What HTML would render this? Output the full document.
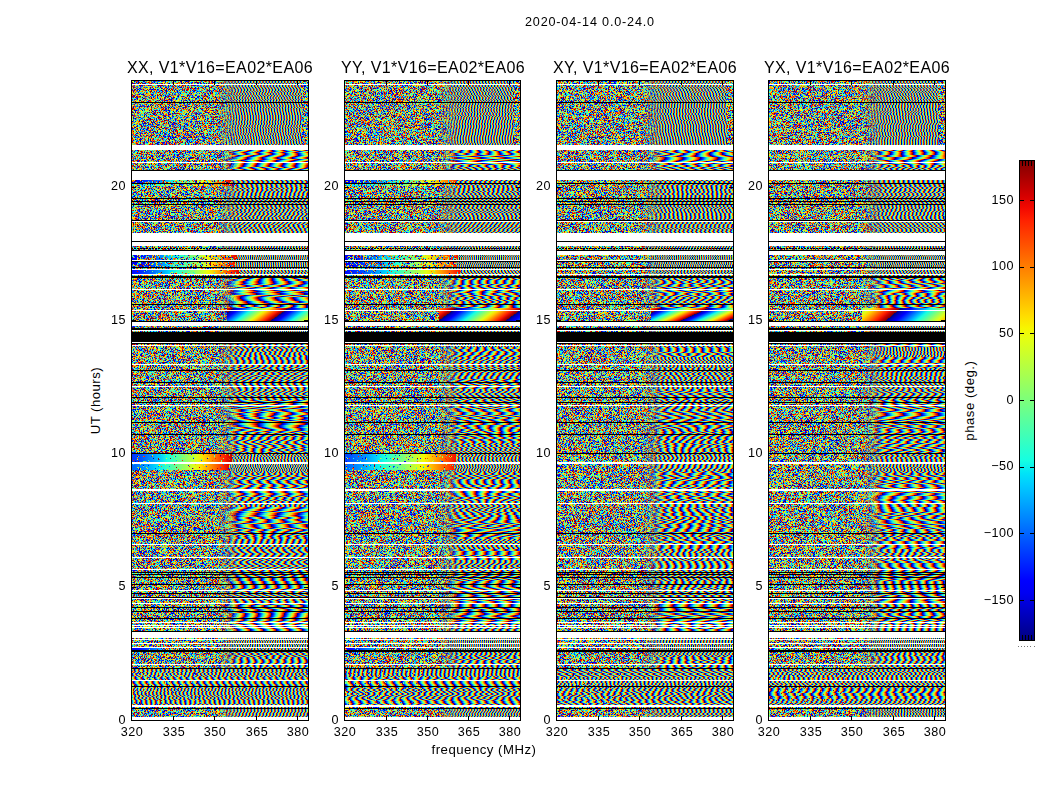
<!DOCTYPE html>
<html><head><meta charset="utf-8"><title>2020-04-14 0.0-24.0</title>
<style>
html,body{margin:0;padding:0;background:#fff;}
body{width:1050px;height:800px;position:relative;overflow:hidden;font-family:"Liberation Sans",sans-serif;color:#000;}
.t{position:absolute;white-space:nowrap;line-height:1;will-change:transform;}
.ax{position:absolute;box-sizing:border-box;border:1px solid #000;}
.tk{position:absolute;background:#000;}
.pan{position:absolute;display:block;}

</style></head><body>
<div class="t" id="ylab" style="will-change:auto;left:-4px;top:394px;width:200px;text-align:center;font-size:13.2px;letter-spacing:0.45px;transform:rotate(-90deg);">UT (hours)</div>
<div class="t" id="clab" style="will-change:auto;left:870px;top:393.5px;width:200px;text-align:center;font-size:13.2px;letter-spacing:0.5px;transform:rotate(-90deg);">phase (deg.)</div>
<svg width="0" height="0" style="position:absolute"><defs>
<filter id="nz0" x="0" y="0" width="100%" height="100%" color-interpolation-filters="sRGB"><feTurbulence type="fractalNoise" baseFrequency="0.43 0.37" numOctaves="1" seed="3"/><feColorMatrix type="matrix" values="1 0 0 0 0 1 0 0 0 0 1 0 0 0 0 0 0 0 0 1"/><feComponentTransfer><feFuncR type="discrete" tableValues="0 0 0 0 0 .08 .24 .4 .56 .73 .89 1 1 1 1 1 .84 .61 0 0 0 0 0 0 0 .08 .24 .4 .56 .73 .89 1 1 1 1 1 .84 .61 0 0 0 0 0 0 0 .08 .24 .4 .56 .73 .89 1 1 1 1 1 .84 .61 0 0 0 0 0 0 0 .08 .24 .4 .56 .73 .89 1 1 1 1 1 .84 .61 0 0 0 0 0 0 0 .08 .24 .4 .56 .73 .89 1 1 1 1 1 .84 .61 0 0 0 0 0 0 0 .08 .24 .4 .56 .73 .89 1 1 1 1 1 .84 .61 0 0 0 0 0 0 0 .08 .24 .4 .56 .73 .89 1 1 1 1 1 .84 .61 0 0 0 0 0 0 0 .08 .24 .4 .56 .73 .89 1 1 1 1 1 .84 .61 0 0"/><feFuncG type="discrete" tableValues="0 .2 .4 .6 .8 1 1 1 1 1 1 .87 .69 .5 .31 .13 0 0 0 0 0 .2 .4 .6 .8 1 1 1 1 1 1 .87 .69 .5 .31 .13 0 0 0 0 0 .2 .4 .6 .8 1 1 1 1 1 1 .87 .69 .5 .31 .13 0 0 0 0 0 .2 .4 .6 .8 1 1 1 1 1 1 .87 .69 .5 .31 .13 0 0 0 0 0 .2 .4 .6 .8 1 1 1 1 1 1 .87 .69 .5 .31 .13 0 0 0 0 0 .2 .4 .6 .8 1 1 1 1 1 1 .87 .69 .5 .31 .13 0 0 0 0 0 .2 .4 .6 .8 1 1 1 1 1 1 .87 .69 .5 .31 .13 0 0 0 0 0 .2 .4 .6 .8 1 1 1 1 1 1 .87 .69 .5 .31 .13 0 0 0 0"/><feFuncB type="discrete" tableValues="1 1 1 1 1 .89 .73 .56 .4 .24 .08 0 0 0 0 0 0 0 .61 .84 1 1 1 1 1 .89 .73 .56 .4 .24 .08 0 0 0 0 0 0 0 .61 .84 1 1 1 1 1 .89 .73 .56 .4 .24 .08 0 0 0 0 0 0 0 .61 .84 1 1 1 1 1 .89 .73 .56 .4 .24 .08 0 0 0 0 0 0 0 .61 .84 1 1 1 1 1 .89 .73 .56 .4 .24 .08 0 0 0 0 0 0 0 .61 .84 1 1 1 1 1 .89 .73 .56 .4 .24 .08 0 0 0 0 0 0 0 .61 .84 1 1 1 1 1 .89 .73 .56 .4 .24 .08 0 0 0 0 0 0 0 .61 .84 1 1 1 1 1 .89 .73 .56 .4 .24 .08 0 0 0 0 0 0 0 .61 .84"/></feComponentTransfer></filter>
<filter id="sp0" x="0" y="0" width="100%" height="100%" color-interpolation-filters="sRGB"><feTurbulence type="fractalNoise" baseFrequency="0.47 0.41" numOctaves="1" seed="40"/><feColorMatrix type="matrix" values="1 0 0 0 0 1 0 0 0 0 1 0 0 0 0 0 0 0 1 0"/><feComponentTransfer><feFuncR type="discrete" tableValues="0 0 0 0 0 .08 .24 .4 .56 .73 .89 1 1 1 1 1 .84 .61 0 0 0 0 0 0 0 .08 .24 .4 .56 .73 .89 1 1 1 1 1 .84 .61 0 0 0 0 0 0 0 .08 .24 .4 .56 .73 .89 1 1 1 1 1 .84 .61 0 0 0 0 0 0 0 .08 .24 .4 .56 .73 .89 1 1 1 1 1 .84 .61 0 0 0 0 0 0 0 .08 .24 .4 .56 .73 .89 1 1 1 1 1 .84 .61 0 0 0 0 0 0 0 .08 .24 .4 .56 .73 .89 1 1 1 1 1 .84 .61 0 0 0 0 0 0 0 .08 .24 .4 .56 .73 .89 1 1 1 1 1 .84 .61 0 0 0 0 0 0 0 .08 .24 .4 .56 .73 .89 1 1 1 1 1 .84 .61 0 0"/><feFuncG type="discrete" tableValues="0 .2 .4 .6 .8 1 1 1 1 1 1 .87 .69 .5 .31 .13 0 0 0 0 0 .2 .4 .6 .8 1 1 1 1 1 1 .87 .69 .5 .31 .13 0 0 0 0 0 .2 .4 .6 .8 1 1 1 1 1 1 .87 .69 .5 .31 .13 0 0 0 0 0 .2 .4 .6 .8 1 1 1 1 1 1 .87 .69 .5 .31 .13 0 0 0 0 0 .2 .4 .6 .8 1 1 1 1 1 1 .87 .69 .5 .31 .13 0 0 0 0 0 .2 .4 .6 .8 1 1 1 1 1 1 .87 .69 .5 .31 .13 0 0 0 0 0 .2 .4 .6 .8 1 1 1 1 1 1 .87 .69 .5 .31 .13 0 0 0 0 0 .2 .4 .6 .8 1 1 1 1 1 1 .87 .69 .5 .31 .13 0 0 0 0"/><feFuncB type="discrete" tableValues="1 1 1 1 1 .89 .73 .56 .4 .24 .08 0 0 0 0 0 0 0 .61 .84 1 1 1 1 1 .89 .73 .56 .4 .24 .08 0 0 0 0 0 0 0 .61 .84 1 1 1 1 1 .89 .73 .56 .4 .24 .08 0 0 0 0 0 0 0 .61 .84 1 1 1 1 1 .89 .73 .56 .4 .24 .08 0 0 0 0 0 0 0 .61 .84 1 1 1 1 1 .89 .73 .56 .4 .24 .08 0 0 0 0 0 0 0 .61 .84 1 1 1 1 1 .89 .73 .56 .4 .24 .08 0 0 0 0 0 0 0 .61 .84 1 1 1 1 1 .89 .73 .56 .4 .24 .08 0 0 0 0 0 0 0 .61 .84 1 1 1 1 1 .89 .73 .56 .4 .24 .08 0 0 0 0 0 0 0 .61 .84"/><feFuncA type="discrete" tableValues="0 0 0 0 0 0 0 0 0 0 1 1 1 1 1 1 1 1 1 1"/></feComponentTransfer></filter>
<filter id="sq0" x="0" y="0" width="100%" height="100%" color-interpolation-filters="sRGB"><feTurbulence type="fractalNoise" baseFrequency="0.47 0.41" numOctaves="1" seed="50"/><feColorMatrix type="matrix" values="1 0 0 0 0 1 0 0 0 0 1 0 0 0 0 0 0 0 1 0"/><feComponentTransfer><feFuncR type="discrete" tableValues="0 0 0 0 0 .08 .24 .4 .56 .73 .89 1 1 1 1 1 .84 .61 0 0 0 0 0 0 0 .08 .24 .4 .56 .73 .89 1 1 1 1 1 .84 .61 0 0 0 0 0 0 0 .08 .24 .4 .56 .73 .89 1 1 1 1 1 .84 .61 0 0 0 0 0 0 0 .08 .24 .4 .56 .73 .89 1 1 1 1 1 .84 .61 0 0 0 0 0 0 0 .08 .24 .4 .56 .73 .89 1 1 1 1 1 .84 .61 0 0 0 0 0 0 0 .08 .24 .4 .56 .73 .89 1 1 1 1 1 .84 .61 0 0 0 0 0 0 0 .08 .24 .4 .56 .73 .89 1 1 1 1 1 .84 .61 0 0 0 0 0 0 0 .08 .24 .4 .56 .73 .89 1 1 1 1 1 .84 .61 0 0"/><feFuncG type="discrete" tableValues="0 .2 .4 .6 .8 1 1 1 1 1 1 .87 .69 .5 .31 .13 0 0 0 0 0 .2 .4 .6 .8 1 1 1 1 1 1 .87 .69 .5 .31 .13 0 0 0 0 0 .2 .4 .6 .8 1 1 1 1 1 1 .87 .69 .5 .31 .13 0 0 0 0 0 .2 .4 .6 .8 1 1 1 1 1 1 .87 .69 .5 .31 .13 0 0 0 0 0 .2 .4 .6 .8 1 1 1 1 1 1 .87 .69 .5 .31 .13 0 0 0 0 0 .2 .4 .6 .8 1 1 1 1 1 1 .87 .69 .5 .31 .13 0 0 0 0 0 .2 .4 .6 .8 1 1 1 1 1 1 .87 .69 .5 .31 .13 0 0 0 0 0 .2 .4 .6 .8 1 1 1 1 1 1 .87 .69 .5 .31 .13 0 0 0 0"/><feFuncB type="discrete" tableValues="1 1 1 1 1 .89 .73 .56 .4 .24 .08 0 0 0 0 0 0 0 .61 .84 1 1 1 1 1 .89 .73 .56 .4 .24 .08 0 0 0 0 0 0 0 .61 .84 1 1 1 1 1 .89 .73 .56 .4 .24 .08 0 0 0 0 0 0 0 .61 .84 1 1 1 1 1 .89 .73 .56 .4 .24 .08 0 0 0 0 0 0 0 .61 .84 1 1 1 1 1 .89 .73 .56 .4 .24 .08 0 0 0 0 0 0 0 .61 .84 1 1 1 1 1 .89 .73 .56 .4 .24 .08 0 0 0 0 0 0 0 .61 .84 1 1 1 1 1 .89 .73 .56 .4 .24 .08 0 0 0 0 0 0 0 .61 .84 1 1 1 1 1 .89 .73 .56 .4 .24 .08 0 0 0 0 0 0 0 .61 .84"/><feFuncA type="discrete" tableValues="0 0 0 0 0 0 0 0 0 0 0 0 0 1 1 1 1 1 1 1"/></feComponentTransfer></filter>
<filter id="nz1" x="0" y="0" width="100%" height="100%" color-interpolation-filters="sRGB"><feTurbulence type="fractalNoise" baseFrequency="0.43 0.37" numOctaves="1" seed="10"/><feColorMatrix type="matrix" values="1 0 0 0 0 1 0 0 0 0 1 0 0 0 0 0 0 0 0 1"/><feComponentTransfer><feFuncR type="discrete" tableValues="0 0 0 0 0 .08 .24 .4 .56 .73 .89 1 1 1 1 1 .84 .61 0 0 0 0 0 0 0 .08 .24 .4 .56 .73 .89 1 1 1 1 1 .84 .61 0 0 0 0 0 0 0 .08 .24 .4 .56 .73 .89 1 1 1 1 1 .84 .61 0 0 0 0 0 0 0 .08 .24 .4 .56 .73 .89 1 1 1 1 1 .84 .61 0 0 0 0 0 0 0 .08 .24 .4 .56 .73 .89 1 1 1 1 1 .84 .61 0 0 0 0 0 0 0 .08 .24 .4 .56 .73 .89 1 1 1 1 1 .84 .61 0 0 0 0 0 0 0 .08 .24 .4 .56 .73 .89 1 1 1 1 1 .84 .61 0 0 0 0 0 0 0 .08 .24 .4 .56 .73 .89 1 1 1 1 1 .84 .61 0 0"/><feFuncG type="discrete" tableValues="0 .2 .4 .6 .8 1 1 1 1 1 1 .87 .69 .5 .31 .13 0 0 0 0 0 .2 .4 .6 .8 1 1 1 1 1 1 .87 .69 .5 .31 .13 0 0 0 0 0 .2 .4 .6 .8 1 1 1 1 1 1 .87 .69 .5 .31 .13 0 0 0 0 0 .2 .4 .6 .8 1 1 1 1 1 1 .87 .69 .5 .31 .13 0 0 0 0 0 .2 .4 .6 .8 1 1 1 1 1 1 .87 .69 .5 .31 .13 0 0 0 0 0 .2 .4 .6 .8 1 1 1 1 1 1 .87 .69 .5 .31 .13 0 0 0 0 0 .2 .4 .6 .8 1 1 1 1 1 1 .87 .69 .5 .31 .13 0 0 0 0 0 .2 .4 .6 .8 1 1 1 1 1 1 .87 .69 .5 .31 .13 0 0 0 0"/><feFuncB type="discrete" tableValues="1 1 1 1 1 .89 .73 .56 .4 .24 .08 0 0 0 0 0 0 0 .61 .84 1 1 1 1 1 .89 .73 .56 .4 .24 .08 0 0 0 0 0 0 0 .61 .84 1 1 1 1 1 .89 .73 .56 .4 .24 .08 0 0 0 0 0 0 0 .61 .84 1 1 1 1 1 .89 .73 .56 .4 .24 .08 0 0 0 0 0 0 0 .61 .84 1 1 1 1 1 .89 .73 .56 .4 .24 .08 0 0 0 0 0 0 0 .61 .84 1 1 1 1 1 .89 .73 .56 .4 .24 .08 0 0 0 0 0 0 0 .61 .84 1 1 1 1 1 .89 .73 .56 .4 .24 .08 0 0 0 0 0 0 0 .61 .84 1 1 1 1 1 .89 .73 .56 .4 .24 .08 0 0 0 0 0 0 0 .61 .84"/></feComponentTransfer></filter>
<filter id="sp1" x="0" y="0" width="100%" height="100%" color-interpolation-filters="sRGB"><feTurbulence type="fractalNoise" baseFrequency="0.47 0.41" numOctaves="1" seed="41"/><feColorMatrix type="matrix" values="1 0 0 0 0 1 0 0 0 0 1 0 0 0 0 0 0 0 1 0"/><feComponentTransfer><feFuncR type="discrete" tableValues="0 0 0 0 0 .08 .24 .4 .56 .73 .89 1 1 1 1 1 .84 .61 0 0 0 0 0 0 0 .08 .24 .4 .56 .73 .89 1 1 1 1 1 .84 .61 0 0 0 0 0 0 0 .08 .24 .4 .56 .73 .89 1 1 1 1 1 .84 .61 0 0 0 0 0 0 0 .08 .24 .4 .56 .73 .89 1 1 1 1 1 .84 .61 0 0 0 0 0 0 0 .08 .24 .4 .56 .73 .89 1 1 1 1 1 .84 .61 0 0 0 0 0 0 0 .08 .24 .4 .56 .73 .89 1 1 1 1 1 .84 .61 0 0 0 0 0 0 0 .08 .24 .4 .56 .73 .89 1 1 1 1 1 .84 .61 0 0 0 0 0 0 0 .08 .24 .4 .56 .73 .89 1 1 1 1 1 .84 .61 0 0"/><feFuncG type="discrete" tableValues="0 .2 .4 .6 .8 1 1 1 1 1 1 .87 .69 .5 .31 .13 0 0 0 0 0 .2 .4 .6 .8 1 1 1 1 1 1 .87 .69 .5 .31 .13 0 0 0 0 0 .2 .4 .6 .8 1 1 1 1 1 1 .87 .69 .5 .31 .13 0 0 0 0 0 .2 .4 .6 .8 1 1 1 1 1 1 .87 .69 .5 .31 .13 0 0 0 0 0 .2 .4 .6 .8 1 1 1 1 1 1 .87 .69 .5 .31 .13 0 0 0 0 0 .2 .4 .6 .8 1 1 1 1 1 1 .87 .69 .5 .31 .13 0 0 0 0 0 .2 .4 .6 .8 1 1 1 1 1 1 .87 .69 .5 .31 .13 0 0 0 0 0 .2 .4 .6 .8 1 1 1 1 1 1 .87 .69 .5 .31 .13 0 0 0 0"/><feFuncB type="discrete" tableValues="1 1 1 1 1 .89 .73 .56 .4 .24 .08 0 0 0 0 0 0 0 .61 .84 1 1 1 1 1 .89 .73 .56 .4 .24 .08 0 0 0 0 0 0 0 .61 .84 1 1 1 1 1 .89 .73 .56 .4 .24 .08 0 0 0 0 0 0 0 .61 .84 1 1 1 1 1 .89 .73 .56 .4 .24 .08 0 0 0 0 0 0 0 .61 .84 1 1 1 1 1 .89 .73 .56 .4 .24 .08 0 0 0 0 0 0 0 .61 .84 1 1 1 1 1 .89 .73 .56 .4 .24 .08 0 0 0 0 0 0 0 .61 .84 1 1 1 1 1 .89 .73 .56 .4 .24 .08 0 0 0 0 0 0 0 .61 .84 1 1 1 1 1 .89 .73 .56 .4 .24 .08 0 0 0 0 0 0 0 .61 .84"/><feFuncA type="discrete" tableValues="0 0 0 0 0 0 0 0 0 0 1 1 1 1 1 1 1 1 1 1"/></feComponentTransfer></filter>
<filter id="sq1" x="0" y="0" width="100%" height="100%" color-interpolation-filters="sRGB"><feTurbulence type="fractalNoise" baseFrequency="0.47 0.41" numOctaves="1" seed="51"/><feColorMatrix type="matrix" values="1 0 0 0 0 1 0 0 0 0 1 0 0 0 0 0 0 0 1 0"/><feComponentTransfer><feFuncR type="discrete" tableValues="0 0 0 0 0 .08 .24 .4 .56 .73 .89 1 1 1 1 1 .84 .61 0 0 0 0 0 0 0 .08 .24 .4 .56 .73 .89 1 1 1 1 1 .84 .61 0 0 0 0 0 0 0 .08 .24 .4 .56 .73 .89 1 1 1 1 1 .84 .61 0 0 0 0 0 0 0 .08 .24 .4 .56 .73 .89 1 1 1 1 1 .84 .61 0 0 0 0 0 0 0 .08 .24 .4 .56 .73 .89 1 1 1 1 1 .84 .61 0 0 0 0 0 0 0 .08 .24 .4 .56 .73 .89 1 1 1 1 1 .84 .61 0 0 0 0 0 0 0 .08 .24 .4 .56 .73 .89 1 1 1 1 1 .84 .61 0 0 0 0 0 0 0 .08 .24 .4 .56 .73 .89 1 1 1 1 1 .84 .61 0 0"/><feFuncG type="discrete" tableValues="0 .2 .4 .6 .8 1 1 1 1 1 1 .87 .69 .5 .31 .13 0 0 0 0 0 .2 .4 .6 .8 1 1 1 1 1 1 .87 .69 .5 .31 .13 0 0 0 0 0 .2 .4 .6 .8 1 1 1 1 1 1 .87 .69 .5 .31 .13 0 0 0 0 0 .2 .4 .6 .8 1 1 1 1 1 1 .87 .69 .5 .31 .13 0 0 0 0 0 .2 .4 .6 .8 1 1 1 1 1 1 .87 .69 .5 .31 .13 0 0 0 0 0 .2 .4 .6 .8 1 1 1 1 1 1 .87 .69 .5 .31 .13 0 0 0 0 0 .2 .4 .6 .8 1 1 1 1 1 1 .87 .69 .5 .31 .13 0 0 0 0 0 .2 .4 .6 .8 1 1 1 1 1 1 .87 .69 .5 .31 .13 0 0 0 0"/><feFuncB type="discrete" tableValues="1 1 1 1 1 .89 .73 .56 .4 .24 .08 0 0 0 0 0 0 0 .61 .84 1 1 1 1 1 .89 .73 .56 .4 .24 .08 0 0 0 0 0 0 0 .61 .84 1 1 1 1 1 .89 .73 .56 .4 .24 .08 0 0 0 0 0 0 0 .61 .84 1 1 1 1 1 .89 .73 .56 .4 .24 .08 0 0 0 0 0 0 0 .61 .84 1 1 1 1 1 .89 .73 .56 .4 .24 .08 0 0 0 0 0 0 0 .61 .84 1 1 1 1 1 .89 .73 .56 .4 .24 .08 0 0 0 0 0 0 0 .61 .84 1 1 1 1 1 .89 .73 .56 .4 .24 .08 0 0 0 0 0 0 0 .61 .84 1 1 1 1 1 .89 .73 .56 .4 .24 .08 0 0 0 0 0 0 0 .61 .84"/><feFuncA type="discrete" tableValues="0 0 0 0 0 0 0 0 0 0 0 0 0 1 1 1 1 1 1 1"/></feComponentTransfer></filter>
<filter id="nz2" x="0" y="0" width="100%" height="100%" color-interpolation-filters="sRGB"><feTurbulence type="fractalNoise" baseFrequency="0.43 0.37" numOctaves="1" seed="17"/><feColorMatrix type="matrix" values="1 0 0 0 0 1 0 0 0 0 1 0 0 0 0 0 0 0 0 1"/><feComponentTransfer><feFuncR type="discrete" tableValues="0 0 0 0 0 .08 .24 .4 .56 .73 .89 1 1 1 1 1 .84 .61 0 0 0 0 0 0 0 .08 .24 .4 .56 .73 .89 1 1 1 1 1 .84 .61 0 0 0 0 0 0 0 .08 .24 .4 .56 .73 .89 1 1 1 1 1 .84 .61 0 0 0 0 0 0 0 .08 .24 .4 .56 .73 .89 1 1 1 1 1 .84 .61 0 0 0 0 0 0 0 .08 .24 .4 .56 .73 .89 1 1 1 1 1 .84 .61 0 0 0 0 0 0 0 .08 .24 .4 .56 .73 .89 1 1 1 1 1 .84 .61 0 0 0 0 0 0 0 .08 .24 .4 .56 .73 .89 1 1 1 1 1 .84 .61 0 0 0 0 0 0 0 .08 .24 .4 .56 .73 .89 1 1 1 1 1 .84 .61 0 0"/><feFuncG type="discrete" tableValues="0 .2 .4 .6 .8 1 1 1 1 1 1 .87 .69 .5 .31 .13 0 0 0 0 0 .2 .4 .6 .8 1 1 1 1 1 1 .87 .69 .5 .31 .13 0 0 0 0 0 .2 .4 .6 .8 1 1 1 1 1 1 .87 .69 .5 .31 .13 0 0 0 0 0 .2 .4 .6 .8 1 1 1 1 1 1 .87 .69 .5 .31 .13 0 0 0 0 0 .2 .4 .6 .8 1 1 1 1 1 1 .87 .69 .5 .31 .13 0 0 0 0 0 .2 .4 .6 .8 1 1 1 1 1 1 .87 .69 .5 .31 .13 0 0 0 0 0 .2 .4 .6 .8 1 1 1 1 1 1 .87 .69 .5 .31 .13 0 0 0 0 0 .2 .4 .6 .8 1 1 1 1 1 1 .87 .69 .5 .31 .13 0 0 0 0"/><feFuncB type="discrete" tableValues="1 1 1 1 1 .89 .73 .56 .4 .24 .08 0 0 0 0 0 0 0 .61 .84 1 1 1 1 1 .89 .73 .56 .4 .24 .08 0 0 0 0 0 0 0 .61 .84 1 1 1 1 1 .89 .73 .56 .4 .24 .08 0 0 0 0 0 0 0 .61 .84 1 1 1 1 1 .89 .73 .56 .4 .24 .08 0 0 0 0 0 0 0 .61 .84 1 1 1 1 1 .89 .73 .56 .4 .24 .08 0 0 0 0 0 0 0 .61 .84 1 1 1 1 1 .89 .73 .56 .4 .24 .08 0 0 0 0 0 0 0 .61 .84 1 1 1 1 1 .89 .73 .56 .4 .24 .08 0 0 0 0 0 0 0 .61 .84 1 1 1 1 1 .89 .73 .56 .4 .24 .08 0 0 0 0 0 0 0 .61 .84"/></feComponentTransfer></filter>
<filter id="sp2" x="0" y="0" width="100%" height="100%" color-interpolation-filters="sRGB"><feTurbulence type="fractalNoise" baseFrequency="0.47 0.41" numOctaves="1" seed="42"/><feColorMatrix type="matrix" values="1 0 0 0 0 1 0 0 0 0 1 0 0 0 0 0 0 0 1 0"/><feComponentTransfer><feFuncR type="discrete" tableValues="0 0 0 0 0 .08 .24 .4 .56 .73 .89 1 1 1 1 1 .84 .61 0 0 0 0 0 0 0 .08 .24 .4 .56 .73 .89 1 1 1 1 1 .84 .61 0 0 0 0 0 0 0 .08 .24 .4 .56 .73 .89 1 1 1 1 1 .84 .61 0 0 0 0 0 0 0 .08 .24 .4 .56 .73 .89 1 1 1 1 1 .84 .61 0 0 0 0 0 0 0 .08 .24 .4 .56 .73 .89 1 1 1 1 1 .84 .61 0 0 0 0 0 0 0 .08 .24 .4 .56 .73 .89 1 1 1 1 1 .84 .61 0 0 0 0 0 0 0 .08 .24 .4 .56 .73 .89 1 1 1 1 1 .84 .61 0 0 0 0 0 0 0 .08 .24 .4 .56 .73 .89 1 1 1 1 1 .84 .61 0 0"/><feFuncG type="discrete" tableValues="0 .2 .4 .6 .8 1 1 1 1 1 1 .87 .69 .5 .31 .13 0 0 0 0 0 .2 .4 .6 .8 1 1 1 1 1 1 .87 .69 .5 .31 .13 0 0 0 0 0 .2 .4 .6 .8 1 1 1 1 1 1 .87 .69 .5 .31 .13 0 0 0 0 0 .2 .4 .6 .8 1 1 1 1 1 1 .87 .69 .5 .31 .13 0 0 0 0 0 .2 .4 .6 .8 1 1 1 1 1 1 .87 .69 .5 .31 .13 0 0 0 0 0 .2 .4 .6 .8 1 1 1 1 1 1 .87 .69 .5 .31 .13 0 0 0 0 0 .2 .4 .6 .8 1 1 1 1 1 1 .87 .69 .5 .31 .13 0 0 0 0 0 .2 .4 .6 .8 1 1 1 1 1 1 .87 .69 .5 .31 .13 0 0 0 0"/><feFuncB type="discrete" tableValues="1 1 1 1 1 .89 .73 .56 .4 .24 .08 0 0 0 0 0 0 0 .61 .84 1 1 1 1 1 .89 .73 .56 .4 .24 .08 0 0 0 0 0 0 0 .61 .84 1 1 1 1 1 .89 .73 .56 .4 .24 .08 0 0 0 0 0 0 0 .61 .84 1 1 1 1 1 .89 .73 .56 .4 .24 .08 0 0 0 0 0 0 0 .61 .84 1 1 1 1 1 .89 .73 .56 .4 .24 .08 0 0 0 0 0 0 0 .61 .84 1 1 1 1 1 .89 .73 .56 .4 .24 .08 0 0 0 0 0 0 0 .61 .84 1 1 1 1 1 .89 .73 .56 .4 .24 .08 0 0 0 0 0 0 0 .61 .84 1 1 1 1 1 .89 .73 .56 .4 .24 .08 0 0 0 0 0 0 0 .61 .84"/><feFuncA type="discrete" tableValues="0 0 0 0 0 0 0 0 0 0 1 1 1 1 1 1 1 1 1 1"/></feComponentTransfer></filter>
<filter id="sq2" x="0" y="0" width="100%" height="100%" color-interpolation-filters="sRGB"><feTurbulence type="fractalNoise" baseFrequency="0.47 0.41" numOctaves="1" seed="52"/><feColorMatrix type="matrix" values="1 0 0 0 0 1 0 0 0 0 1 0 0 0 0 0 0 0 1 0"/><feComponentTransfer><feFuncR type="discrete" tableValues="0 0 0 0 0 .08 .24 .4 .56 .73 .89 1 1 1 1 1 .84 .61 0 0 0 0 0 0 0 .08 .24 .4 .56 .73 .89 1 1 1 1 1 .84 .61 0 0 0 0 0 0 0 .08 .24 .4 .56 .73 .89 1 1 1 1 1 .84 .61 0 0 0 0 0 0 0 .08 .24 .4 .56 .73 .89 1 1 1 1 1 .84 .61 0 0 0 0 0 0 0 .08 .24 .4 .56 .73 .89 1 1 1 1 1 .84 .61 0 0 0 0 0 0 0 .08 .24 .4 .56 .73 .89 1 1 1 1 1 .84 .61 0 0 0 0 0 0 0 .08 .24 .4 .56 .73 .89 1 1 1 1 1 .84 .61 0 0 0 0 0 0 0 .08 .24 .4 .56 .73 .89 1 1 1 1 1 .84 .61 0 0"/><feFuncG type="discrete" tableValues="0 .2 .4 .6 .8 1 1 1 1 1 1 .87 .69 .5 .31 .13 0 0 0 0 0 .2 .4 .6 .8 1 1 1 1 1 1 .87 .69 .5 .31 .13 0 0 0 0 0 .2 .4 .6 .8 1 1 1 1 1 1 .87 .69 .5 .31 .13 0 0 0 0 0 .2 .4 .6 .8 1 1 1 1 1 1 .87 .69 .5 .31 .13 0 0 0 0 0 .2 .4 .6 .8 1 1 1 1 1 1 .87 .69 .5 .31 .13 0 0 0 0 0 .2 .4 .6 .8 1 1 1 1 1 1 .87 .69 .5 .31 .13 0 0 0 0 0 .2 .4 .6 .8 1 1 1 1 1 1 .87 .69 .5 .31 .13 0 0 0 0 0 .2 .4 .6 .8 1 1 1 1 1 1 .87 .69 .5 .31 .13 0 0 0 0"/><feFuncB type="discrete" tableValues="1 1 1 1 1 .89 .73 .56 .4 .24 .08 0 0 0 0 0 0 0 .61 .84 1 1 1 1 1 .89 .73 .56 .4 .24 .08 0 0 0 0 0 0 0 .61 .84 1 1 1 1 1 .89 .73 .56 .4 .24 .08 0 0 0 0 0 0 0 .61 .84 1 1 1 1 1 .89 .73 .56 .4 .24 .08 0 0 0 0 0 0 0 .61 .84 1 1 1 1 1 .89 .73 .56 .4 .24 .08 0 0 0 0 0 0 0 .61 .84 1 1 1 1 1 .89 .73 .56 .4 .24 .08 0 0 0 0 0 0 0 .61 .84 1 1 1 1 1 .89 .73 .56 .4 .24 .08 0 0 0 0 0 0 0 .61 .84 1 1 1 1 1 .89 .73 .56 .4 .24 .08 0 0 0 0 0 0 0 .61 .84"/><feFuncA type="discrete" tableValues="0 0 0 0 0 0 0 0 0 0 0 0 0 1 1 1 1 1 1 1"/></feComponentTransfer></filter>
<filter id="nz3" x="0" y="0" width="100%" height="100%" color-interpolation-filters="sRGB"><feTurbulence type="fractalNoise" baseFrequency="0.43 0.37" numOctaves="1" seed="24"/><feColorMatrix type="matrix" values="1 0 0 0 0 1 0 0 0 0 1 0 0 0 0 0 0 0 0 1"/><feComponentTransfer><feFuncR type="discrete" tableValues="0 0 0 0 0 .08 .24 .4 .56 .73 .89 1 1 1 1 1 .84 .61 0 0 0 0 0 0 0 .08 .24 .4 .56 .73 .89 1 1 1 1 1 .84 .61 0 0 0 0 0 0 0 .08 .24 .4 .56 .73 .89 1 1 1 1 1 .84 .61 0 0 0 0 0 0 0 .08 .24 .4 .56 .73 .89 1 1 1 1 1 .84 .61 0 0 0 0 0 0 0 .08 .24 .4 .56 .73 .89 1 1 1 1 1 .84 .61 0 0 0 0 0 0 0 .08 .24 .4 .56 .73 .89 1 1 1 1 1 .84 .61 0 0 0 0 0 0 0 .08 .24 .4 .56 .73 .89 1 1 1 1 1 .84 .61 0 0 0 0 0 0 0 .08 .24 .4 .56 .73 .89 1 1 1 1 1 .84 .61 0 0"/><feFuncG type="discrete" tableValues="0 .2 .4 .6 .8 1 1 1 1 1 1 .87 .69 .5 .31 .13 0 0 0 0 0 .2 .4 .6 .8 1 1 1 1 1 1 .87 .69 .5 .31 .13 0 0 0 0 0 .2 .4 .6 .8 1 1 1 1 1 1 .87 .69 .5 .31 .13 0 0 0 0 0 .2 .4 .6 .8 1 1 1 1 1 1 .87 .69 .5 .31 .13 0 0 0 0 0 .2 .4 .6 .8 1 1 1 1 1 1 .87 .69 .5 .31 .13 0 0 0 0 0 .2 .4 .6 .8 1 1 1 1 1 1 .87 .69 .5 .31 .13 0 0 0 0 0 .2 .4 .6 .8 1 1 1 1 1 1 .87 .69 .5 .31 .13 0 0 0 0 0 .2 .4 .6 .8 1 1 1 1 1 1 .87 .69 .5 .31 .13 0 0 0 0"/><feFuncB type="discrete" tableValues="1 1 1 1 1 .89 .73 .56 .4 .24 .08 0 0 0 0 0 0 0 .61 .84 1 1 1 1 1 .89 .73 .56 .4 .24 .08 0 0 0 0 0 0 0 .61 .84 1 1 1 1 1 .89 .73 .56 .4 .24 .08 0 0 0 0 0 0 0 .61 .84 1 1 1 1 1 .89 .73 .56 .4 .24 .08 0 0 0 0 0 0 0 .61 .84 1 1 1 1 1 .89 .73 .56 .4 .24 .08 0 0 0 0 0 0 0 .61 .84 1 1 1 1 1 .89 .73 .56 .4 .24 .08 0 0 0 0 0 0 0 .61 .84 1 1 1 1 1 .89 .73 .56 .4 .24 .08 0 0 0 0 0 0 0 .61 .84 1 1 1 1 1 .89 .73 .56 .4 .24 .08 0 0 0 0 0 0 0 .61 .84"/></feComponentTransfer></filter>
<filter id="sp3" x="0" y="0" width="100%" height="100%" color-interpolation-filters="sRGB"><feTurbulence type="fractalNoise" baseFrequency="0.47 0.41" numOctaves="1" seed="43"/><feColorMatrix type="matrix" values="1 0 0 0 0 1 0 0 0 0 1 0 0 0 0 0 0 0 1 0"/><feComponentTransfer><feFuncR type="discrete" tableValues="0 0 0 0 0 .08 .24 .4 .56 .73 .89 1 1 1 1 1 .84 .61 0 0 0 0 0 0 0 .08 .24 .4 .56 .73 .89 1 1 1 1 1 .84 .61 0 0 0 0 0 0 0 .08 .24 .4 .56 .73 .89 1 1 1 1 1 .84 .61 0 0 0 0 0 0 0 .08 .24 .4 .56 .73 .89 1 1 1 1 1 .84 .61 0 0 0 0 0 0 0 .08 .24 .4 .56 .73 .89 1 1 1 1 1 .84 .61 0 0 0 0 0 0 0 .08 .24 .4 .56 .73 .89 1 1 1 1 1 .84 .61 0 0 0 0 0 0 0 .08 .24 .4 .56 .73 .89 1 1 1 1 1 .84 .61 0 0 0 0 0 0 0 .08 .24 .4 .56 .73 .89 1 1 1 1 1 .84 .61 0 0"/><feFuncG type="discrete" tableValues="0 .2 .4 .6 .8 1 1 1 1 1 1 .87 .69 .5 .31 .13 0 0 0 0 0 .2 .4 .6 .8 1 1 1 1 1 1 .87 .69 .5 .31 .13 0 0 0 0 0 .2 .4 .6 .8 1 1 1 1 1 1 .87 .69 .5 .31 .13 0 0 0 0 0 .2 .4 .6 .8 1 1 1 1 1 1 .87 .69 .5 .31 .13 0 0 0 0 0 .2 .4 .6 .8 1 1 1 1 1 1 .87 .69 .5 .31 .13 0 0 0 0 0 .2 .4 .6 .8 1 1 1 1 1 1 .87 .69 .5 .31 .13 0 0 0 0 0 .2 .4 .6 .8 1 1 1 1 1 1 .87 .69 .5 .31 .13 0 0 0 0 0 .2 .4 .6 .8 1 1 1 1 1 1 .87 .69 .5 .31 .13 0 0 0 0"/><feFuncB type="discrete" tableValues="1 1 1 1 1 .89 .73 .56 .4 .24 .08 0 0 0 0 0 0 0 .61 .84 1 1 1 1 1 .89 .73 .56 .4 .24 .08 0 0 0 0 0 0 0 .61 .84 1 1 1 1 1 .89 .73 .56 .4 .24 .08 0 0 0 0 0 0 0 .61 .84 1 1 1 1 1 .89 .73 .56 .4 .24 .08 0 0 0 0 0 0 0 .61 .84 1 1 1 1 1 .89 .73 .56 .4 .24 .08 0 0 0 0 0 0 0 .61 .84 1 1 1 1 1 .89 .73 .56 .4 .24 .08 0 0 0 0 0 0 0 .61 .84 1 1 1 1 1 .89 .73 .56 .4 .24 .08 0 0 0 0 0 0 0 .61 .84 1 1 1 1 1 .89 .73 .56 .4 .24 .08 0 0 0 0 0 0 0 .61 .84"/><feFuncA type="discrete" tableValues="0 0 0 0 0 0 0 0 0 0 1 1 1 1 1 1 1 1 1 1"/></feComponentTransfer></filter>
<filter id="sq3" x="0" y="0" width="100%" height="100%" color-interpolation-filters="sRGB"><feTurbulence type="fractalNoise" baseFrequency="0.47 0.41" numOctaves="1" seed="53"/><feColorMatrix type="matrix" values="1 0 0 0 0 1 0 0 0 0 1 0 0 0 0 0 0 0 1 0"/><feComponentTransfer><feFuncR type="discrete" tableValues="0 0 0 0 0 .08 .24 .4 .56 .73 .89 1 1 1 1 1 .84 .61 0 0 0 0 0 0 0 .08 .24 .4 .56 .73 .89 1 1 1 1 1 .84 .61 0 0 0 0 0 0 0 .08 .24 .4 .56 .73 .89 1 1 1 1 1 .84 .61 0 0 0 0 0 0 0 .08 .24 .4 .56 .73 .89 1 1 1 1 1 .84 .61 0 0 0 0 0 0 0 .08 .24 .4 .56 .73 .89 1 1 1 1 1 .84 .61 0 0 0 0 0 0 0 .08 .24 .4 .56 .73 .89 1 1 1 1 1 .84 .61 0 0 0 0 0 0 0 .08 .24 .4 .56 .73 .89 1 1 1 1 1 .84 .61 0 0 0 0 0 0 0 .08 .24 .4 .56 .73 .89 1 1 1 1 1 .84 .61 0 0"/><feFuncG type="discrete" tableValues="0 .2 .4 .6 .8 1 1 1 1 1 1 .87 .69 .5 .31 .13 0 0 0 0 0 .2 .4 .6 .8 1 1 1 1 1 1 .87 .69 .5 .31 .13 0 0 0 0 0 .2 .4 .6 .8 1 1 1 1 1 1 .87 .69 .5 .31 .13 0 0 0 0 0 .2 .4 .6 .8 1 1 1 1 1 1 .87 .69 .5 .31 .13 0 0 0 0 0 .2 .4 .6 .8 1 1 1 1 1 1 .87 .69 .5 .31 .13 0 0 0 0 0 .2 .4 .6 .8 1 1 1 1 1 1 .87 .69 .5 .31 .13 0 0 0 0 0 .2 .4 .6 .8 1 1 1 1 1 1 .87 .69 .5 .31 .13 0 0 0 0 0 .2 .4 .6 .8 1 1 1 1 1 1 .87 .69 .5 .31 .13 0 0 0 0"/><feFuncB type="discrete" tableValues="1 1 1 1 1 .89 .73 .56 .4 .24 .08 0 0 0 0 0 0 0 .61 .84 1 1 1 1 1 .89 .73 .56 .4 .24 .08 0 0 0 0 0 0 0 .61 .84 1 1 1 1 1 .89 .73 .56 .4 .24 .08 0 0 0 0 0 0 0 .61 .84 1 1 1 1 1 .89 .73 .56 .4 .24 .08 0 0 0 0 0 0 0 .61 .84 1 1 1 1 1 .89 .73 .56 .4 .24 .08 0 0 0 0 0 0 0 .61 .84 1 1 1 1 1 .89 .73 .56 .4 .24 .08 0 0 0 0 0 0 0 .61 .84 1 1 1 1 1 .89 .73 .56 .4 .24 .08 0 0 0 0 0 0 0 .61 .84 1 1 1 1 1 .89 .73 .56 .4 .24 .08 0 0 0 0 0 0 0 .61 .84"/><feFuncA type="discrete" tableValues="0 0 0 0 0 0 0 0 0 0 0 0 0 1 1 1 1 1 1 1"/></feComponentTransfer></filter>
<linearGradient id="jg" x1="0" x2="1" y1="0" y2="0"><stop offset="0.000" stop-color="#000080"/><stop offset="0.062" stop-color="#0000c8"/><stop offset="0.125" stop-color="#0000ff"/><stop offset="0.188" stop-color="#0040ff"/><stop offset="0.250" stop-color="#0080ff"/><stop offset="0.312" stop-color="#00bfff"/><stop offset="0.375" stop-color="#15ffe2"/><stop offset="0.438" stop-color="#48ffaf"/><stop offset="0.500" stop-color="#7bff7b"/><stop offset="0.562" stop-color="#afff48"/><stop offset="0.625" stop-color="#e2ff15"/><stop offset="0.688" stop-color="#ffd200"/><stop offset="0.750" stop-color="#ff9700"/><stop offset="0.812" stop-color="#ff5c00"/><stop offset="0.875" stop-color="#ff2100"/><stop offset="0.938" stop-color="#c80000"/><stop offset="1.000" stop-color="#800000"/></linearGradient>
<linearGradient id="q0" gradientUnits="userSpaceOnUse" x1="0" y1="0" x2="2.1" y2="0" spreadMethod="repeat"><stop offset="0.000" stop-color="#000080"/><stop offset="0.100" stop-color="#0000f3"/><stop offset="0.200" stop-color="#004dff"/><stop offset="0.300" stop-color="#00b2ff"/><stop offset="0.400" stop-color="#29ffce"/><stop offset="0.500" stop-color="#7bff7b"/><stop offset="0.600" stop-color="#ceff29"/><stop offset="0.700" stop-color="#ffc600"/><stop offset="0.800" stop-color="#ff6800"/><stop offset="0.900" stop-color="#f30900"/><stop offset="1.000" stop-color="#800000"/></linearGradient>
<linearGradient id="q1" gradientUnits="userSpaceOnUse" x1="0" y1="0" x2="2.3" y2="0" spreadMethod="repeat"><stop offset="0.000" stop-color="#000080"/><stop offset="0.100" stop-color="#0000f3"/><stop offset="0.200" stop-color="#004dff"/><stop offset="0.300" stop-color="#00b2ff"/><stop offset="0.400" stop-color="#29ffce"/><stop offset="0.500" stop-color="#7bff7b"/><stop offset="0.600" stop-color="#ceff29"/><stop offset="0.700" stop-color="#ffc600"/><stop offset="0.800" stop-color="#ff6800"/><stop offset="0.900" stop-color="#f30900"/><stop offset="1.000" stop-color="#800000"/></linearGradient>
<linearGradient id="q2" gradientUnits="userSpaceOnUse" x1="0" y1="0" x2="2.5" y2="0" spreadMethod="repeat"><stop offset="0.000" stop-color="#000080"/><stop offset="0.100" stop-color="#0000f3"/><stop offset="0.200" stop-color="#004dff"/><stop offset="0.300" stop-color="#00b2ff"/><stop offset="0.400" stop-color="#29ffce"/><stop offset="0.500" stop-color="#7bff7b"/><stop offset="0.600" stop-color="#ceff29"/><stop offset="0.700" stop-color="#ffc600"/><stop offset="0.800" stop-color="#ff6800"/><stop offset="0.900" stop-color="#f30900"/><stop offset="1.000" stop-color="#800000"/></linearGradient>
<linearGradient id="q3" gradientUnits="userSpaceOnUse" x1="0" y1="0" x2="2.8" y2="0" spreadMethod="repeat"><stop offset="0.000" stop-color="#000080"/><stop offset="0.100" stop-color="#0000f3"/><stop offset="0.200" stop-color="#004dff"/><stop offset="0.300" stop-color="#00b2ff"/><stop offset="0.400" stop-color="#29ffce"/><stop offset="0.500" stop-color="#7bff7b"/><stop offset="0.600" stop-color="#ceff29"/><stop offset="0.700" stop-color="#ffc600"/><stop offset="0.800" stop-color="#ff6800"/><stop offset="0.900" stop-color="#f30900"/><stop offset="1.000" stop-color="#800000"/></linearGradient>
<linearGradient id="q4" gradientUnits="userSpaceOnUse" x1="0" y1="0" x2="3.1" y2="0" spreadMethod="repeat"><stop offset="0.000" stop-color="#000080"/><stop offset="0.100" stop-color="#0000f3"/><stop offset="0.200" stop-color="#004dff"/><stop offset="0.300" stop-color="#00b2ff"/><stop offset="0.400" stop-color="#29ffce"/><stop offset="0.500" stop-color="#7bff7b"/><stop offset="0.600" stop-color="#ceff29"/><stop offset="0.700" stop-color="#ffc600"/><stop offset="0.800" stop-color="#ff6800"/><stop offset="0.900" stop-color="#f30900"/><stop offset="1.000" stop-color="#800000"/></linearGradient>
<linearGradient id="q5" gradientUnits="userSpaceOnUse" x1="0" y1="0" x2="3.4" y2="0" spreadMethod="repeat"><stop offset="0.000" stop-color="#000080"/><stop offset="0.100" stop-color="#0000f3"/><stop offset="0.200" stop-color="#004dff"/><stop offset="0.300" stop-color="#00b2ff"/><stop offset="0.400" stop-color="#29ffce"/><stop offset="0.500" stop-color="#7bff7b"/><stop offset="0.600" stop-color="#ceff29"/><stop offset="0.700" stop-color="#ffc600"/><stop offset="0.800" stop-color="#ff6800"/><stop offset="0.900" stop-color="#f30900"/><stop offset="1.000" stop-color="#800000"/></linearGradient>
<linearGradient id="q6" gradientUnits="userSpaceOnUse" x1="0" y1="0" x2="3.8" y2="0" spreadMethod="repeat"><stop offset="0.000" stop-color="#000080"/><stop offset="0.100" stop-color="#0000f3"/><stop offset="0.200" stop-color="#004dff"/><stop offset="0.300" stop-color="#00b2ff"/><stop offset="0.400" stop-color="#29ffce"/><stop offset="0.500" stop-color="#7bff7b"/><stop offset="0.600" stop-color="#ceff29"/><stop offset="0.700" stop-color="#ffc600"/><stop offset="0.800" stop-color="#ff6800"/><stop offset="0.900" stop-color="#f30900"/><stop offset="1.000" stop-color="#800000"/></linearGradient>
<linearGradient id="q7" gradientUnits="userSpaceOnUse" x1="0" y1="0" x2="4.3" y2="0" spreadMethod="repeat"><stop offset="0.000" stop-color="#000080"/><stop offset="0.100" stop-color="#0000f3"/><stop offset="0.200" stop-color="#004dff"/><stop offset="0.300" stop-color="#00b2ff"/><stop offset="0.400" stop-color="#29ffce"/><stop offset="0.500" stop-color="#7bff7b"/><stop offset="0.600" stop-color="#ceff29"/><stop offset="0.700" stop-color="#ffc600"/><stop offset="0.800" stop-color="#ff6800"/><stop offset="0.900" stop-color="#f30900"/><stop offset="1.000" stop-color="#800000"/></linearGradient>
<linearGradient id="q8" gradientUnits="userSpaceOnUse" x1="0" y1="0" x2="4.9" y2="0" spreadMethod="repeat"><stop offset="0.000" stop-color="#000080"/><stop offset="0.100" stop-color="#0000f3"/><stop offset="0.200" stop-color="#004dff"/><stop offset="0.300" stop-color="#00b2ff"/><stop offset="0.400" stop-color="#29ffce"/><stop offset="0.500" stop-color="#7bff7b"/><stop offset="0.600" stop-color="#ceff29"/><stop offset="0.700" stop-color="#ffc600"/><stop offset="0.800" stop-color="#ff6800"/><stop offset="0.900" stop-color="#f30900"/><stop offset="1.000" stop-color="#800000"/></linearGradient>
<linearGradient id="q9" gradientUnits="userSpaceOnUse" x1="0" y1="0" x2="5.6" y2="0" spreadMethod="repeat"><stop offset="0.000" stop-color="#000080"/><stop offset="0.100" stop-color="#0000f3"/><stop offset="0.200" stop-color="#004dff"/><stop offset="0.300" stop-color="#00b2ff"/><stop offset="0.400" stop-color="#29ffce"/><stop offset="0.500" stop-color="#7bff7b"/><stop offset="0.600" stop-color="#ceff29"/><stop offset="0.700" stop-color="#ffc600"/><stop offset="0.800" stop-color="#ff6800"/><stop offset="0.900" stop-color="#f30900"/><stop offset="1.000" stop-color="#800000"/></linearGradient>
<linearGradient id="q10" gradientUnits="userSpaceOnUse" x1="0" y1="0" x2="6.4" y2="0" spreadMethod="repeat"><stop offset="0.000" stop-color="#000080"/><stop offset="0.100" stop-color="#0000f3"/><stop offset="0.200" stop-color="#004dff"/><stop offset="0.300" stop-color="#00b2ff"/><stop offset="0.400" stop-color="#29ffce"/><stop offset="0.500" stop-color="#7bff7b"/><stop offset="0.600" stop-color="#ceff29"/><stop offset="0.700" stop-color="#ffc600"/><stop offset="0.800" stop-color="#ff6800"/><stop offset="0.900" stop-color="#f30900"/><stop offset="1.000" stop-color="#800000"/></linearGradient>
<linearGradient id="q11" gradientUnits="userSpaceOnUse" x1="0" y1="0" x2="7.3" y2="0" spreadMethod="repeat"><stop offset="0.000" stop-color="#000080"/><stop offset="0.100" stop-color="#0000f3"/><stop offset="0.200" stop-color="#004dff"/><stop offset="0.300" stop-color="#00b2ff"/><stop offset="0.400" stop-color="#29ffce"/><stop offset="0.500" stop-color="#7bff7b"/><stop offset="0.600" stop-color="#ceff29"/><stop offset="0.700" stop-color="#ffc600"/><stop offset="0.800" stop-color="#ff6800"/><stop offset="0.900" stop-color="#f30900"/><stop offset="1.000" stop-color="#800000"/></linearGradient>
<linearGradient id="q12" gradientUnits="userSpaceOnUse" x1="0" y1="0" x2="8.4" y2="0" spreadMethod="repeat"><stop offset="0.000" stop-color="#000080"/><stop offset="0.100" stop-color="#0000f3"/><stop offset="0.200" stop-color="#004dff"/><stop offset="0.300" stop-color="#00b2ff"/><stop offset="0.400" stop-color="#29ffce"/><stop offset="0.500" stop-color="#7bff7b"/><stop offset="0.600" stop-color="#ceff29"/><stop offset="0.700" stop-color="#ffc600"/><stop offset="0.800" stop-color="#ff6800"/><stop offset="0.900" stop-color="#f30900"/><stop offset="1.000" stop-color="#800000"/></linearGradient>
<linearGradient id="q13" gradientUnits="userSpaceOnUse" x1="0" y1="0" x2="9.7" y2="0" spreadMethod="repeat"><stop offset="0.000" stop-color="#000080"/><stop offset="0.100" stop-color="#0000f3"/><stop offset="0.200" stop-color="#004dff"/><stop offset="0.300" stop-color="#00b2ff"/><stop offset="0.400" stop-color="#29ffce"/><stop offset="0.500" stop-color="#7bff7b"/><stop offset="0.600" stop-color="#ceff29"/><stop offset="0.700" stop-color="#ffc600"/><stop offset="0.800" stop-color="#ff6800"/><stop offset="0.900" stop-color="#f30900"/><stop offset="1.000" stop-color="#800000"/></linearGradient>
<linearGradient id="q14" gradientUnits="userSpaceOnUse" x1="0" y1="0" x2="11.2" y2="0" spreadMethod="repeat"><stop offset="0.000" stop-color="#000080"/><stop offset="0.100" stop-color="#0000f3"/><stop offset="0.200" stop-color="#004dff"/><stop offset="0.300" stop-color="#00b2ff"/><stop offset="0.400" stop-color="#29ffce"/><stop offset="0.500" stop-color="#7bff7b"/><stop offset="0.600" stop-color="#ceff29"/><stop offset="0.700" stop-color="#ffc600"/><stop offset="0.800" stop-color="#ff6800"/><stop offset="0.900" stop-color="#f30900"/><stop offset="1.000" stop-color="#800000"/></linearGradient>
<linearGradient id="q15" gradientUnits="userSpaceOnUse" x1="0" y1="0" x2="13" y2="0" spreadMethod="repeat"><stop offset="0.000" stop-color="#000080"/><stop offset="0.100" stop-color="#0000f3"/><stop offset="0.200" stop-color="#004dff"/><stop offset="0.300" stop-color="#00b2ff"/><stop offset="0.400" stop-color="#29ffce"/><stop offset="0.500" stop-color="#7bff7b"/><stop offset="0.600" stop-color="#ceff29"/><stop offset="0.700" stop-color="#ffc600"/><stop offset="0.800" stop-color="#ff6800"/><stop offset="0.900" stop-color="#f30900"/><stop offset="1.000" stop-color="#800000"/></linearGradient>
<linearGradient id="q16" gradientUnits="userSpaceOnUse" x1="0" y1="0" x2="15" y2="0" spreadMethod="repeat"><stop offset="0.000" stop-color="#000080"/><stop offset="0.100" stop-color="#0000f3"/><stop offset="0.200" stop-color="#004dff"/><stop offset="0.300" stop-color="#00b2ff"/><stop offset="0.400" stop-color="#29ffce"/><stop offset="0.500" stop-color="#7bff7b"/><stop offset="0.600" stop-color="#ceff29"/><stop offset="0.700" stop-color="#ffc600"/><stop offset="0.800" stop-color="#ff6800"/><stop offset="0.900" stop-color="#f30900"/><stop offset="1.000" stop-color="#800000"/></linearGradient>
<linearGradient id="q17" gradientUnits="userSpaceOnUse" x1="0" y1="0" x2="17.5" y2="0" spreadMethod="repeat"><stop offset="0.000" stop-color="#000080"/><stop offset="0.100" stop-color="#0000f3"/><stop offset="0.200" stop-color="#004dff"/><stop offset="0.300" stop-color="#00b2ff"/><stop offset="0.400" stop-color="#29ffce"/><stop offset="0.500" stop-color="#7bff7b"/><stop offset="0.600" stop-color="#ceff29"/><stop offset="0.700" stop-color="#ffc600"/><stop offset="0.800" stop-color="#ff6800"/><stop offset="0.900" stop-color="#f30900"/><stop offset="1.000" stop-color="#800000"/></linearGradient>
<linearGradient id="q18" gradientUnits="userSpaceOnUse" x1="0" y1="0" x2="20.5" y2="0" spreadMethod="repeat"><stop offset="0.000" stop-color="#000080"/><stop offset="0.100" stop-color="#0000f3"/><stop offset="0.200" stop-color="#004dff"/><stop offset="0.300" stop-color="#00b2ff"/><stop offset="0.400" stop-color="#29ffce"/><stop offset="0.500" stop-color="#7bff7b"/><stop offset="0.600" stop-color="#ceff29"/><stop offset="0.700" stop-color="#ffc600"/><stop offset="0.800" stop-color="#ff6800"/><stop offset="0.900" stop-color="#f30900"/><stop offset="1.000" stop-color="#800000"/></linearGradient>
<linearGradient id="q19" gradientUnits="userSpaceOnUse" x1="0" y1="0" x2="24" y2="0" spreadMethod="repeat"><stop offset="0.000" stop-color="#000080"/><stop offset="0.100" stop-color="#0000f3"/><stop offset="0.200" stop-color="#004dff"/><stop offset="0.300" stop-color="#00b2ff"/><stop offset="0.400" stop-color="#29ffce"/><stop offset="0.500" stop-color="#7bff7b"/><stop offset="0.600" stop-color="#ceff29"/><stop offset="0.700" stop-color="#ffc600"/><stop offset="0.800" stop-color="#ff6800"/><stop offset="0.900" stop-color="#f30900"/><stop offset="1.000" stop-color="#800000"/></linearGradient>
<linearGradient id="q20" gradientUnits="userSpaceOnUse" x1="0" y1="0" x2="28" y2="0" spreadMethod="repeat"><stop offset="0.000" stop-color="#000080"/><stop offset="0.100" stop-color="#0000f3"/><stop offset="0.200" stop-color="#004dff"/><stop offset="0.300" stop-color="#00b2ff"/><stop offset="0.400" stop-color="#29ffce"/><stop offset="0.500" stop-color="#7bff7b"/><stop offset="0.600" stop-color="#ceff29"/><stop offset="0.700" stop-color="#ffc600"/><stop offset="0.800" stop-color="#ff6800"/><stop offset="0.900" stop-color="#f30900"/><stop offset="1.000" stop-color="#800000"/></linearGradient>
<linearGradient id="q21" gradientUnits="userSpaceOnUse" x1="0" y1="0" x2="33" y2="0" spreadMethod="repeat"><stop offset="0.000" stop-color="#000080"/><stop offset="0.100" stop-color="#0000f3"/><stop offset="0.200" stop-color="#004dff"/><stop offset="0.300" stop-color="#00b2ff"/><stop offset="0.400" stop-color="#29ffce"/><stop offset="0.500" stop-color="#7bff7b"/><stop offset="0.600" stop-color="#ceff29"/><stop offset="0.700" stop-color="#ffc600"/><stop offset="0.800" stop-color="#ff6800"/><stop offset="0.900" stop-color="#f30900"/><stop offset="1.000" stop-color="#800000"/></linearGradient>
<linearGradient id="q22" gradientUnits="userSpaceOnUse" x1="0" y1="0" x2="40" y2="0" spreadMethod="repeat"><stop offset="0.000" stop-color="#000080"/><stop offset="0.100" stop-color="#0000f3"/><stop offset="0.200" stop-color="#004dff"/><stop offset="0.300" stop-color="#00b2ff"/><stop offset="0.400" stop-color="#29ffce"/><stop offset="0.500" stop-color="#7bff7b"/><stop offset="0.600" stop-color="#ceff29"/><stop offset="0.700" stop-color="#ffc600"/><stop offset="0.800" stop-color="#ff6800"/><stop offset="0.900" stop-color="#f30900"/><stop offset="1.000" stop-color="#800000"/></linearGradient>
<linearGradient id="q23" gradientUnits="userSpaceOnUse" x1="0" y1="0" x2="48" y2="0" spreadMethod="repeat"><stop offset="0.000" stop-color="#000080"/><stop offset="0.100" stop-color="#0000f3"/><stop offset="0.200" stop-color="#004dff"/><stop offset="0.300" stop-color="#00b2ff"/><stop offset="0.400" stop-color="#29ffce"/><stop offset="0.500" stop-color="#7bff7b"/><stop offset="0.600" stop-color="#ceff29"/><stop offset="0.700" stop-color="#ffc600"/><stop offset="0.800" stop-color="#ff6800"/><stop offset="0.900" stop-color="#f30900"/><stop offset="1.000" stop-color="#800000"/></linearGradient>
<linearGradient id="q24" gradientUnits="userSpaceOnUse" x1="0" y1="0" x2="58" y2="0" spreadMethod="repeat"><stop offset="0.000" stop-color="#000080"/><stop offset="0.100" stop-color="#0000f3"/><stop offset="0.200" stop-color="#004dff"/><stop offset="0.300" stop-color="#00b2ff"/><stop offset="0.400" stop-color="#29ffce"/><stop offset="0.500" stop-color="#7bff7b"/><stop offset="0.600" stop-color="#ceff29"/><stop offset="0.700" stop-color="#ffc600"/><stop offset="0.800" stop-color="#ff6800"/><stop offset="0.900" stop-color="#f30900"/><stop offset="1.000" stop-color="#800000"/></linearGradient>
</defs></svg>
<div class="t" id="sup" style="left:525px;top:16px;font-size:12.6px;letter-spacing:0.83px;">2020-04-14 0.0-24.0</div>
<div class="t ttl" style="left:70.0px;width:300px;text-align:center;top:59.6px;font-size:16px;letter-spacing:0.39px;">XX, V1*V16=EA02*EA06</div>
<svg class="pan" style="left:131px;top:80px" width="178" height="641" viewBox="0 0 178 641" shape-rendering="crispEdges"><defs><linearGradient id="mg0" gradientUnits="userSpaceOnUse" x1="86" y1="0" x2="108" y2="0"><stop offset="0" stop-color="#000"/><stop offset="1" stop-color="#fff"/></linearGradient><mask id="mk0" maskUnits="userSpaceOnUse" x="0" y="0" width="178" height="641"><rect x="0" y="0" width="178" height="641" fill="url(#mg0)"/></mask><linearGradient id="g0_0" gradientUnits="userSpaceOnUse" x1="0" y1="0" x2="100" y2="0"><stop offset="0.000" stop-color="#0000f3"/><stop offset="0.071" stop-color="#0002ff"/><stop offset="0.143" stop-color="#0029ff"/><stop offset="0.214" stop-color="#0057ff"/><stop offset="0.286" stop-color="#008bff"/><stop offset="0.357" stop-color="#00c2ff"/><stop offset="0.429" stop-color="#13fce4"/><stop offset="0.500" stop-color="#44ffb2"/><stop offset="0.571" stop-color="#78ff7f"/><stop offset="0.643" stop-color="#aeff49"/><stop offset="0.714" stop-color="#e6ff11"/><stop offset="0.786" stop-color="#ffc700"/><stop offset="0.857" stop-color="#ff8300"/><stop offset="0.929" stop-color="#ff3e00"/><stop offset="1.000" stop-color="#dc0000"/></linearGradient><linearGradient id="g0_1" gradientUnits="userSpaceOnUse" x1="0" y1="0" x2="105" y2="0"><stop offset="0.000" stop-color="#00d1ff"/><stop offset="0.071" stop-color="#00e4f8"/><stop offset="0.143" stop-color="#15ffe2"/><stop offset="0.214" stop-color="#2fffc8"/><stop offset="0.286" stop-color="#4cffab"/><stop offset="0.357" stop-color="#6bff8c"/><stop offset="0.429" stop-color="#8bff6b"/><stop offset="0.500" stop-color="#aeff49"/><stop offset="0.571" stop-color="#d2ff25"/><stop offset="0.643" stop-color="#f8f500"/><stop offset="0.714" stop-color="#ffc800"/><stop offset="0.786" stop-color="#ff9a00"/><stop offset="0.857" stop-color="#ff6b00"/><stop offset="0.929" stop-color="#ff3b00"/><stop offset="1.000" stop-color="#f30900"/></linearGradient><linearGradient id="g0_2" gradientUnits="userSpaceOnUse" x1="0" y1="0" x2="106" y2="0"><stop offset="0.000" stop-color="#0000f3"/><stop offset="0.071" stop-color="#0002ff"/><stop offset="0.143" stop-color="#0029ff"/><stop offset="0.214" stop-color="#0057ff"/><stop offset="0.286" stop-color="#008bff"/><stop offset="0.357" stop-color="#00c2ff"/><stop offset="0.429" stop-color="#13fce4"/><stop offset="0.500" stop-color="#44ffb2"/><stop offset="0.571" stop-color="#78ff7f"/><stop offset="0.643" stop-color="#aeff49"/><stop offset="0.714" stop-color="#e6ff11"/><stop offset="0.786" stop-color="#ffc700"/><stop offset="0.857" stop-color="#ff8300"/><stop offset="0.929" stop-color="#ff3e00"/><stop offset="1.000" stop-color="#dc0000"/></linearGradient><linearGradient id="g0_3" gradientUnits="userSpaceOnUse" x1="0" y1="0" x2="104" y2="0"><stop offset="0.000" stop-color="#0000f3"/><stop offset="0.071" stop-color="#0001ff"/><stop offset="0.143" stop-color="#0028ff"/><stop offset="0.214" stop-color="#0055ff"/><stop offset="0.286" stop-color="#0087ff"/><stop offset="0.357" stop-color="#00bcff"/><stop offset="0.429" stop-color="#0df6ea"/><stop offset="0.500" stop-color="#3effb9"/><stop offset="0.571" stop-color="#70ff86"/><stop offset="0.643" stop-color="#a5ff52"/><stop offset="0.714" stop-color="#dbff1c"/><stop offset="0.786" stop-color="#ffd500"/><stop offset="0.857" stop-color="#ff9300"/><stop offset="0.929" stop-color="#ff4f00"/><stop offset="1.000" stop-color="#f30900"/></linearGradient><linearGradient id="g0_4" gradientUnits="userSpaceOnUse" x1="0" y1="0" x2="108" y2="0"><stop offset="0.000" stop-color="#0005ff"/><stop offset="0.071" stop-color="#001fff"/><stop offset="0.143" stop-color="#0045ff"/><stop offset="0.214" stop-color="#0072ff"/><stop offset="0.286" stop-color="#00a3ff"/><stop offset="0.357" stop-color="#00d8ff"/><stop offset="0.429" stop-color="#23ffd4"/><stop offset="0.500" stop-color="#53ffa4"/><stop offset="0.571" stop-color="#85ff72"/><stop offset="0.643" stop-color="#b9ff3e"/><stop offset="0.714" stop-color="#efff08"/><stop offset="0.786" stop-color="#ffbf00"/><stop offset="0.857" stop-color="#ff7e00"/><stop offset="0.929" stop-color="#ff3b00"/><stop offset="1.000" stop-color="#dc0000"/></linearGradient><linearGradient id="g0_5" gradientUnits="userSpaceOnUse" x1="0" y1="0" x2="101" y2="0"><stop offset="0.000" stop-color="#002eff"/><stop offset="0.071" stop-color="#0048ff"/><stop offset="0.143" stop-color="#006dff"/><stop offset="0.214" stop-color="#0099ff"/><stop offset="0.286" stop-color="#00caff"/><stop offset="0.357" stop-color="#14ffe3"/><stop offset="0.429" stop-color="#41ffb6"/><stop offset="0.500" stop-color="#71ff86"/><stop offset="0.571" stop-color="#a2ff55"/><stop offset="0.643" stop-color="#d5ff22"/><stop offset="0.714" stop-color="#ffdf00"/><stop offset="0.786" stop-color="#ffa000"/><stop offset="0.857" stop-color="#ff6000"/><stop offset="0.929" stop-color="#ff1e00"/><stop offset="1.000" stop-color="#b90000"/></linearGradient><linearGradient id="g0_6" gradientUnits="userSpaceOnUse" x1="0" y1="0" x2="98" y2="0"><stop offset="0.000" stop-color="#0061ff"/><stop offset="0.071" stop-color="#0078ff"/><stop offset="0.143" stop-color="#009aff"/><stop offset="0.214" stop-color="#00c1ff"/><stop offset="0.286" stop-color="#06edf1"/><stop offset="0.357" stop-color="#2cffcb"/><stop offset="0.429" stop-color="#54ffa2"/><stop offset="0.500" stop-color="#7fff78"/><stop offset="0.571" stop-color="#abff4c"/><stop offset="0.643" stop-color="#d9ff1e"/><stop offset="0.714" stop-color="#ffe100"/><stop offset="0.786" stop-color="#ffa800"/><stop offset="0.857" stop-color="#ff6f00"/><stop offset="0.929" stop-color="#ff3300"/><stop offset="1.000" stop-color="#dc0000"/></linearGradient><linearGradient id="g0_7" gradientUnits="userSpaceOnUse" x1="0" y1="0" x2="30" y2="0"><stop offset="0.000" stop-color="#0000f3"/><stop offset="0.071" stop-color="#0000fb"/><stop offset="0.143" stop-color="#0000ff"/><stop offset="0.214" stop-color="#0002ff"/><stop offset="0.286" stop-color="#000fff"/><stop offset="0.357" stop-color="#001cff"/><stop offset="0.429" stop-color="#002aff"/><stop offset="0.500" stop-color="#0039ff"/><stop offset="0.571" stop-color="#0049ff"/><stop offset="0.643" stop-color="#0059ff"/><stop offset="0.714" stop-color="#006aff"/><stop offset="0.786" stop-color="#007cff"/><stop offset="0.857" stop-color="#008dff"/><stop offset="0.929" stop-color="#00a0ff"/><stop offset="1.000" stop-color="#00b2ff"/></linearGradient><linearGradient id="b0_0" gradientUnits="userSpaceOnUse" x1="93.25" y1="234.6" x2="148.25" y2="234.6" spreadMethod="repeat" gradientTransform="translate(0 234.6) skewX(-54.5) translate(0 -234.6)"><stop offset="0.000" stop-color="#000080"/><stop offset="0.062" stop-color="#0000c8"/><stop offset="0.125" stop-color="#0000ff"/><stop offset="0.188" stop-color="#0040ff"/><stop offset="0.250" stop-color="#0080ff"/><stop offset="0.312" stop-color="#00bfff"/><stop offset="0.375" stop-color="#15ffe2"/><stop offset="0.438" stop-color="#48ffaf"/><stop offset="0.500" stop-color="#7bff7b"/><stop offset="0.562" stop-color="#afff48"/><stop offset="0.625" stop-color="#e2ff15"/><stop offset="0.688" stop-color="#ffd200"/><stop offset="0.750" stop-color="#ff9700"/><stop offset="0.812" stop-color="#ff5c00"/><stop offset="0.875" stop-color="#ff2100"/><stop offset="0.938" stop-color="#c80000"/><stop offset="1.000" stop-color="#800000"/></linearGradient></defs><rect width="178" height="641" filter="url(#nz0)"/><g mask="url(#mk0)"><rect x="83.1" y="0.00" width="94" height="1.4" fill="url(#q3)" transform="translate(0.9)"/><rect x="82.3" y="1.33" width="94" height="1.4" fill="url(#q4)" transform="translate(1.7)"/><rect x="83.9" y="2.67" width="94" height="1.4" fill="url(#q4)" transform="translate(0.1)"/><rect x="81.9" y="4.00" width="94" height="1.4" fill="url(#q4)" transform="translate(2.1)"/><rect x="81.3" y="5.33" width="94" height="1.4" fill="url(#q4)" transform="translate(2.7)"/><rect x="83.5" y="6.67" width="94" height="1.4" fill="url(#q4)" transform="translate(0.5)"/><rect x="82.8" y="8.00" width="94" height="1.4" fill="url(#q4)" transform="translate(1.2)"/><rect x="82.2" y="9.33" width="94" height="1.4" fill="url(#q4)" transform="translate(1.8)"/><rect x="83.3" y="10.67" width="94" height="1.4" fill="url(#q3)" transform="translate(0.7)"/><rect x="82.7" y="12.00" width="94" height="1.4" fill="url(#q4)" transform="translate(1.3)"/><rect x="81.8" y="13.33" width="94" height="1.4" fill="url(#q3)" transform="translate(2.2)"/><rect x="83.4" y="14.67" width="94" height="1.4" fill="url(#q3)" transform="translate(0.6)"/><rect x="83.8" y="16.00" width="94" height="1.4" fill="url(#q4)" transform="translate(0.2)"/><rect x="82.0" y="17.33" width="94" height="1.4" fill="url(#q3)" transform="translate(2.0)"/><rect x="84.0" y="18.67" width="94" height="1.4" fill="url(#q3)" transform="translate(0.0)"/><rect x="81.1" y="20.00" width="94" height="1.4" fill="url(#q4)" transform="translate(2.9)"/><rect x="81.8" y="21.33" width="94" height="1.4" fill="url(#q3)" transform="translate(2.2)"/><rect x="81.5" y="22.67" width="94" height="1.4" fill="url(#q3)" transform="translate(2.5)"/><rect x="83.9" y="24.00" width="94" height="1.4" fill="url(#q3)" transform="translate(0.1)"/><rect x="83.4" y="25.33" width="94" height="1.4" fill="url(#q3)" transform="translate(0.6)"/><rect x="81.6" y="26.67" width="94" height="1.4" fill="url(#q4)" transform="translate(2.4)"/><rect x="83.7" y="28.00" width="94" height="1.4" fill="url(#q3)" transform="translate(0.3)"/><rect x="83.5" y="29.33" width="94" height="1.4" fill="url(#q3)" transform="translate(0.5)"/><rect x="83.3" y="30.67" width="94" height="1.4" fill="url(#q3)" transform="translate(0.7)"/><rect x="83.0" y="32.00" width="94" height="1.4" fill="url(#q3)" transform="translate(1.0)"/><rect x="82.7" y="33.33" width="94" height="1.4" fill="url(#q3)" transform="translate(1.3)"/><rect x="82.2" y="34.67" width="94" height="1.4" fill="url(#q3)" transform="translate(1.8)"/><rect x="82.2" y="36.00" width="94" height="1.4" fill="url(#q3)" transform="translate(1.8)"/><rect x="82.2" y="37.33" width="94" height="1.4" fill="url(#q3)" transform="translate(1.8)"/><rect x="82.0" y="38.67" width="94" height="1.4" fill="url(#q3)" transform="translate(2.0)"/><rect x="82.3" y="40.00" width="94" height="1.4" fill="url(#q3)" transform="translate(1.7)"/><rect x="82.7" y="41.33" width="94" height="1.4" fill="url(#q3)" transform="translate(1.3)"/><rect x="82.3" y="42.67" width="94" height="1.4" fill="url(#q3)" transform="translate(1.7)"/><rect x="82.5" y="44.00" width="94" height="1.4" fill="url(#q3)" transform="translate(1.5)"/><rect x="83.4" y="45.33" width="94" height="1.4" fill="url(#q3)" transform="translate(0.6)"/><rect x="82.4" y="46.67" width="94" height="1.4" fill="url(#q2)" transform="translate(1.6)"/><rect x="83.7" y="48.00" width="94" height="1.4" fill="url(#q3)" transform="translate(0.3)"/><rect x="83.4" y="49.33" width="94" height="1.4" fill="url(#q3)" transform="translate(0.6)"/><rect x="83.6" y="50.67" width="94" height="1.4" fill="url(#q3)" transform="translate(0.4)"/><rect x="83.1" y="52.00" width="94" height="1.4" fill="url(#q3)" transform="translate(0.9)"/><rect x="81.8" y="53.33" width="94" height="1.4" fill="url(#q2)" transform="translate(2.2)"/><rect x="82.5" y="54.67" width="94" height="1.4" fill="url(#q3)" transform="translate(1.5)"/><rect x="82.0" y="56.00" width="94" height="1.4" fill="url(#q3)" transform="translate(2.0)"/><rect x="81.8" y="57.33" width="94" height="1.4" fill="url(#q3)" transform="translate(2.2)"/><rect x="83.6" y="58.67" width="94" height="1.4" fill="url(#q2)" transform="translate(0.4)"/><rect x="81.5" y="60.00" width="94" height="1.4" fill="url(#q3)" transform="translate(2.5)"/><rect x="83.9" y="61.33" width="94" height="1.4" fill="url(#q3)" transform="translate(0.1)"/><rect x="83.7" y="62.67" width="94" height="1.4" fill="url(#q3)" transform="translate(0.3)"/><rect x="81.8" y="64.00" width="94" height="1.4" fill="url(#q4)" transform="translate(2.2)"/><rect x="83.2" y="65.33" width="94" height="1.4" fill="url(#q5)" transform="translate(0.8)"/><rect x="80.8" y="66.67" width="94" height="1.4" fill="url(#q7)" transform="translate(3.2)"/><rect x="83.1" y="68.00" width="94" height="1.4" fill="url(#q9)" transform="translate(0.9)"/><rect x="77.0" y="69.33" width="94" height="1.4" fill="url(#q14)" transform="translate(7.0)"/><rect x="72.0" y="70.67" width="94" height="1.4" fill="url(#q15)" transform="translate(12.0)"/><rect x="75.2" y="72.00" width="94" height="1.4" fill="url(#q15)" transform="translate(8.8)"/><rect x="73.0" y="73.33" width="94" height="1.4" fill="url(#q15)" transform="translate(11.0)"/><rect x="81.6" y="74.67" width="94" height="1.4" fill="url(#q16)" transform="translate(2.4)"/><rect x="69.3" y="76.00" width="94" height="1.4" fill="url(#q16)" transform="translate(14.7)"/><rect x="72.8" y="77.33" width="94" height="1.4" fill="url(#q16)" transform="translate(11.2)"/><rect x="74.7" y="78.67" width="94" height="1.4" fill="url(#q17)" transform="translate(9.3)"/><rect x="78.6" y="80.00" width="94" height="1.4" fill="url(#q17)" transform="translate(5.4)"/><rect x="74.1" y="81.33" width="94" height="1.4" fill="url(#q16)" transform="translate(9.9)"/><rect x="74.7" y="82.67" width="94" height="1.4" fill="url(#q15)" transform="translate(9.3)"/><rect x="75.3" y="84.00" width="94" height="1.4" fill="url(#q15)" transform="translate(8.7)"/><rect x="76.1" y="85.33" width="94" height="1.4" fill="url(#q15)" transform="translate(7.9)"/><rect x="76.1" y="86.67" width="94" height="1.4" fill="url(#q14)" transform="translate(7.9)"/><rect x="79.3" y="88.00" width="94" height="1.4" fill="url(#q15)" transform="translate(4.7)"/><rect x="82.9" y="89.33" width="94" height="1.4" fill="url(#q14)" transform="translate(1.1)"/><rect x="83.2" y="90.67" width="94" height="1.4" fill="url(#q13)" transform="translate(0.8)"/><rect x="75.9" y="92.00" width="94" height="1.4" fill="url(#q13)" transform="translate(8.1)"/><rect x="80.7" y="93.33" width="94" height="1.4" fill="url(#q12)" transform="translate(3.3)"/><rect x="81.8" y="94.67" width="94" height="1.4" fill="url(#q11)" transform="translate(2.2)"/><rect x="80.8" y="96.00" width="94" height="1.4" fill="url(#q5)" transform="translate(3.2)"/><rect x="81.5" y="97.33" width="94" height="1.4" fill="url(#q3)" transform="translate(2.5)"/><rect x="80.3" y="98.67" width="94" height="1.4" fill="url(#q8)" transform="translate(3.7)"/><rect x="80.8" y="100.00" width="94" height="1.4" fill="url(#q8)" transform="translate(3.2)"/><rect x="79.6" y="101.33" width="94" height="1.4" fill="url(#q8)" transform="translate(4.4)"/><rect x="82.8" y="102.67" width="94" height="1.4" fill="url(#q8)" transform="translate(1.2)"/><rect x="81.4" y="104.00" width="94" height="1.4" fill="url(#q8)" transform="translate(2.6)"/><rect x="80.8" y="105.33" width="94" height="1.4" fill="url(#q8)" transform="translate(3.2)"/><rect x="80.2" y="106.67" width="94" height="1.4" fill="url(#q8)" transform="translate(3.8)"/><rect x="82.2" y="108.00" width="94" height="1.4" fill="url(#q7)" transform="translate(1.8)"/><rect x="80.4" y="109.33" width="94" height="1.4" fill="url(#q8)" transform="translate(3.6)"/><rect x="82.8" y="110.67" width="94" height="1.4" fill="url(#q7)" transform="translate(1.2)"/><rect x="83.5" y="112.00" width="94" height="1.4" fill="url(#q7)" transform="translate(0.5)"/><rect x="79.8" y="113.33" width="94" height="1.4" fill="url(#q7)" transform="translate(4.2)"/><rect x="79.9" y="114.67" width="94" height="1.4" fill="url(#q7)" transform="translate(4.1)"/><rect x="80.9" y="116.00" width="94" height="1.4" fill="url(#q7)" transform="translate(3.1)"/><rect x="80.3" y="117.33" width="94" height="1.4" fill="url(#q7)" transform="translate(3.7)"/><rect x="81.1" y="118.67" width="94" height="1.4" fill="url(#q6)" transform="translate(2.9)"/><rect x="83.0" y="120.00" width="94" height="1.4" fill="url(#q7)" transform="translate(1.0)"/><rect x="80.0" y="121.33" width="94" height="1.4" fill="url(#q7)" transform="translate(4.0)"/><rect x="82.4" y="122.67" width="94" height="1.4" fill="url(#q6)" transform="translate(1.6)"/><rect x="82.9" y="124.00" width="94" height="1.4" fill="url(#q7)" transform="translate(1.1)"/><rect x="81.7" y="125.33" width="94" height="1.4" fill="url(#q7)" transform="translate(2.3)"/><rect x="80.9" y="126.67" width="94" height="1.4" fill="url(#q7)" transform="translate(3.1)"/><rect x="80.4" y="128.00" width="94" height="1.4" fill="url(#q7)" transform="translate(3.6)"/><rect x="82.0" y="129.33" width="94" height="1.4" fill="url(#q7)" transform="translate(2.0)"/><rect x="83.8" y="130.67" width="94" height="1.4" fill="url(#q6)" transform="translate(0.2)"/><rect x="80.9" y="132.00" width="94" height="1.4" fill="url(#q6)" transform="translate(3.1)"/><rect x="80.4" y="133.33" width="94" height="1.4" fill="url(#q7)" transform="translate(3.6)"/><rect x="81.5" y="134.67" width="94" height="1.4" fill="url(#q7)" transform="translate(2.5)"/><rect x="82.6" y="136.00" width="94" height="1.4" fill="url(#q7)" transform="translate(1.4)"/><rect x="83.4" y="137.33" width="94" height="1.4" fill="url(#q6)" transform="translate(0.6)"/><rect x="79.9" y="138.67" width="94" height="1.4" fill="url(#q7)" transform="translate(4.1)"/><rect x="81.3" y="140.00" width="94" height="1.4" fill="url(#q7)" transform="translate(2.7)"/><rect x="82.6" y="141.33" width="94" height="1.4" fill="url(#q7)" transform="translate(1.4)"/><rect x="83.7" y="142.67" width="94" height="1.4" fill="url(#q7)" transform="translate(0.3)"/><rect x="80.9" y="144.00" width="94" height="1.4" fill="url(#q7)" transform="translate(3.1)"/><rect x="83.3" y="145.33" width="94" height="1.4" fill="url(#q8)" transform="translate(0.7)"/><rect x="83.9" y="146.67" width="94" height="1.4" fill="url(#q7)" transform="translate(0.1)"/><rect x="81.7" y="148.00" width="94" height="1.4" fill="url(#q8)" transform="translate(2.3)"/><rect x="82.2" y="149.33" width="94" height="1.4" fill="url(#q7)" transform="translate(1.8)"/><rect x="81.1" y="150.67" width="94" height="1.4" fill="url(#q7)" transform="translate(2.9)"/><rect x="81.3" y="152.00" width="94" height="1.4" fill="url(#q7)" transform="translate(2.7)"/><rect x="80.6" y="153.33" width="94" height="1.4" fill="url(#q7)" transform="translate(3.4)"/><rect x="81.0" y="154.67" width="94" height="1.4" fill="url(#q6)" transform="translate(3.0)"/><rect x="80.4" y="156.00" width="94" height="1.4" fill="url(#q6)" transform="translate(3.6)"/><rect x="83.6" y="157.33" width="94" height="1.4" fill="url(#q6)" transform="translate(0.4)"/><rect x="82.5" y="158.67" width="94" height="1.4" fill="url(#q6)" transform="translate(1.5)"/><rect x="82.0" y="160.00" width="94" height="1.4" fill="url(#q5)" transform="translate(2.0)"/><rect x="81.7" y="161.33" width="94" height="1.4" fill="url(#q5)" transform="translate(2.3)"/><rect x="83.4" y="162.67" width="94" height="1.4" fill="url(#q5)" transform="translate(0.6)"/><rect x="81.8" y="164.00" width="94" height="1.4" fill="url(#q4)" transform="translate(2.2)"/><rect x="83.7" y="165.33" width="94" height="1.4" fill="url(#q3)" transform="translate(0.3)"/><rect x="84.0" y="166.67" width="94" height="1.4" fill="url(#q3)" transform="translate(0.0)"/><rect x="83.6" y="168.00" width="94" height="1.4" fill="url(#q3)" transform="translate(0.4)"/><rect x="83.0" y="169.33" width="94" height="1.4" fill="url(#q2)" transform="translate(1.0)"/><rect x="83.5" y="170.67" width="94" height="1.4" fill="url(#q2)" transform="translate(0.5)"/><rect x="82.9" y="172.00" width="94" height="1.4" fill="url(#q1)" transform="translate(1.1)"/><rect x="83.9" y="173.33" width="94" height="1.4" fill="url(#q1)" transform="translate(0.1)"/><rect x="82.0" y="174.67" width="94" height="1.4" fill="url(#q1)" transform="translate(2.0)"/><rect x="81.9" y="176.00" width="94" height="1.4" fill="url(#q1)" transform="translate(2.1)"/><rect x="82.2" y="177.33" width="94" height="1.4" fill="url(#q0)" transform="translate(1.8)"/><rect x="82.6" y="178.67" width="94" height="1.4" fill="url(#q0)" transform="translate(1.4)"/><rect x="82.2" y="180.00" width="94" height="1.4" fill="url(#q0)" transform="translate(1.8)"/><rect x="82.0" y="181.33" width="94" height="1.4" fill="url(#q1)" transform="translate(2.0)"/><rect x="81.8" y="182.67" width="94" height="1.4" fill="url(#q1)" transform="translate(2.2)"/><rect x="81.9" y="184.00" width="94" height="1.4" fill="url(#q1)" transform="translate(2.1)"/><rect x="81.7" y="185.33" width="94" height="1.4" fill="url(#q1)" transform="translate(2.3)"/><rect x="83.9" y="186.67" width="94" height="1.4" fill="url(#q1)" transform="translate(0.1)"/><rect x="81.4" y="188.00" width="94" height="1.4" fill="url(#q3)" transform="translate(2.6)"/><rect x="83.0" y="189.33" width="94" height="1.4" fill="url(#q5)" transform="translate(1.0)"/><rect x="82.5" y="190.67" width="94" height="1.4" fill="url(#q5)" transform="translate(1.5)"/><rect x="84.0" y="192.00" width="94" height="1.4" fill="url(#q4)" transform="translate(0.0)"/><rect x="83.2" y="193.33" width="94" height="1.4" fill="url(#q5)" transform="translate(0.8)"/><rect x="82.9" y="194.67" width="94" height="1.4" fill="url(#q7)" transform="translate(1.1)"/><rect x="79.9" y="196.00" width="94" height="1.4" fill="url(#q12)" transform="translate(4.1)"/><rect x="77.4" y="197.33" width="94" height="1.4" fill="url(#q14)" transform="translate(6.6)"/><rect x="72.9" y="198.67" width="94" height="1.4" fill="url(#q15)" transform="translate(11.1)"/><rect x="72.9" y="200.00" width="94" height="1.4" fill="url(#q15)" transform="translate(11.1)"/><rect x="76.7" y="201.33" width="94" height="1.4" fill="url(#q16)" transform="translate(7.3)"/><rect x="76.0" y="202.67" width="94" height="1.4" fill="url(#q16)" transform="translate(8.0)"/><rect x="78.4" y="204.00" width="94" height="1.4" fill="url(#q16)" transform="translate(5.6)"/><rect x="74.0" y="205.33" width="94" height="1.4" fill="url(#q17)" transform="translate(10.0)"/><rect x="82.0" y="206.67" width="94" height="1.4" fill="url(#q17)" transform="translate(2.0)"/><rect x="67.8" y="208.00" width="94" height="1.4" fill="url(#q18)" transform="translate(16.2)"/><rect x="63.9" y="209.33" width="94" height="1.4" fill="url(#q18)" transform="translate(20.1)"/><rect x="78.2" y="210.67" width="94" height="1.4" fill="url(#q19)" transform="translate(5.8)"/><rect x="82.2" y="212.00" width="94" height="1.4" fill="url(#q19)" transform="translate(1.8)"/><rect x="78.5" y="213.33" width="94" height="1.4" fill="url(#q19)" transform="translate(5.5)"/><rect x="66.4" y="214.67" width="94" height="1.4" fill="url(#q19)" transform="translate(17.6)"/><rect x="76.8" y="216.00" width="94" height="1.4" fill="url(#q18)" transform="translate(7.2)"/><rect x="79.5" y="217.33" width="94" height="1.4" fill="url(#q17)" transform="translate(4.5)"/><rect x="78.3" y="218.67" width="94" height="1.4" fill="url(#q17)" transform="translate(5.7)"/><rect x="77.3" y="220.00" width="94" height="1.4" fill="url(#q17)" transform="translate(6.7)"/><rect x="73.2" y="221.33" width="94" height="1.4" fill="url(#q17)" transform="translate(10.8)"/><rect x="69.1" y="222.67" width="94" height="1.4" fill="url(#q18)" transform="translate(14.9)"/><rect x="67.7" y="224.00" width="94" height="1.4" fill="url(#q17)" transform="translate(16.3)"/><rect x="77.5" y="225.33" width="94" height="1.4" fill="url(#q15)" transform="translate(6.5)"/><rect x="73.5" y="226.67" width="94" height="1.4" fill="url(#q16)" transform="translate(10.5)"/><rect x="78.8" y="228.00" width="94" height="1.4" fill="url(#q17)" transform="translate(5.2)"/><rect x="64.1" y="229.33" width="94" height="1.4" fill="url(#q20)" transform="translate(19.9)"/><rect x="50.5" y="230.67" width="94" height="1.4" fill="url(#q24)" transform="translate(33.5)"/><rect x="53.3" y="232.00" width="94" height="1.4" fill="url(#q24)" transform="translate(30.7)"/><rect x="54.6" y="233.33" width="94" height="1.4" fill="url(#q24)" transform="translate(29.4)"/><rect x="69.8" y="234.67" width="94" height="1.4" fill="url(#q24)" transform="translate(14.2)"/><rect x="37.2" y="236.00" width="94" height="1.4" fill="url(#q24)" transform="translate(46.8)"/><rect x="48.9" y="237.33" width="94" height="1.4" fill="url(#q23)" transform="translate(35.1)"/><rect x="49.8" y="238.67" width="94" height="1.4" fill="url(#q24)" transform="translate(34.2)"/><rect x="59.2" y="240.00" width="94" height="1.4" fill="url(#q23)" transform="translate(24.8)"/><rect x="77.1" y="241.33" width="94" height="1.4" fill="url(#q16)" transform="translate(6.9)"/><rect x="76.3" y="242.67" width="94" height="1.4" fill="url(#q12)" transform="translate(7.7)"/><rect x="83.7" y="244.00" width="94" height="1.4" fill="url(#q9)" transform="translate(0.3)"/><rect x="82.7" y="245.33" width="94" height="1.4" fill="url(#q2)" transform="translate(1.3)"/><rect x="82.3" y="246.67" width="94" height="1.4" fill="url(#q0)" transform="translate(1.7)"/><rect x="83.1" y="248.00" width="94" height="1.4" fill="url(#q0)" transform="translate(0.9)"/><rect x="83.6" y="249.33" width="94" height="1.4" fill="url(#q0)" transform="translate(0.4)"/><rect x="83.9" y="250.67" width="94" height="1.4" fill="url(#q0)" transform="translate(0.1)"/><rect x="82.4" y="252.00" width="94" height="1.4" fill="url(#q0)" transform="translate(1.6)"/><rect x="82.4" y="253.33" width="94" height="1.4" fill="url(#q0)" transform="translate(1.6)"/><rect x="82.8" y="254.67" width="94" height="1.4" fill="url(#q0)" transform="translate(1.2)"/><rect x="81.0" y="256.00" width="94" height="1.4" fill="url(#q6)" transform="translate(3.0)"/><rect x="80.4" y="257.33" width="94" height="1.4" fill="url(#q7)" transform="translate(3.6)"/><rect x="79.1" y="258.67" width="94" height="1.4" fill="url(#q8)" transform="translate(4.9)"/><rect x="79.9" y="260.00" width="94" height="1.4" fill="url(#q8)" transform="translate(4.1)"/><rect x="81.8" y="261.33" width="94" height="1.4" fill="url(#q9)" transform="translate(2.2)"/><rect x="81.5" y="262.67" width="94" height="1.4" fill="url(#q10)" transform="translate(2.5)"/><rect x="80.0" y="264.00" width="94" height="1.4" fill="url(#q10)" transform="translate(4.0)"/><rect x="80.0" y="265.33" width="94" height="1.4" fill="url(#q10)" transform="translate(4.0)"/><rect x="82.8" y="266.67" width="94" height="1.4" fill="url(#q8)" transform="translate(1.2)"/><rect x="80.0" y="268.00" width="94" height="1.4" fill="url(#q9)" transform="translate(4.0)"/><rect x="80.1" y="269.33" width="94" height="1.4" fill="url(#q8)" transform="translate(3.9)"/><rect x="80.1" y="270.67" width="94" height="1.4" fill="url(#q9)" transform="translate(3.9)"/><rect x="81.9" y="272.00" width="94" height="1.4" fill="url(#q8)" transform="translate(2.1)"/><rect x="82.5" y="273.33" width="94" height="1.4" fill="url(#q8)" transform="translate(1.5)"/><rect x="82.9" y="274.67" width="94" height="1.4" fill="url(#q9)" transform="translate(1.1)"/><rect x="82.5" y="276.00" width="94" height="1.4" fill="url(#q9)" transform="translate(1.5)"/><rect x="81.7" y="277.33" width="94" height="1.4" fill="url(#q10)" transform="translate(2.3)"/><rect x="81.4" y="278.67" width="94" height="1.4" fill="url(#q10)" transform="translate(2.6)"/><rect x="80.2" y="280.00" width="94" height="1.4" fill="url(#q10)" transform="translate(3.8)"/><rect x="80.1" y="281.33" width="94" height="1.4" fill="url(#q10)" transform="translate(3.9)"/><rect x="80.6" y="282.67" width="94" height="1.4" fill="url(#q10)" transform="translate(3.4)"/><rect x="82.3" y="284.00" width="94" height="1.4" fill="url(#q10)" transform="translate(1.7)"/><rect x="83.8" y="285.33" width="94" height="1.4" fill="url(#q10)" transform="translate(0.2)"/><rect x="79.1" y="286.67" width="94" height="1.4" fill="url(#q10)" transform="translate(4.9)"/><rect x="76.7" y="288.00" width="94" height="1.4" fill="url(#q11)" transform="translate(7.3)"/><rect x="78.2" y="289.33" width="94" height="1.4" fill="url(#q10)" transform="translate(5.8)"/><rect x="81.1" y="290.67" width="94" height="1.4" fill="url(#q10)" transform="translate(2.9)"/><rect x="83.8" y="292.00" width="94" height="1.4" fill="url(#q10)" transform="translate(0.2)"/><rect x="80.7" y="293.33" width="94" height="1.4" fill="url(#q11)" transform="translate(3.3)"/><rect x="83.9" y="294.67" width="94" height="1.4" fill="url(#q11)" transform="translate(0.1)"/><rect x="78.0" y="296.00" width="94" height="1.4" fill="url(#q10)" transform="translate(6.0)"/><rect x="80.5" y="297.33" width="94" height="1.4" fill="url(#q10)" transform="translate(3.5)"/><rect x="82.7" y="298.67" width="94" height="1.4" fill="url(#q10)" transform="translate(1.3)"/><rect x="79.6" y="300.00" width="94" height="1.4" fill="url(#q11)" transform="translate(4.4)"/><rect x="81.3" y="301.33" width="94" height="1.4" fill="url(#q11)" transform="translate(2.7)"/><rect x="81.4" y="302.67" width="94" height="1.4" fill="url(#q11)" transform="translate(2.6)"/><rect x="81.3" y="304.00" width="94" height="1.4" fill="url(#q11)" transform="translate(2.7)"/><rect x="79.6" y="305.33" width="94" height="1.4" fill="url(#q11)" transform="translate(4.4)"/><rect x="78.9" y="306.67" width="94" height="1.4" fill="url(#q11)" transform="translate(5.1)"/><rect x="78.3" y="308.00" width="94" height="1.4" fill="url(#q11)" transform="translate(5.7)"/><rect x="83.9" y="309.33" width="94" height="1.4" fill="url(#q10)" transform="translate(0.1)"/><rect x="79.5" y="310.67" width="94" height="1.4" fill="url(#q10)" transform="translate(4.5)"/><rect x="82.4" y="312.00" width="94" height="1.4" fill="url(#q10)" transform="translate(1.6)"/><rect x="77.9" y="313.33" width="94" height="1.4" fill="url(#q10)" transform="translate(6.1)"/><rect x="81.7" y="314.67" width="94" height="1.4" fill="url(#q10)" transform="translate(2.3)"/><rect x="80.4" y="316.00" width="94" height="1.4" fill="url(#q11)" transform="translate(3.6)"/><rect x="79.8" y="317.33" width="94" height="1.4" fill="url(#q11)" transform="translate(4.2)"/><rect x="78.7" y="318.67" width="94" height="1.4" fill="url(#q11)" transform="translate(5.3)"/><rect x="82.0" y="320.00" width="94" height="1.4" fill="url(#q16)" transform="translate(2.0)"/><rect x="79.4" y="321.33" width="94" height="1.4" fill="url(#q17)" transform="translate(4.6)"/><rect x="71.5" y="322.67" width="94" height="1.4" fill="url(#q16)" transform="translate(12.5)"/><rect x="79.9" y="324.00" width="94" height="1.4" fill="url(#q17)" transform="translate(4.1)"/><rect x="71.0" y="325.33" width="94" height="1.4" fill="url(#q17)" transform="translate(13.0)"/><rect x="79.2" y="326.67" width="94" height="1.4" fill="url(#q18)" transform="translate(4.8)"/><rect x="65.8" y="328.00" width="94" height="1.4" fill="url(#q18)" transform="translate(18.2)"/><rect x="76.1" y="329.33" width="94" height="1.4" fill="url(#q18)" transform="translate(7.9)"/><rect x="79.1" y="330.67" width="94" height="1.4" fill="url(#q16)" transform="translate(4.9)"/><rect x="73.8" y="332.00" width="94" height="1.4" fill="url(#q16)" transform="translate(10.2)"/><rect x="80.6" y="333.33" width="94" height="1.4" fill="url(#q17)" transform="translate(3.4)"/><rect x="77.4" y="334.67" width="94" height="1.4" fill="url(#q16)" transform="translate(6.6)"/><rect x="79.3" y="336.00" width="94" height="1.4" fill="url(#q16)" transform="translate(4.7)"/><rect x="75.5" y="337.33" width="94" height="1.4" fill="url(#q16)" transform="translate(8.5)"/><rect x="70.3" y="338.67" width="94" height="1.4" fill="url(#q17)" transform="translate(13.7)"/><rect x="82.9" y="340.00" width="94" height="1.4" fill="url(#q17)" transform="translate(1.1)"/><rect x="78.3" y="341.33" width="94" height="1.4" fill="url(#q18)" transform="translate(5.7)"/><rect x="77.4" y="342.67" width="94" height="1.4" fill="url(#q19)" transform="translate(6.6)"/><rect x="78.0" y="344.00" width="94" height="1.4" fill="url(#q19)" transform="translate(6.0)"/><rect x="80.0" y="345.33" width="94" height="1.4" fill="url(#q18)" transform="translate(4.0)"/><rect x="75.4" y="346.67" width="94" height="1.4" fill="url(#q17)" transform="translate(8.6)"/><rect x="72.1" y="348.00" width="94" height="1.4" fill="url(#q17)" transform="translate(11.9)"/><rect x="79.1" y="349.33" width="94" height="1.4" fill="url(#q16)" transform="translate(4.9)"/><rect x="69.4" y="350.67" width="94" height="1.4" fill="url(#q16)" transform="translate(14.6)"/><rect x="80.6" y="352.00" width="94" height="1.4" fill="url(#q14)" transform="translate(3.4)"/><rect x="75.0" y="353.33" width="94" height="1.4" fill="url(#q13)" transform="translate(9.0)"/><rect x="78.2" y="354.67" width="94" height="1.4" fill="url(#q13)" transform="translate(5.8)"/><rect x="79.3" y="356.00" width="94" height="1.4" fill="url(#q12)" transform="translate(4.7)"/><rect x="81.2" y="357.33" width="94" height="1.4" fill="url(#q12)" transform="translate(2.8)"/><rect x="81.9" y="358.67" width="94" height="1.4" fill="url(#q12)" transform="translate(2.1)"/><rect x="76.5" y="360.00" width="94" height="1.4" fill="url(#q12)" transform="translate(7.5)"/><rect x="79.6" y="361.33" width="94" height="1.4" fill="url(#q12)" transform="translate(4.4)"/><rect x="74.6" y="362.67" width="94" height="1.4" fill="url(#q13)" transform="translate(9.4)"/><rect x="81.3" y="364.00" width="94" height="1.4" fill="url(#q13)" transform="translate(2.7)"/><rect x="77.5" y="365.33" width="94" height="1.4" fill="url(#q13)" transform="translate(6.5)"/><rect x="75.6" y="366.67" width="94" height="1.4" fill="url(#q13)" transform="translate(8.4)"/><rect x="78.2" y="368.00" width="94" height="1.4" fill="url(#q13)" transform="translate(5.8)"/><rect x="79.3" y="369.33" width="94" height="1.4" fill="url(#q12)" transform="translate(4.7)"/><rect x="78.8" y="370.67" width="94" height="1.4" fill="url(#q13)" transform="translate(5.2)"/><rect x="77.5" y="372.00" width="94" height="1.4" fill="url(#q11)" transform="translate(6.5)"/><rect x="82.0" y="373.33" width="94" height="1.4" fill="url(#q6)" transform="translate(2.0)"/><rect x="81.5" y="374.67" width="94" height="1.4" fill="url(#q4)" transform="translate(2.5)"/><rect x="83.0" y="376.00" width="94" height="1.4" fill="url(#q5)" transform="translate(1.0)"/><rect x="82.0" y="377.33" width="94" height="1.4" fill="url(#q4)" transform="translate(2.0)"/><rect x="83.8" y="378.67" width="94" height="1.4" fill="url(#q5)" transform="translate(0.2)"/><rect x="83.4" y="380.00" width="94" height="1.4" fill="url(#q5)" transform="translate(0.6)"/><rect x="83.3" y="381.33" width="94" height="1.4" fill="url(#q5)" transform="translate(0.7)"/><rect x="82.5" y="382.67" width="94" height="1.4" fill="url(#q5)" transform="translate(1.5)"/><rect x="84.0" y="384.00" width="94" height="1.4" fill="url(#q1)" transform="translate(0.0)"/><rect x="82.1" y="385.33" width="94" height="1.4" fill="url(#q2)" transform="translate(1.9)"/><rect x="83.5" y="386.67" width="94" height="1.4" fill="url(#q1)" transform="translate(0.5)"/><rect x="83.5" y="388.00" width="94" height="1.4" fill="url(#q2)" transform="translate(0.5)"/><rect x="82.2" y="389.33" width="94" height="1.4" fill="url(#q1)" transform="translate(1.8)"/><rect x="81.0" y="390.67" width="94" height="1.4" fill="url(#q4)" transform="translate(3.0)"/><rect x="83.8" y="392.00" width="94" height="1.4" fill="url(#q6)" transform="translate(0.2)"/><rect x="80.4" y="393.33" width="94" height="1.4" fill="url(#q9)" transform="translate(3.6)"/><rect x="78.7" y="394.67" width="94" height="1.4" fill="url(#q12)" transform="translate(5.3)"/><rect x="82.9" y="396.00" width="94" height="1.4" fill="url(#q13)" transform="translate(1.1)"/><rect x="77.6" y="397.33" width="94" height="1.4" fill="url(#q13)" transform="translate(6.4)"/><rect x="79.9" y="398.67" width="94" height="1.4" fill="url(#q13)" transform="translate(4.1)"/><rect x="83.4" y="400.00" width="94" height="1.4" fill="url(#q13)" transform="translate(0.6)"/><rect x="82.2" y="401.33" width="94" height="1.4" fill="url(#q13)" transform="translate(1.8)"/><rect x="80.5" y="402.67" width="94" height="1.4" fill="url(#q13)" transform="translate(3.5)"/><rect x="77.6" y="404.00" width="94" height="1.4" fill="url(#q13)" transform="translate(6.4)"/><rect x="76.2" y="405.33" width="94" height="1.4" fill="url(#q14)" transform="translate(7.8)"/><rect x="78.8" y="406.67" width="94" height="1.4" fill="url(#q14)" transform="translate(5.2)"/><rect x="72.1" y="408.00" width="94" height="1.4" fill="url(#q15)" transform="translate(11.9)"/><rect x="83.2" y="409.33" width="94" height="1.4" fill="url(#q16)" transform="translate(0.8)"/><rect x="80.0" y="410.67" width="94" height="1.4" fill="url(#q16)" transform="translate(4.0)"/><rect x="79.8" y="412.00" width="94" height="1.4" fill="url(#q16)" transform="translate(4.2)"/><rect x="76.4" y="413.33" width="94" height="1.4" fill="url(#q16)" transform="translate(7.6)"/><rect x="78.7" y="414.67" width="94" height="1.4" fill="url(#q16)" transform="translate(5.3)"/><rect x="78.0" y="416.00" width="94" height="1.4" fill="url(#q12)" transform="translate(6.0)"/><rect x="81.7" y="417.33" width="94" height="1.4" fill="url(#q12)" transform="translate(2.3)"/><rect x="83.0" y="418.67" width="94" height="1.4" fill="url(#q12)" transform="translate(1.0)"/><rect x="83.1" y="420.00" width="94" height="1.4" fill="url(#q11)" transform="translate(0.9)"/><rect x="78.9" y="421.33" width="94" height="1.4" fill="url(#q11)" transform="translate(5.1)"/><rect x="78.3" y="422.67" width="94" height="1.4" fill="url(#q10)" transform="translate(5.7)"/><rect x="82.1" y="424.00" width="94" height="1.4" fill="url(#q9)" transform="translate(1.9)"/><rect x="81.8" y="425.33" width="94" height="1.4" fill="url(#q8)" transform="translate(2.2)"/><rect x="71.8" y="426.67" width="94" height="1.4" fill="url(#q17)" transform="translate(12.2)"/><rect x="73.3" y="428.00" width="94" height="1.4" fill="url(#q17)" transform="translate(10.7)"/><rect x="77.1" y="429.33" width="94" height="1.4" fill="url(#q17)" transform="translate(6.9)"/><rect x="82.3" y="430.67" width="94" height="1.4" fill="url(#q17)" transform="translate(1.7)"/><rect x="78.4" y="432.00" width="94" height="1.4" fill="url(#q18)" transform="translate(5.6)"/><rect x="81.2" y="433.33" width="94" height="1.4" fill="url(#q18)" transform="translate(2.8)"/><rect x="83.3" y="434.67" width="94" height="1.4" fill="url(#q18)" transform="translate(0.7)"/><rect x="80.7" y="436.00" width="94" height="1.4" fill="url(#q18)" transform="translate(3.3)"/><rect x="83.3" y="437.33" width="94" height="1.4" fill="url(#q15)" transform="translate(0.7)"/><rect x="82.6" y="438.67" width="94" height="1.4" fill="url(#q16)" transform="translate(1.4)"/><rect x="81.8" y="440.00" width="94" height="1.4" fill="url(#q16)" transform="translate(2.2)"/><rect x="70.2" y="441.33" width="94" height="1.4" fill="url(#q17)" transform="translate(13.8)"/><rect x="76.8" y="442.67" width="94" height="1.4" fill="url(#q17)" transform="translate(7.2)"/><rect x="66.8" y="444.00" width="94" height="1.4" fill="url(#q17)" transform="translate(17.2)"/><rect x="83.5" y="445.33" width="94" height="1.4" fill="url(#q17)" transform="translate(0.5)"/><rect x="81.8" y="446.67" width="94" height="1.4" fill="url(#q17)" transform="translate(2.2)"/><rect x="74.3" y="448.00" width="94" height="1.4" fill="url(#q15)" transform="translate(9.7)"/><rect x="80.8" y="449.33" width="94" height="1.4" fill="url(#q15)" transform="translate(3.2)"/><rect x="71.2" y="450.67" width="94" height="1.4" fill="url(#q15)" transform="translate(12.8)"/><rect x="76.0" y="452.00" width="94" height="1.4" fill="url(#q14)" transform="translate(8.0)"/><rect x="78.0" y="453.33" width="94" height="1.4" fill="url(#q13)" transform="translate(6.0)"/><rect x="77.6" y="454.67" width="94" height="1.4" fill="url(#q12)" transform="translate(6.4)"/><rect x="78.8" y="456.00" width="94" height="1.4" fill="url(#q12)" transform="translate(5.2)"/><rect x="77.6" y="457.33" width="94" height="1.4" fill="url(#q12)" transform="translate(6.4)"/><rect x="81.3" y="458.67" width="94" height="1.4" fill="url(#q10)" transform="translate(2.7)"/><rect x="81.4" y="460.00" width="94" height="1.4" fill="url(#q10)" transform="translate(2.6)"/><rect x="82.0" y="461.33" width="94" height="1.4" fill="url(#q10)" transform="translate(2.0)"/><rect x="82.9" y="462.67" width="94" height="1.4" fill="url(#q10)" transform="translate(1.1)"/><rect x="82.8" y="464.00" width="94" height="1.4" fill="url(#q10)" transform="translate(1.2)"/><rect x="80.4" y="465.33" width="94" height="1.4" fill="url(#q9)" transform="translate(3.6)"/><rect x="82.9" y="466.67" width="94" height="1.4" fill="url(#q9)" transform="translate(1.1)"/><rect x="83.3" y="468.00" width="94" height="1.4" fill="url(#q9)" transform="translate(0.7)"/><rect x="77.1" y="469.33" width="94" height="1.4" fill="url(#q11)" transform="translate(6.9)"/><rect x="83.1" y="470.67" width="94" height="1.4" fill="url(#q11)" transform="translate(0.9)"/><rect x="81.8" y="472.00" width="94" height="1.4" fill="url(#q11)" transform="translate(2.2)"/><rect x="79.4" y="473.33" width="94" height="1.4" fill="url(#q11)" transform="translate(4.6)"/><rect x="80.9" y="474.67" width="94" height="1.4" fill="url(#q11)" transform="translate(3.1)"/><rect x="81.8" y="476.00" width="94" height="1.4" fill="url(#q11)" transform="translate(2.2)"/><rect x="76.9" y="477.33" width="94" height="1.4" fill="url(#q11)" transform="translate(7.1)"/><rect x="80.1" y="478.67" width="94" height="1.4" fill="url(#q11)" transform="translate(3.9)"/><rect x="81.3" y="480.00" width="94" height="1.4" fill="url(#q10)" transform="translate(2.7)"/><rect x="83.5" y="481.33" width="94" height="1.4" fill="url(#q10)" transform="translate(0.5)"/><rect x="84.0" y="482.67" width="94" height="1.4" fill="url(#q11)" transform="translate(0.0)"/><rect x="82.6" y="484.00" width="94" height="1.4" fill="url(#q11)" transform="translate(1.4)"/><rect x="79.7" y="485.33" width="94" height="1.4" fill="url(#q11)" transform="translate(4.3)"/><rect x="83.4" y="486.67" width="94" height="1.4" fill="url(#q11)" transform="translate(0.6)"/><rect x="78.9" y="488.00" width="94" height="1.4" fill="url(#q11)" transform="translate(5.1)"/><rect x="83.5" y="489.33" width="94" height="1.4" fill="url(#q11)" transform="translate(0.5)"/><rect x="80.4" y="490.67" width="94" height="1.4" fill="url(#q13)" transform="translate(3.6)"/><rect x="82.7" y="492.00" width="94" height="1.4" fill="url(#q13)" transform="translate(1.3)"/><rect x="78.9" y="493.33" width="94" height="1.4" fill="url(#q13)" transform="translate(5.1)"/><rect x="76.0" y="494.67" width="94" height="1.4" fill="url(#q13)" transform="translate(8.0)"/><rect x="79.4" y="496.00" width="94" height="1.4" fill="url(#q14)" transform="translate(4.6)"/><rect x="77.0" y="497.33" width="94" height="1.4" fill="url(#q14)" transform="translate(7.0)"/><rect x="77.2" y="498.67" width="94" height="1.4" fill="url(#q14)" transform="translate(6.8)"/><rect x="77.4" y="500.00" width="94" height="1.4" fill="url(#q14)" transform="translate(6.6)"/><rect x="74.5" y="501.33" width="94" height="1.4" fill="url(#q14)" transform="translate(9.5)"/><rect x="74.0" y="502.67" width="94" height="1.4" fill="url(#q14)" transform="translate(10.0)"/><rect x="73.2" y="504.00" width="94" height="1.4" fill="url(#q14)" transform="translate(10.8)"/><rect x="83.4" y="505.33" width="94" height="1.4" fill="url(#q14)" transform="translate(0.6)"/><rect x="83.0" y="506.67" width="94" height="1.4" fill="url(#q14)" transform="translate(1.0)"/><rect x="72.9" y="508.00" width="94" height="1.4" fill="url(#q14)" transform="translate(11.1)"/><rect x="77.5" y="509.33" width="94" height="1.4" fill="url(#q14)" transform="translate(6.5)"/><rect x="79.8" y="510.67" width="94" height="1.4" fill="url(#q14)" transform="translate(4.2)"/><rect x="82.9" y="512.00" width="94" height="1.4" fill="url(#q11)" transform="translate(1.1)"/><rect x="82.6" y="513.33" width="94" height="1.4" fill="url(#q11)" transform="translate(1.4)"/><rect x="80.0" y="514.67" width="94" height="1.4" fill="url(#q11)" transform="translate(4.0)"/><rect x="76.8" y="516.00" width="94" height="1.4" fill="url(#q11)" transform="translate(7.2)"/><rect x="78.5" y="517.33" width="94" height="1.4" fill="url(#q11)" transform="translate(5.5)"/><rect x="81.9" y="518.67" width="94" height="1.4" fill="url(#q11)" transform="translate(2.1)"/><rect x="80.8" y="520.00" width="94" height="1.4" fill="url(#q12)" transform="translate(3.2)"/><rect x="79.2" y="521.33" width="94" height="1.4" fill="url(#q12)" transform="translate(4.8)"/><rect x="82.8" y="522.67" width="94" height="1.4" fill="url(#q16)" transform="translate(1.2)"/><rect x="79.5" y="524.00" width="94" height="1.4" fill="url(#q16)" transform="translate(4.5)"/><rect x="80.6" y="525.33" width="94" height="1.4" fill="url(#q15)" transform="translate(3.4)"/><rect x="69.1" y="526.67" width="94" height="1.4" fill="url(#q16)" transform="translate(14.9)"/><rect x="82.1" y="528.00" width="94" height="1.4" fill="url(#q16)" transform="translate(1.9)"/><rect x="77.3" y="529.33" width="94" height="1.4" fill="url(#q16)" transform="translate(6.7)"/><rect x="78.0" y="530.67" width="94" height="1.4" fill="url(#q16)" transform="translate(6.0)"/><rect x="79.8" y="532.00" width="94" height="1.4" fill="url(#q16)" transform="translate(4.2)"/><rect x="73.6" y="533.33" width="94" height="1.4" fill="url(#q15)" transform="translate(10.4)"/><rect x="74.1" y="534.67" width="94" height="1.4" fill="url(#q15)" transform="translate(9.9)"/><rect x="74.3" y="536.00" width="94" height="1.4" fill="url(#q15)" transform="translate(9.7)"/><rect x="76.0" y="537.33" width="94" height="1.4" fill="url(#q15)" transform="translate(8.0)"/><rect x="75.2" y="538.67" width="94" height="1.4" fill="url(#q15)" transform="translate(8.8)"/><rect x="75.3" y="540.00" width="94" height="1.4" fill="url(#q15)" transform="translate(8.7)"/><rect x="79.3" y="541.33" width="94" height="1.4" fill="url(#q15)" transform="translate(4.7)"/><rect x="81.0" y="542.67" width="94" height="1.4" fill="url(#q16)" transform="translate(3.0)"/><rect x="75.6" y="544.00" width="94" height="1.4" fill="url(#q15)" transform="translate(8.4)"/><rect x="73.7" y="545.33" width="94" height="1.4" fill="url(#q15)" transform="translate(10.3)"/><rect x="72.9" y="546.67" width="94" height="1.4" fill="url(#q15)" transform="translate(11.1)"/><rect x="71.4" y="548.00" width="94" height="1.4" fill="url(#q15)" transform="translate(12.6)"/><rect x="81.6" y="549.33" width="94" height="1.4" fill="url(#q15)" transform="translate(2.4)"/><rect x="79.6" y="550.67" width="94" height="1.4" fill="url(#q12)" transform="translate(4.4)"/><rect x="83.6" y="552.00" width="94" height="1.4" fill="url(#q9)" transform="translate(0.4)"/><rect x="82.7" y="553.33" width="94" height="1.4" fill="url(#q7)" transform="translate(1.3)"/><rect x="82.9" y="554.67" width="94" height="1.4" fill="url(#q4)" transform="translate(1.1)"/><rect x="81.9" y="556.00" width="94" height="1.4" fill="url(#q3)" transform="translate(2.1)"/><rect x="82.6" y="557.33" width="94" height="1.4" fill="url(#q1)" transform="translate(1.4)"/><rect x="82.3" y="558.67" width="94" height="1.4" fill="url(#q0)" transform="translate(1.7)"/><rect x="82.0" y="560.00" width="94" height="1.4" fill="url(#q1)" transform="translate(2.0)"/><rect x="82.4" y="561.33" width="94" height="1.4" fill="url(#q2)" transform="translate(1.6)"/><rect x="82.1" y="562.67" width="94" height="1.4" fill="url(#q1)" transform="translate(1.9)"/><rect x="81.8" y="564.00" width="94" height="1.4" fill="url(#q1)" transform="translate(2.2)"/><rect x="82.5" y="565.33" width="94" height="1.4" fill="url(#q2)" transform="translate(1.5)"/><rect x="82.7" y="566.67" width="94" height="1.4" fill="url(#q2)" transform="translate(1.3)"/><rect x="83.6" y="568.00" width="94" height="1.4" fill="url(#q3)" transform="translate(0.4)"/><rect x="82.9" y="569.33" width="94" height="1.4" fill="url(#q5)" transform="translate(1.1)"/><rect x="83.0" y="570.67" width="94" height="1.4" fill="url(#q8)" transform="translate(1.0)"/><rect x="80.9" y="572.00" width="94" height="1.4" fill="url(#q10)" transform="translate(3.1)"/><rect x="78.6" y="573.33" width="94" height="1.4" fill="url(#q10)" transform="translate(5.4)"/><rect x="82.1" y="574.67" width="94" height="1.4" fill="url(#q10)" transform="translate(1.9)"/><rect x="80.7" y="576.00" width="94" height="1.4" fill="url(#q11)" transform="translate(3.3)"/><rect x="82.9" y="577.33" width="94" height="1.4" fill="url(#q10)" transform="translate(1.1)"/><rect x="76.9" y="578.67" width="94" height="1.4" fill="url(#q11)" transform="translate(7.1)"/><rect x="83.7" y="580.00" width="94" height="1.4" fill="url(#q11)" transform="translate(0.3)"/><rect x="83.4" y="581.33" width="94" height="1.4" fill="url(#q11)" transform="translate(0.6)"/><rect x="77.7" y="582.67" width="94" height="1.4" fill="url(#q11)" transform="translate(6.3)"/><rect x="83.1" y="584.00" width="94" height="1.4" fill="url(#q10)" transform="translate(0.9)"/><rect x="82.5" y="585.33" width="94" height="1.4" fill="url(#q10)" transform="translate(1.5)"/><rect x="82.3" y="586.67" width="94" height="1.4" fill="url(#q8)" transform="translate(1.7)"/><rect x="83.8" y="588.00" width="94" height="1.4" fill="url(#q7)" transform="translate(0.2)"/><rect x="82.5" y="625.33" width="94" height="1.4" fill="url(#q6)" transform="translate(1.5)"/><rect x="83.1" y="626.67" width="94" height="1.4" fill="url(#q5)" transform="translate(0.9)"/><rect x="81.5" y="628.00" width="94" height="1.4" fill="url(#q4)" transform="translate(2.5)"/><rect x="83.0" y="629.33" width="94" height="1.4" fill="url(#q5)" transform="translate(1.0)"/><rect x="82.9" y="630.67" width="94" height="1.4" fill="url(#q5)" transform="translate(1.1)"/><rect x="83.7" y="632.00" width="94" height="1.4" fill="url(#q5)" transform="translate(0.3)"/><rect x="81.1" y="633.33" width="94" height="1.4" fill="url(#q5)" transform="translate(2.9)"/><rect x="81.2" y="634.67" width="94" height="1.4" fill="url(#q5)" transform="translate(2.8)"/><rect x="82.2" y="636.00" width="94" height="1.4" fill="url(#q5)" transform="translate(1.8)"/><rect x="83.1" y="637.33" width="94" height="1.4" fill="url(#q5)" transform="translate(0.9)"/><rect x="83.4" y="638.67" width="94" height="1.4" fill="url(#q5)" transform="translate(0.6)"/></g><rect x="-3.5" y="589.33" width="178" height="1.4" fill="url(#q7)" transform="translate(3.5)"/><rect x="-3.9" y="590.67" width="178" height="1.4" fill="url(#q7)" transform="translate(3.9)"/><rect x="-2.9" y="592.00" width="178" height="1.4" fill="url(#q7)" transform="translate(2.9)"/><rect x="-1.2" y="593.33" width="178" height="1.4" fill="url(#q6)" transform="translate(1.2)"/><rect x="-1.7" y="594.67" width="178" height="1.4" fill="url(#q7)" transform="translate(1.7)"/><rect x="-0.3" y="596.00" width="178" height="1.4" fill="url(#q6)" transform="translate(0.3)"/><rect x="-4.3" y="597.33" width="178" height="1.4" fill="url(#q10)" transform="translate(4.3)"/><rect x="-5.4" y="598.67" width="178" height="1.4" fill="url(#q10)" transform="translate(5.4)"/><rect x="-1.7" y="600.00" width="178" height="1.4" fill="url(#q10)" transform="translate(1.7)"/><rect x="-2.4" y="601.33" width="178" height="1.4" fill="url(#q10)" transform="translate(2.4)"/><rect x="-2.8" y="602.67" width="178" height="1.4" fill="url(#q10)" transform="translate(2.8)"/><rect x="-4.1" y="604.00" width="178" height="1.4" fill="url(#q10)" transform="translate(4.1)"/><rect x="-4.8" y="605.33" width="178" height="1.4" fill="url(#q10)" transform="translate(4.8)"/><rect x="-4.5" y="606.67" width="178" height="1.4" fill="url(#q10)" transform="translate(4.5)"/><rect x="-3.1" y="608.00" width="178" height="1.4" fill="url(#q5)" transform="translate(3.1)"/><rect x="-2.6" y="609.33" width="178" height="1.4" fill="url(#q5)" transform="translate(2.6)"/><rect x="-3.2" y="610.67" width="178" height="1.4" fill="url(#q6)" transform="translate(3.2)"/><rect x="-2.6" y="612.00" width="178" height="1.4" fill="url(#q6)" transform="translate(2.6)"/><rect x="-2.8" y="613.33" width="178" height="1.4" fill="url(#q6)" transform="translate(2.8)"/><rect x="-0.1" y="614.67" width="178" height="1.4" fill="url(#q6)" transform="translate(0.1)"/><rect x="-4.1" y="616.00" width="178" height="1.4" fill="url(#q7)" transform="translate(4.1)"/><rect x="-3.6" y="617.33" width="178" height="1.4" fill="url(#q6)" transform="translate(3.6)"/><rect x="-4.0" y="618.67" width="178" height="1.4" fill="url(#q8)" transform="translate(4.0)"/><rect x="-0.2" y="620.00" width="178" height="1.4" fill="url(#q8)" transform="translate(0.2)"/><rect x="-0.2" y="621.33" width="178" height="1.4" fill="url(#q8)" transform="translate(0.2)"/><rect x="-0.4" y="622.67" width="178" height="1.4" fill="url(#q8)" transform="translate(0.4)"/><rect x="-2.8" y="624.00" width="178" height="1.4" fill="url(#q7)" transform="translate(2.8)"/><rect x="0" y="589" width="70" height="36" filter="url(#sq0)"/><rect x="171" y="0" width="7" height="66" filter="url(#nz0)"/><rect x="0" y="100" width="100" height="2.6" fill="url(#g0_0)"/><rect x="0" y="100" width="100" height="2.6" filter="url(#sp0)"/><rect x="0" y="103.7" width="105" height="2.5" fill="url(#g0_1)"/><rect x="0" y="103.7" width="105" height="2.5" filter="url(#sp0)"/><rect x="0" y="174.9" width="106" height="5.4" fill="url(#g0_2)"/><rect x="0" y="174.9" width="106" height="5.4" filter="url(#sp0)"/><rect x="0" y="182" width="104" height="5.4" fill="url(#g0_3)"/><rect x="0" y="182" width="104" height="5.4" filter="url(#sp0)"/><rect x="0" y="189.7" width="108" height="4.3" fill="url(#g0_4)"/><rect x="0" y="189.7" width="108" height="4.3" filter="url(#sq0)"/><rect x="0" y="373.7" width="101" height="8" fill="url(#g0_5)"/><rect x="0" y="373.7" width="101" height="8" filter="url(#sq0)"/><rect x="0" y="383.9" width="98" height="5.7" fill="url(#g0_6)"/><rect x="0" y="383.9" width="98" height="5.7" filter="url(#sq0)"/><rect x="0" y="568.1" width="30" height="2" fill="url(#g0_7)"/><rect x="0" y="568.1" width="30" height="2" filter="url(#sq0)"/><rect x="96" y="228.2" width="82" height="12.8" fill="url(#b0_0)"/><rect x="0" y="4" width="178" height="1" fill="#fff"/><rect x="0" y="65" width="178" height="5" fill="#fff"/><rect x="0" y="81.9" width="178" height="0.9" fill="#fff"/><rect x="0" y="91.2" width="178" height="8.8" fill="#fff"/><rect x="0" y="140.9" width="178" height="0.9" fill="#fff"/><rect x="0" y="152.8" width="178" height="8.2" fill="#fff"/><rect x="0" y="162" width="178" height="4" fill="#fff"/><rect x="0" y="170.7" width="178" height="4.2" fill="#fff"/><rect x="0" y="180.3" width="178" height="0.7" fill="#fff"/><rect x="0" y="188.5" width="178" height="1.2" fill="#fff"/><rect x="0" y="193.8" width="178" height="1.2" fill="#fff"/><rect x="0" y="208.8" width="178" height="0.9" fill="#fff"/><rect x="0" y="229.8" width="178" height="1" fill="#fff"/><rect x="0" y="241.9" width="178" height="3.8" fill="#fff"/><rect x="0" y="250" width="178" height="0.9" fill="#fff"/><rect x="0" y="261.9" width="178" height="1.1" fill="#fff"/><rect x="0" y="265.1" width="178" height="0.8" fill="#fff"/><rect x="0" y="284.1" width="178" height="1" fill="#fff"/><rect x="0" y="303.5" width="178" height="0.9" fill="#fff"/><rect x="0" y="306" width="178" height="0.9" fill="#fff"/><rect x="0" y="324.9" width="178" height="1" fill="#fff"/><rect x="0" y="381.6" width="178" height="2.4" fill="#fff"/><rect x="0" y="409" width="178" height="1.9" fill="#fff"/><rect x="0" y="423" width="178" height="1.1" fill="#fff"/><rect x="0" y="464" width="178" height="1" fill="#fff"/><rect x="0" y="476.9" width="178" height="0.9" fill="#fff"/><rect x="0" y="488.9" width="178" height="1.1" fill="#fff"/><rect x="0" y="510.4" width="178" height="1" fill="#fff"/><rect x="0" y="517.8" width="178" height="1.1" fill="#fff"/><rect x="0" y="523" width="178" height="0.8" fill="#fff"/><rect x="0" y="542" width="178" height="1.1" fill="#fff"/><rect x="0" y="545.1" width="178" height="0.8" fill="#fff"/><rect x="0" y="547" width="178" height="0.8" fill="#fff"/><rect x="0" y="552" width="178" height="6" fill="#fff"/><rect x="0" y="559" width="178" height="1" fill="#fff"/><rect x="0" y="563.1" width="178" height="1.1" fill="#fff"/><rect x="0" y="567" width="178" height="1.1" fill="#fff"/><rect x="0" y="584" width="178" height="1" fill="#fff"/><rect x="0" y="600.2" width="178" height="0.9" fill="#fff"/><rect x="0" y="624.8" width="178" height="2.5" fill="#fff"/><rect x="0" y="636.9" width="178" height="3.1" fill="#fff"/><rect x="0" y="22" width="178" height="1" fill="#000"/><rect x="0" y="90.2" width="178" height="1" fill="#000"/><rect x="0" y="102.6" width="178" height="1.1" fill="#000"/><rect x="0" y="118" width="178" height="1" fill="#000"/><rect x="0" y="120.9" width="178" height="0.9" fill="#000"/><rect x="0" y="123.9" width="178" height="0.9" fill="#000"/><rect x="0" y="139.8" width="178" height="0.9" fill="#000"/><rect x="0" y="161" width="178" height="1" fill="#000"/><rect x="0" y="169.5" width="178" height="1.2" fill="#000"/><rect x="0" y="181" width="178" height="1" fill="#000"/><rect x="0" y="187.4" width="178" height="1" fill="#000"/><rect x="0" y="195.9" width="178" height="1.9" fill="#000"/><rect x="0" y="223.9" width="178" height="0.9" fill="#000"/><rect x="0" y="241" width="178" height="0.9" fill="#000"/><rect x="0" y="248.2" width="178" height="1.8" fill="#000"/><rect x="0" y="252.2" width="178" height="9.7" fill="#000"/><rect x="0" y="263" width="178" height="1.1" fill="#000"/><rect x="0" y="289.8" width="178" height="0.9" fill="#000"/><rect x="0" y="301.8" width="178" height="1" fill="#000"/><rect x="0" y="317" width="178" height="0.9" fill="#000"/><rect x="0" y="322" width="178" height="0.9" fill="#000"/><rect x="0" y="342" width="178" height="0.9" fill="#000"/><rect x="0" y="353.7" width="178" height="0.9" fill="#000"/><rect x="0" y="372.8" width="178" height="0.9" fill="#000"/><rect x="0" y="452.9" width="178" height="0.9" fill="#000"/><rect x="0" y="492" width="178" height="1" fill="#000"/><rect x="0" y="494" width="178" height="0.9" fill="#000"/><rect x="0" y="497" width="178" height="1" fill="#000"/><rect x="0" y="504" width="178" height="0.9" fill="#000"/><rect x="0" y="513" width="178" height="1" fill="#000"/><rect x="0" y="517" width="178" height="0.8" fill="#000"/><rect x="0" y="527" width="178" height="1" fill="#000"/><rect x="0" y="531.3" width="178" height="1" fill="#000"/><rect x="0" y="537.8" width="178" height="1" fill="#000"/><rect x="0" y="551" width="178" height="1" fill="#000"/><rect x="0" y="570.1" width="178" height="1.6" fill="#000"/><rect x="0" y="588.2" width="178" height="0.9" fill="#000"/><rect x="0" y="605.9" width="178" height="0.9" fill="#000"/><rect x="0" y="627.7" width="178" height="1" fill="#000"/><line x1="0" x2="178" y1="168.7" y2="168.7" stroke="#000" stroke-width="1.4" stroke-dasharray="1.5 1.5"/></svg>
<div class="ax" style="left:131px;top:80px;width:178px;height:641px;"></div>
<div class="t yl" style="left:86px;width:40px;text-align:right;top:713.7px;font-size:12.6px;letter-spacing:0.5px;">0</div>
<div class="tk" style="left:132px;top:587px;width:4px;height:1px;"></div>
<div class="tk" style="left:304px;top:587px;width:4px;height:1px;"></div>
<div class="t yl" style="left:86px;width:40px;text-align:right;top:580.4px;font-size:12.6px;letter-spacing:0.5px;">5</div>
<div class="tk" style="left:132px;top:453px;width:4px;height:1px;"></div>
<div class="tk" style="left:304px;top:453px;width:4px;height:1px;"></div>
<div class="t yl" style="left:86px;width:40px;text-align:right;top:447.0px;font-size:12.6px;letter-spacing:0.5px;">10</div>
<div class="tk" style="left:132px;top:320px;width:4px;height:1px;"></div>
<div class="tk" style="left:304px;top:320px;width:4px;height:1px;"></div>
<div class="t yl" style="left:86px;width:40px;text-align:right;top:313.7px;font-size:12.6px;letter-spacing:0.5px;">15</div>
<div class="tk" style="left:132px;top:187px;width:4px;height:1px;"></div>
<div class="tk" style="left:304px;top:187px;width:4px;height:1px;"></div>
<div class="t yl" style="left:86px;width:40px;text-align:right;top:180.4px;font-size:12.6px;letter-spacing:0.5px;">20</div>
<div class="t xl" style="left:112.4px;width:40px;text-align:center;top:725.5px;font-size:12.6px;letter-spacing:0.5px;">320</div>
<div class="tk" style="left:173px;top:81px;width:1px;height:4px;"></div>
<div class="tk" style="left:173px;top:716px;width:1px;height:4px;"></div>
<div class="t xl" style="left:153.9px;width:40px;text-align:center;top:725.5px;font-size:12.6px;letter-spacing:0.5px;">335</div>
<div class="tk" style="left:214px;top:81px;width:1px;height:4px;"></div>
<div class="tk" style="left:214px;top:716px;width:1px;height:4px;"></div>
<div class="t xl" style="left:195.4px;width:40px;text-align:center;top:725.5px;font-size:12.6px;letter-spacing:0.5px;">350</div>
<div class="tk" style="left:256px;top:81px;width:1px;height:4px;"></div>
<div class="tk" style="left:256px;top:716px;width:1px;height:4px;"></div>
<div class="t xl" style="left:236.9px;width:40px;text-align:center;top:725.5px;font-size:12.6px;letter-spacing:0.5px;">365</div>
<div class="tk" style="left:297px;top:81px;width:1px;height:4px;"></div>
<div class="tk" style="left:297px;top:716px;width:1px;height:4px;"></div>
<div class="t xl" style="left:278.3px;width:40px;text-align:center;top:725.5px;font-size:12.6px;letter-spacing:0.5px;">380</div>
<div class="t ttl" style="left:282.5px;width:300px;text-align:center;top:59.6px;font-size:16px;letter-spacing:0.39px;">YY, V1*V16=EA02*EA06</div>
<svg class="pan" style="left:344px;top:80px" width="177" height="641" viewBox="0 0 177 641" shape-rendering="crispEdges"><defs><linearGradient id="mg1" gradientUnits="userSpaceOnUse" x1="94" y1="0" x2="116" y2="0"><stop offset="0" stop-color="#000"/><stop offset="1" stop-color="#fff"/></linearGradient><mask id="mk1" maskUnits="userSpaceOnUse" x="0" y="0" width="177" height="641"><rect x="0" y="0" width="177" height="641" fill="url(#mg1)"/></mask><linearGradient id="g1_0" gradientUnits="userSpaceOnUse" x1="0" y1="0" x2="112" y2="0"><stop offset="0.000" stop-color="#0000f3"/><stop offset="0.071" stop-color="#0000ff"/><stop offset="0.143" stop-color="#0023ff"/><stop offset="0.214" stop-color="#004eff"/><stop offset="0.286" stop-color="#007dff"/><stop offset="0.357" stop-color="#00afff"/><stop offset="0.429" stop-color="#00e5f7"/><stop offset="0.500" stop-color="#2dffca"/><stop offset="0.571" stop-color="#5cff9a"/><stop offset="0.643" stop-color="#8eff69"/><stop offset="0.714" stop-color="#c1ff36"/><stop offset="0.786" stop-color="#f5f702"/><stop offset="0.857" stop-color="#ffb900"/><stop offset="0.929" stop-color="#ff7a00"/><stop offset="1.000" stop-color="#ff3900"/></linearGradient><linearGradient id="g1_1" gradientUnits="userSpaceOnUse" x1="0" y1="0" x2="114" y2="0"><stop offset="0.000" stop-color="#00d1ff"/><stop offset="0.071" stop-color="#00e1fb"/><stop offset="0.143" stop-color="#0ef7e8"/><stop offset="0.214" stop-color="#24ffd3"/><stop offset="0.286" stop-color="#3bffbb"/><stop offset="0.357" stop-color="#55ffa2"/><stop offset="0.429" stop-color="#70ff87"/><stop offset="0.500" stop-color="#8dff6a"/><stop offset="0.571" stop-color="#aaff4c"/><stop offset="0.643" stop-color="#c9ff2e"/><stop offset="0.714" stop-color="#e9ff0e"/><stop offset="0.786" stop-color="#ffdf00"/><stop offset="0.857" stop-color="#ffb800"/><stop offset="0.929" stop-color="#ff9100"/><stop offset="1.000" stop-color="#ff6800"/></linearGradient><linearGradient id="g1_2" gradientUnits="userSpaceOnUse" x1="0" y1="0" x2="114" y2="0"><stop offset="0.000" stop-color="#0000f3"/><stop offset="0.071" stop-color="#0001ff"/><stop offset="0.143" stop-color="#0028ff"/><stop offset="0.214" stop-color="#0055ff"/><stop offset="0.286" stop-color="#0087ff"/><stop offset="0.357" stop-color="#00bcff"/><stop offset="0.429" stop-color="#0df6ea"/><stop offset="0.500" stop-color="#3effb9"/><stop offset="0.571" stop-color="#70ff86"/><stop offset="0.643" stop-color="#a5ff52"/><stop offset="0.714" stop-color="#dbff1c"/><stop offset="0.786" stop-color="#ffd500"/><stop offset="0.857" stop-color="#ff9300"/><stop offset="0.929" stop-color="#ff4f00"/><stop offset="1.000" stop-color="#f30900"/></linearGradient><linearGradient id="g1_3" gradientUnits="userSpaceOnUse" x1="0" y1="0" x2="112" y2="0"><stop offset="0.000" stop-color="#0000f3"/><stop offset="0.071" stop-color="#0000ff"/><stop offset="0.143" stop-color="#0026ff"/><stop offset="0.214" stop-color="#0052ff"/><stop offset="0.286" stop-color="#0083ff"/><stop offset="0.357" stop-color="#00b7ff"/><stop offset="0.429" stop-color="#08efef"/><stop offset="0.500" stop-color="#37ffc0"/><stop offset="0.571" stop-color="#68ff8e"/><stop offset="0.643" stop-color="#9cff5b"/><stop offset="0.714" stop-color="#d1ff26"/><stop offset="0.786" stop-color="#ffe300"/><stop offset="0.857" stop-color="#ffa200"/><stop offset="0.929" stop-color="#ff6000"/><stop offset="1.000" stop-color="#ff1c00"/></linearGradient><linearGradient id="g1_4" gradientUnits="userSpaceOnUse" x1="0" y1="0" x2="116" y2="0"><stop offset="0.000" stop-color="#0005ff"/><stop offset="0.071" stop-color="#001fff"/><stop offset="0.143" stop-color="#0044ff"/><stop offset="0.214" stop-color="#006fff"/><stop offset="0.286" stop-color="#009fff"/><stop offset="0.357" stop-color="#00d3ff"/><stop offset="0.429" stop-color="#1effd9"/><stop offset="0.500" stop-color="#4cffab"/><stop offset="0.571" stop-color="#7dff7a"/><stop offset="0.643" stop-color="#b0ff47"/><stop offset="0.714" stop-color="#e4ff13"/><stop offset="0.786" stop-color="#ffcd00"/><stop offset="0.857" stop-color="#ff8e00"/><stop offset="0.929" stop-color="#ff4c00"/><stop offset="1.000" stop-color="#f30900"/></linearGradient><linearGradient id="g1_5" gradientUnits="userSpaceOnUse" x1="0" y1="0" x2="112" y2="0"><stop offset="0.000" stop-color="#0042ff"/><stop offset="0.071" stop-color="#005aff"/><stop offset="0.143" stop-color="#007cff"/><stop offset="0.214" stop-color="#00a4ff"/><stop offset="0.286" stop-color="#00d0ff"/><stop offset="0.357" stop-color="#16ffe1"/><stop offset="0.429" stop-color="#3fffb8"/><stop offset="0.500" stop-color="#6aff8d"/><stop offset="0.571" stop-color="#97ff60"/><stop offset="0.643" stop-color="#c5ff32"/><stop offset="0.714" stop-color="#f5f701"/><stop offset="0.786" stop-color="#ffbe00"/><stop offset="0.857" stop-color="#ff8300"/><stop offset="0.929" stop-color="#ff4700"/><stop offset="1.000" stop-color="#f30900"/></linearGradient><linearGradient id="g1_6" gradientUnits="userSpaceOnUse" x1="0" y1="0" x2="110" y2="0"><stop offset="0.000" stop-color="#0061ff"/><stop offset="0.071" stop-color="#0077ff"/><stop offset="0.143" stop-color="#0097ff"/><stop offset="0.214" stop-color="#00bcff"/><stop offset="0.286" stop-color="#00e5f7"/><stop offset="0.357" stop-color="#23ffd3"/><stop offset="0.429" stop-color="#4affad"/><stop offset="0.500" stop-color="#72ff85"/><stop offset="0.571" stop-color="#9bff5b"/><stop offset="0.643" stop-color="#c7ff30"/><stop offset="0.714" stop-color="#f4f903"/><stop offset="0.786" stop-color="#ffc400"/><stop offset="0.857" stop-color="#ff8e00"/><stop offset="0.929" stop-color="#ff5600"/><stop offset="1.000" stop-color="#ff1c00"/></linearGradient><linearGradient id="g1_7" gradientUnits="userSpaceOnUse" x1="0" y1="0" x2="30" y2="0"><stop offset="0.000" stop-color="#0000f3"/><stop offset="0.071" stop-color="#0000fb"/><stop offset="0.143" stop-color="#0000ff"/><stop offset="0.214" stop-color="#0002ff"/><stop offset="0.286" stop-color="#000fff"/><stop offset="0.357" stop-color="#001cff"/><stop offset="0.429" stop-color="#002aff"/><stop offset="0.500" stop-color="#0039ff"/><stop offset="0.571" stop-color="#0049ff"/><stop offset="0.643" stop-color="#0059ff"/><stop offset="0.714" stop-color="#006aff"/><stop offset="0.786" stop-color="#007cff"/><stop offset="0.857" stop-color="#008dff"/><stop offset="0.929" stop-color="#00a0ff"/><stop offset="1.000" stop-color="#00b2ff"/></linearGradient><linearGradient id="b1_0" gradientUnits="userSpaceOnUse" x1="36.04" y1="234.6" x2="103.04" y2="234.6" spreadMethod="repeat" gradientTransform="translate(0 234.6) skewX(-54.5) translate(0 -234.6)"><stop offset="0.000" stop-color="#000080"/><stop offset="0.062" stop-color="#0000c8"/><stop offset="0.125" stop-color="#0000ff"/><stop offset="0.188" stop-color="#0040ff"/><stop offset="0.250" stop-color="#0080ff"/><stop offset="0.312" stop-color="#00bfff"/><stop offset="0.375" stop-color="#15ffe2"/><stop offset="0.438" stop-color="#48ffaf"/><stop offset="0.500" stop-color="#7bff7b"/><stop offset="0.562" stop-color="#afff48"/><stop offset="0.625" stop-color="#e2ff15"/><stop offset="0.688" stop-color="#ffd200"/><stop offset="0.750" stop-color="#ff9700"/><stop offset="0.812" stop-color="#ff5c00"/><stop offset="0.875" stop-color="#ff2100"/><stop offset="0.938" stop-color="#c80000"/><stop offset="1.000" stop-color="#800000"/></linearGradient></defs><rect width="177" height="641" filter="url(#nz1)"/><g mask="url(#mk1)"><rect x="90.8" y="0.00" width="85" height="1.4" fill="url(#q4)" transform="translate(1.2)"/><rect x="90.0" y="1.33" width="85" height="1.4" fill="url(#q4)" transform="translate(2.0)"/><rect x="89.3" y="2.67" width="85" height="1.4" fill="url(#q4)" transform="translate(2.7)"/><rect x="91.2" y="4.00" width="85" height="1.4" fill="url(#q4)" transform="translate(0.8)"/><rect x="90.3" y="5.33" width="85" height="1.4" fill="url(#q4)" transform="translate(1.7)"/><rect x="88.9" y="6.67" width="85" height="1.4" fill="url(#q4)" transform="translate(3.1)"/><rect x="91.6" y="8.00" width="85" height="1.4" fill="url(#q4)" transform="translate(0.4)"/><rect x="89.7" y="9.33" width="85" height="1.4" fill="url(#q3)" transform="translate(2.3)"/><rect x="91.5" y="10.67" width="85" height="1.4" fill="url(#q3)" transform="translate(0.5)"/><rect x="89.8" y="12.00" width="85" height="1.4" fill="url(#q4)" transform="translate(2.2)"/><rect x="90.5" y="13.33" width="85" height="1.4" fill="url(#q3)" transform="translate(1.5)"/><rect x="89.4" y="14.67" width="85" height="1.4" fill="url(#q3)" transform="translate(2.6)"/><rect x="91.3" y="16.00" width="85" height="1.4" fill="url(#q3)" transform="translate(0.7)"/><rect x="89.7" y="17.33" width="85" height="1.4" fill="url(#q4)" transform="translate(2.3)"/><rect x="90.7" y="18.67" width="85" height="1.4" fill="url(#q3)" transform="translate(1.3)"/><rect x="89.7" y="20.00" width="85" height="1.4" fill="url(#q3)" transform="translate(2.3)"/><rect x="90.6" y="21.33" width="85" height="1.4" fill="url(#q4)" transform="translate(1.4)"/><rect x="89.4" y="22.67" width="85" height="1.4" fill="url(#q3)" transform="translate(2.6)"/><rect x="89.5" y="24.00" width="85" height="1.4" fill="url(#q3)" transform="translate(2.5)"/><rect x="90.2" y="25.33" width="85" height="1.4" fill="url(#q3)" transform="translate(1.8)"/><rect x="91.6" y="26.67" width="85" height="1.4" fill="url(#q4)" transform="translate(0.4)"/><rect x="90.3" y="28.00" width="85" height="1.4" fill="url(#q3)" transform="translate(1.7)"/><rect x="90.6" y="29.33" width="85" height="1.4" fill="url(#q3)" transform="translate(1.4)"/><rect x="90.3" y="30.67" width="85" height="1.4" fill="url(#q3)" transform="translate(1.7)"/><rect x="91.3" y="32.00" width="85" height="1.4" fill="url(#q2)" transform="translate(0.7)"/><rect x="91.8" y="33.33" width="85" height="1.4" fill="url(#q4)" transform="translate(0.2)"/><rect x="90.6" y="34.67" width="85" height="1.4" fill="url(#q3)" transform="translate(1.4)"/><rect x="89.2" y="36.00" width="85" height="1.4" fill="url(#q4)" transform="translate(2.8)"/><rect x="89.8" y="37.33" width="85" height="1.4" fill="url(#q3)" transform="translate(2.2)"/><rect x="90.1" y="38.67" width="85" height="1.4" fill="url(#q3)" transform="translate(1.9)"/><rect x="90.9" y="40.00" width="85" height="1.4" fill="url(#q3)" transform="translate(1.1)"/><rect x="91.0" y="41.33" width="85" height="1.4" fill="url(#q3)" transform="translate(1.0)"/><rect x="91.5" y="42.67" width="85" height="1.4" fill="url(#q3)" transform="translate(0.5)"/><rect x="91.5" y="44.00" width="85" height="1.4" fill="url(#q3)" transform="translate(0.5)"/><rect x="91.1" y="45.33" width="85" height="1.4" fill="url(#q3)" transform="translate(0.9)"/><rect x="91.2" y="46.67" width="85" height="1.4" fill="url(#q3)" transform="translate(0.8)"/><rect x="91.5" y="48.00" width="85" height="1.4" fill="url(#q3)" transform="translate(0.5)"/><rect x="92.0" y="49.33" width="85" height="1.4" fill="url(#q3)" transform="translate(0.0)"/><rect x="89.2" y="50.67" width="85" height="1.4" fill="url(#q3)" transform="translate(2.8)"/><rect x="89.4" y="52.00" width="85" height="1.4" fill="url(#q3)" transform="translate(2.6)"/><rect x="89.6" y="53.33" width="85" height="1.4" fill="url(#q3)" transform="translate(2.4)"/><rect x="90.2" y="54.67" width="85" height="1.4" fill="url(#q3)" transform="translate(1.8)"/><rect x="90.4" y="56.00" width="85" height="1.4" fill="url(#q3)" transform="translate(1.6)"/><rect x="90.6" y="57.33" width="85" height="1.4" fill="url(#q3)" transform="translate(1.4)"/><rect x="90.6" y="58.67" width="85" height="1.4" fill="url(#q3)" transform="translate(1.4)"/><rect x="90.5" y="60.00" width="85" height="1.4" fill="url(#q3)" transform="translate(1.5)"/><rect x="90.3" y="61.33" width="85" height="1.4" fill="url(#q3)" transform="translate(1.7)"/><rect x="90.8" y="62.67" width="85" height="1.4" fill="url(#q2)" transform="translate(1.2)"/><rect x="89.3" y="64.00" width="85" height="1.4" fill="url(#q3)" transform="translate(2.7)"/><rect x="89.5" y="65.33" width="85" height="1.4" fill="url(#q5)" transform="translate(2.5)"/><rect x="89.8" y="66.67" width="85" height="1.4" fill="url(#q4)" transform="translate(2.2)"/><rect x="89.0" y="68.00" width="85" height="1.4" fill="url(#q7)" transform="translate(3.0)"/><rect x="83.8" y="69.33" width="85" height="1.4" fill="url(#q12)" transform="translate(8.2)"/><rect x="82.8" y="70.67" width="85" height="1.4" fill="url(#q13)" transform="translate(9.2)"/><rect x="82.4" y="72.00" width="85" height="1.4" fill="url(#q13)" transform="translate(9.6)"/><rect x="81.8" y="73.33" width="85" height="1.4" fill="url(#q14)" transform="translate(10.2)"/><rect x="75.8" y="74.67" width="85" height="1.4" fill="url(#q19)" transform="translate(16.2)"/><rect x="84.3" y="76.00" width="85" height="1.4" fill="url(#q19)" transform="translate(7.7)"/><rect x="75.3" y="77.33" width="85" height="1.4" fill="url(#q19)" transform="translate(16.7)"/><rect x="87.9" y="78.67" width="85" height="1.4" fill="url(#q19)" transform="translate(4.1)"/><rect x="67.2" y="80.00" width="85" height="1.4" fill="url(#q20)" transform="translate(24.8)"/><rect x="81.9" y="81.33" width="85" height="1.4" fill="url(#q18)" transform="translate(10.1)"/><rect x="76.9" y="82.67" width="85" height="1.4" fill="url(#q18)" transform="translate(15.1)"/><rect x="86.8" y="84.00" width="85" height="1.4" fill="url(#q17)" transform="translate(5.2)"/><rect x="84.1" y="85.33" width="85" height="1.4" fill="url(#q12)" transform="translate(7.9)"/><rect x="86.8" y="86.67" width="85" height="1.4" fill="url(#q11)" transform="translate(5.2)"/><rect x="84.8" y="88.00" width="85" height="1.4" fill="url(#q11)" transform="translate(7.2)"/><rect x="87.6" y="89.33" width="85" height="1.4" fill="url(#q10)" transform="translate(4.4)"/><rect x="86.4" y="90.67" width="85" height="1.4" fill="url(#q10)" transform="translate(5.6)"/><rect x="86.5" y="92.00" width="85" height="1.4" fill="url(#q9)" transform="translate(5.5)"/><rect x="89.7" y="93.33" width="85" height="1.4" fill="url(#q8)" transform="translate(2.3)"/><rect x="91.3" y="94.67" width="85" height="1.4" fill="url(#q7)" transform="translate(0.7)"/><rect x="90.8" y="96.00" width="85" height="1.4" fill="url(#q7)" transform="translate(1.2)"/><rect x="91.1" y="97.33" width="85" height="1.4" fill="url(#q6)" transform="translate(0.9)"/><rect x="91.1" y="98.67" width="85" height="1.4" fill="url(#q8)" transform="translate(0.9)"/><rect x="91.6" y="100.00" width="85" height="1.4" fill="url(#q8)" transform="translate(0.4)"/><rect x="88.3" y="101.33" width="85" height="1.4" fill="url(#q8)" transform="translate(3.7)"/><rect x="88.5" y="102.67" width="85" height="1.4" fill="url(#q8)" transform="translate(3.5)"/><rect x="89.6" y="104.00" width="85" height="1.4" fill="url(#q7)" transform="translate(2.4)"/><rect x="92.0" y="105.33" width="85" height="1.4" fill="url(#q7)" transform="translate(0.0)"/><rect x="91.8" y="106.67" width="85" height="1.4" fill="url(#q7)" transform="translate(0.2)"/><rect x="89.7" y="108.00" width="85" height="1.4" fill="url(#q8)" transform="translate(2.3)"/><rect x="89.9" y="109.33" width="85" height="1.4" fill="url(#q8)" transform="translate(2.1)"/><rect x="88.7" y="110.67" width="85" height="1.4" fill="url(#q7)" transform="translate(3.3)"/><rect x="90.2" y="112.00" width="85" height="1.4" fill="url(#q8)" transform="translate(1.8)"/><rect x="89.9" y="113.33" width="85" height="1.4" fill="url(#q7)" transform="translate(2.1)"/><rect x="88.4" y="114.67" width="85" height="1.4" fill="url(#q7)" transform="translate(3.6)"/><rect x="92.0" y="116.00" width="85" height="1.4" fill="url(#q7)" transform="translate(0.0)"/><rect x="92.0" y="117.33" width="85" height="1.4" fill="url(#q6)" transform="translate(0.0)"/><rect x="91.6" y="118.67" width="85" height="1.4" fill="url(#q7)" transform="translate(0.4)"/><rect x="89.3" y="120.00" width="85" height="1.4" fill="url(#q7)" transform="translate(2.7)"/><rect x="91.2" y="121.33" width="85" height="1.4" fill="url(#q7)" transform="translate(0.8)"/><rect x="89.6" y="122.67" width="85" height="1.4" fill="url(#q7)" transform="translate(2.4)"/><rect x="90.7" y="124.00" width="85" height="1.4" fill="url(#q6)" transform="translate(1.3)"/><rect x="91.9" y="125.33" width="85" height="1.4" fill="url(#q7)" transform="translate(0.1)"/><rect x="88.4" y="126.67" width="85" height="1.4" fill="url(#q7)" transform="translate(3.6)"/><rect x="88.2" y="128.00" width="85" height="1.4" fill="url(#q7)" transform="translate(3.8)"/><rect x="90.7" y="129.33" width="85" height="1.4" fill="url(#q7)" transform="translate(1.3)"/><rect x="88.7" y="130.67" width="85" height="1.4" fill="url(#q7)" transform="translate(3.3)"/><rect x="90.6" y="132.00" width="85" height="1.4" fill="url(#q7)" transform="translate(1.4)"/><rect x="88.6" y="133.33" width="85" height="1.4" fill="url(#q7)" transform="translate(3.4)"/><rect x="91.9" y="134.67" width="85" height="1.4" fill="url(#q7)" transform="translate(0.1)"/><rect x="91.7" y="136.00" width="85" height="1.4" fill="url(#q7)" transform="translate(0.3)"/><rect x="91.5" y="137.33" width="85" height="1.4" fill="url(#q6)" transform="translate(0.5)"/><rect x="91.1" y="138.67" width="85" height="1.4" fill="url(#q7)" transform="translate(0.9)"/><rect x="89.3" y="140.00" width="85" height="1.4" fill="url(#q7)" transform="translate(2.7)"/><rect x="89.4" y="141.33" width="85" height="1.4" fill="url(#q7)" transform="translate(2.6)"/><rect x="90.1" y="142.67" width="85" height="1.4" fill="url(#q7)" transform="translate(1.9)"/><rect x="91.0" y="144.00" width="85" height="1.4" fill="url(#q7)" transform="translate(1.0)"/><rect x="87.8" y="145.33" width="85" height="1.4" fill="url(#q7)" transform="translate(4.2)"/><rect x="89.1" y="146.67" width="85" height="1.4" fill="url(#q7)" transform="translate(2.9)"/><rect x="90.7" y="148.00" width="85" height="1.4" fill="url(#q7)" transform="translate(1.3)"/><rect x="91.9" y="149.33" width="85" height="1.4" fill="url(#q7)" transform="translate(0.1)"/><rect x="88.5" y="150.67" width="85" height="1.4" fill="url(#q7)" transform="translate(3.5)"/><rect x="90.6" y="152.00" width="85" height="1.4" fill="url(#q7)" transform="translate(1.4)"/><rect x="91.5" y="153.33" width="85" height="1.4" fill="url(#q7)" transform="translate(0.5)"/><rect x="89.5" y="154.67" width="85" height="1.4" fill="url(#q7)" transform="translate(2.5)"/><rect x="90.1" y="156.00" width="85" height="1.4" fill="url(#q6)" transform="translate(1.9)"/><rect x="89.7" y="157.33" width="85" height="1.4" fill="url(#q6)" transform="translate(2.3)"/><rect x="89.7" y="158.67" width="85" height="1.4" fill="url(#q5)" transform="translate(2.3)"/><rect x="89.3" y="160.00" width="85" height="1.4" fill="url(#q5)" transform="translate(2.7)"/><rect x="89.8" y="161.33" width="85" height="1.4" fill="url(#q4)" transform="translate(2.2)"/><rect x="91.3" y="162.67" width="85" height="1.4" fill="url(#q5)" transform="translate(0.7)"/><rect x="89.9" y="164.00" width="85" height="1.4" fill="url(#q3)" transform="translate(2.1)"/><rect x="90.1" y="165.33" width="85" height="1.4" fill="url(#q4)" transform="translate(1.9)"/><rect x="91.0" y="166.67" width="85" height="1.4" fill="url(#q3)" transform="translate(1.0)"/><rect x="90.9" y="168.00" width="85" height="1.4" fill="url(#q3)" transform="translate(1.1)"/><rect x="91.7" y="169.33" width="85" height="1.4" fill="url(#q2)" transform="translate(0.3)"/><rect x="92.0" y="170.67" width="85" height="1.4" fill="url(#q2)" transform="translate(0.0)"/><rect x="90.3" y="172.00" width="85" height="1.4" fill="url(#q1)" transform="translate(1.7)"/><rect x="91.0" y="173.33" width="85" height="1.4" fill="url(#q1)" transform="translate(1.0)"/><rect x="90.0" y="174.67" width="85" height="1.4" fill="url(#q0)" transform="translate(2.0)"/><rect x="90.8" y="176.00" width="85" height="1.4" fill="url(#q1)" transform="translate(1.2)"/><rect x="92.0" y="177.33" width="85" height="1.4" fill="url(#q0)" transform="translate(0.0)"/><rect x="89.9" y="178.67" width="85" height="1.4" fill="url(#q0)" transform="translate(2.1)"/><rect x="90.4" y="180.00" width="85" height="1.4" fill="url(#q0)" transform="translate(1.6)"/><rect x="91.8" y="181.33" width="85" height="1.4" fill="url(#q1)" transform="translate(0.2)"/><rect x="91.5" y="182.67" width="85" height="1.4" fill="url(#q0)" transform="translate(0.5)"/><rect x="92.0" y="184.00" width="85" height="1.4" fill="url(#q0)" transform="translate(0.0)"/><rect x="90.4" y="185.33" width="85" height="1.4" fill="url(#q0)" transform="translate(1.6)"/><rect x="91.7" y="186.67" width="85" height="1.4" fill="url(#q1)" transform="translate(0.3)"/><rect x="91.7" y="188.00" width="85" height="1.4" fill="url(#q3)" transform="translate(0.3)"/><rect x="89.5" y="189.33" width="85" height="1.4" fill="url(#q4)" transform="translate(2.5)"/><rect x="90.8" y="190.67" width="85" height="1.4" fill="url(#q5)" transform="translate(1.2)"/><rect x="90.3" y="192.00" width="85" height="1.4" fill="url(#q5)" transform="translate(1.7)"/><rect x="89.1" y="193.33" width="85" height="1.4" fill="url(#q5)" transform="translate(2.9)"/><rect x="88.6" y="194.67" width="85" height="1.4" fill="url(#q7)" transform="translate(3.4)"/><rect x="88.4" y="196.00" width="85" height="1.4" fill="url(#q9)" transform="translate(3.6)"/><rect x="89.2" y="197.33" width="85" height="1.4" fill="url(#q10)" transform="translate(2.8)"/><rect x="89.0" y="198.67" width="85" height="1.4" fill="url(#q12)" transform="translate(3.0)"/><rect x="91.2" y="200.00" width="85" height="1.4" fill="url(#q12)" transform="translate(0.8)"/><rect x="91.4" y="201.33" width="85" height="1.4" fill="url(#q12)" transform="translate(0.6)"/><rect x="91.3" y="202.67" width="85" height="1.4" fill="url(#q12)" transform="translate(0.7)"/><rect x="90.1" y="204.00" width="85" height="1.4" fill="url(#q13)" transform="translate(1.9)"/><rect x="83.4" y="205.33" width="85" height="1.4" fill="url(#q13)" transform="translate(8.6)"/><rect x="90.6" y="206.67" width="85" height="1.4" fill="url(#q13)" transform="translate(1.4)"/><rect x="86.5" y="208.00" width="85" height="1.4" fill="url(#q14)" transform="translate(5.5)"/><rect x="80.5" y="209.33" width="85" height="1.4" fill="url(#q15)" transform="translate(11.5)"/><rect x="83.4" y="210.67" width="85" height="1.4" fill="url(#q15)" transform="translate(8.6)"/><rect x="88.5" y="212.00" width="85" height="1.4" fill="url(#q16)" transform="translate(3.5)"/><rect x="88.1" y="213.33" width="85" height="1.4" fill="url(#q14)" transform="translate(3.9)"/><rect x="84.8" y="214.67" width="85" height="1.4" fill="url(#q14)" transform="translate(7.2)"/><rect x="91.1" y="216.00" width="85" height="1.4" fill="url(#q13)" transform="translate(0.9)"/><rect x="88.2" y="217.33" width="85" height="1.4" fill="url(#q12)" transform="translate(3.8)"/><rect x="88.9" y="218.67" width="85" height="1.4" fill="url(#q11)" transform="translate(3.1)"/><rect x="85.0" y="220.00" width="85" height="1.4" fill="url(#q11)" transform="translate(7.0)"/><rect x="89.9" y="221.33" width="85" height="1.4" fill="url(#q11)" transform="translate(2.1)"/><rect x="90.5" y="222.67" width="85" height="1.4" fill="url(#q12)" transform="translate(1.5)"/><rect x="89.2" y="224.00" width="85" height="1.4" fill="url(#q13)" transform="translate(2.8)"/><rect x="79.3" y="225.33" width="85" height="1.4" fill="url(#q15)" transform="translate(12.7)"/><rect x="87.9" y="226.67" width="85" height="1.4" fill="url(#q16)" transform="translate(4.1)"/><rect x="82.5" y="228.00" width="85" height="1.4" fill="url(#q17)" transform="translate(9.5)"/><rect x="65.1" y="229.33" width="85" height="1.4" fill="url(#q20)" transform="translate(26.9)"/><rect x="50.9" y="230.67" width="85" height="1.4" fill="url(#q24)" transform="translate(41.1)"/><rect x="38.0" y="232.00" width="85" height="1.4" fill="url(#q24)" transform="translate(54.0)"/><rect x="76.6" y="233.33" width="85" height="1.4" fill="url(#q24)" transform="translate(15.4)"/><rect x="78.3" y="234.67" width="85" height="1.4" fill="url(#q24)" transform="translate(13.7)"/><rect x="59.1" y="236.00" width="85" height="1.4" fill="url(#q24)" transform="translate(32.9)"/><rect x="74.9" y="237.33" width="85" height="1.4" fill="url(#q24)" transform="translate(17.1)"/><rect x="85.7" y="238.67" width="85" height="1.4" fill="url(#q24)" transform="translate(6.3)"/><rect x="90.4" y="240.00" width="85" height="1.4" fill="url(#q24)" transform="translate(1.6)"/><rect x="86.1" y="241.33" width="85" height="1.4" fill="url(#q16)" transform="translate(5.9)"/><rect x="87.2" y="242.67" width="85" height="1.4" fill="url(#q12)" transform="translate(4.8)"/><rect x="88.5" y="244.00" width="85" height="1.4" fill="url(#q9)" transform="translate(3.5)"/><rect x="91.7" y="245.33" width="85" height="1.4" fill="url(#q7)" transform="translate(0.3)"/><rect x="91.4" y="246.67" width="85" height="1.4" fill="url(#q4)" transform="translate(0.6)"/><rect x="91.6" y="248.00" width="85" height="1.4" fill="url(#q4)" transform="translate(0.4)"/><rect x="90.5" y="249.33" width="85" height="1.4" fill="url(#q4)" transform="translate(1.5)"/><rect x="91.3" y="250.67" width="85" height="1.4" fill="url(#q5)" transform="translate(0.7)"/><rect x="90.6" y="252.00" width="85" height="1.4" fill="url(#q5)" transform="translate(1.4)"/><rect x="89.5" y="253.33" width="85" height="1.4" fill="url(#q5)" transform="translate(2.5)"/><rect x="89.0" y="254.67" width="85" height="1.4" fill="url(#q6)" transform="translate(3.0)"/><rect x="91.4" y="256.00" width="85" height="1.4" fill="url(#q0)" transform="translate(0.6)"/><rect x="91.4" y="257.33" width="85" height="1.4" fill="url(#q0)" transform="translate(0.6)"/><rect x="91.5" y="258.67" width="85" height="1.4" fill="url(#q0)" transform="translate(0.5)"/><rect x="91.8" y="260.00" width="85" height="1.4" fill="url(#q0)" transform="translate(0.2)"/><rect x="89.8" y="261.33" width="85" height="1.4" fill="url(#q2)" transform="translate(2.2)"/><rect x="91.1" y="262.67" width="85" height="1.4" fill="url(#q3)" transform="translate(0.9)"/><rect x="90.9" y="264.00" width="85" height="1.4" fill="url(#q3)" transform="translate(1.1)"/><rect x="89.2" y="265.33" width="85" height="1.4" fill="url(#q4)" transform="translate(2.8)"/><rect x="89.9" y="266.67" width="85" height="1.4" fill="url(#q11)" transform="translate(2.1)"/><rect x="89.9" y="268.00" width="85" height="1.4" fill="url(#q11)" transform="translate(2.1)"/><rect x="85.2" y="269.33" width="85" height="1.4" fill="url(#q12)" transform="translate(6.8)"/><rect x="91.5" y="270.67" width="85" height="1.4" fill="url(#q11)" transform="translate(0.5)"/><rect x="89.3" y="272.00" width="85" height="1.4" fill="url(#q12)" transform="translate(2.7)"/><rect x="90.1" y="273.33" width="85" height="1.4" fill="url(#q12)" transform="translate(1.9)"/><rect x="83.9" y="274.67" width="85" height="1.4" fill="url(#q12)" transform="translate(8.1)"/><rect x="85.6" y="276.00" width="85" height="1.4" fill="url(#q12)" transform="translate(6.4)"/><rect x="89.0" y="277.33" width="85" height="1.4" fill="url(#q10)" transform="translate(3.0)"/><rect x="90.6" y="278.67" width="85" height="1.4" fill="url(#q10)" transform="translate(1.4)"/><rect x="87.3" y="280.00" width="85" height="1.4" fill="url(#q10)" transform="translate(4.7)"/><rect x="89.5" y="281.33" width="85" height="1.4" fill="url(#q10)" transform="translate(2.5)"/><rect x="91.4" y="282.67" width="85" height="1.4" fill="url(#q10)" transform="translate(0.6)"/><rect x="87.2" y="284.00" width="85" height="1.4" fill="url(#q10)" transform="translate(4.8)"/><rect x="90.6" y="285.33" width="85" height="1.4" fill="url(#q10)" transform="translate(1.4)"/><rect x="88.6" y="286.67" width="85" height="1.4" fill="url(#q10)" transform="translate(3.4)"/><rect x="91.0" y="288.00" width="85" height="1.4" fill="url(#q10)" transform="translate(1.0)"/><rect x="88.8" y="289.33" width="85" height="1.4" fill="url(#q10)" transform="translate(3.2)"/><rect x="91.8" y="290.67" width="85" height="1.4" fill="url(#q10)" transform="translate(0.2)"/><rect x="88.4" y="292.00" width="85" height="1.4" fill="url(#q10)" transform="translate(3.6)"/><rect x="89.8" y="293.33" width="85" height="1.4" fill="url(#q10)" transform="translate(2.2)"/><rect x="90.8" y="294.67" width="85" height="1.4" fill="url(#q10)" transform="translate(1.2)"/><rect x="91.9" y="296.00" width="85" height="1.4" fill="url(#q10)" transform="translate(0.1)"/><rect x="86.1" y="297.33" width="85" height="1.4" fill="url(#q10)" transform="translate(5.9)"/><rect x="85.8" y="298.67" width="85" height="1.4" fill="url(#q14)" transform="translate(6.2)"/><rect x="88.9" y="300.00" width="85" height="1.4" fill="url(#q14)" transform="translate(3.1)"/><rect x="85.5" y="301.33" width="85" height="1.4" fill="url(#q13)" transform="translate(6.5)"/><rect x="91.9" y="302.67" width="85" height="1.4" fill="url(#q13)" transform="translate(0.1)"/><rect x="85.6" y="304.00" width="85" height="1.4" fill="url(#q14)" transform="translate(6.4)"/><rect x="81.5" y="305.33" width="85" height="1.4" fill="url(#q14)" transform="translate(10.5)"/><rect x="83.1" y="306.67" width="85" height="1.4" fill="url(#q14)" transform="translate(8.9)"/><rect x="85.2" y="308.00" width="85" height="1.4" fill="url(#q14)" transform="translate(6.8)"/><rect x="90.3" y="309.33" width="85" height="1.4" fill="url(#q9)" transform="translate(1.7)"/><rect x="89.9" y="310.67" width="85" height="1.4" fill="url(#q10)" transform="translate(2.1)"/><rect x="91.2" y="312.00" width="85" height="1.4" fill="url(#q10)" transform="translate(0.8)"/><rect x="87.7" y="313.33" width="85" height="1.4" fill="url(#q10)" transform="translate(4.3)"/><rect x="85.6" y="314.67" width="85" height="1.4" fill="url(#q10)" transform="translate(6.4)"/><rect x="90.8" y="316.00" width="85" height="1.4" fill="url(#q10)" transform="translate(1.2)"/><rect x="85.5" y="317.33" width="85" height="1.4" fill="url(#q11)" transform="translate(6.5)"/><rect x="90.0" y="318.67" width="85" height="1.4" fill="url(#q11)" transform="translate(2.0)"/><rect x="86.8" y="320.00" width="85" height="1.4" fill="url(#q12)" transform="translate(5.2)"/><rect x="86.9" y="321.33" width="85" height="1.4" fill="url(#q13)" transform="translate(5.1)"/><rect x="84.4" y="322.67" width="85" height="1.4" fill="url(#q13)" transform="translate(7.6)"/><rect x="90.7" y="324.00" width="85" height="1.4" fill="url(#q13)" transform="translate(1.3)"/><rect x="91.4" y="325.33" width="85" height="1.4" fill="url(#q13)" transform="translate(0.6)"/><rect x="86.3" y="326.67" width="85" height="1.4" fill="url(#q14)" transform="translate(5.7)"/><rect x="81.0" y="328.00" width="85" height="1.4" fill="url(#q14)" transform="translate(11.0)"/><rect x="83.0" y="329.33" width="85" height="1.4" fill="url(#q15)" transform="translate(9.0)"/><rect x="81.2" y="330.67" width="85" height="1.4" fill="url(#q15)" transform="translate(10.8)"/><rect x="90.0" y="332.00" width="85" height="1.4" fill="url(#q15)" transform="translate(2.0)"/><rect x="90.5" y="333.33" width="85" height="1.4" fill="url(#q15)" transform="translate(1.5)"/><rect x="82.2" y="334.67" width="85" height="1.4" fill="url(#q15)" transform="translate(9.8)"/><rect x="89.2" y="336.00" width="85" height="1.4" fill="url(#q15)" transform="translate(2.8)"/><rect x="83.6" y="337.33" width="85" height="1.4" fill="url(#q15)" transform="translate(8.4)"/><rect x="81.9" y="338.67" width="85" height="1.4" fill="url(#q16)" transform="translate(10.1)"/><rect x="87.4" y="340.00" width="85" height="1.4" fill="url(#q15)" transform="translate(4.6)"/><rect x="84.4" y="341.33" width="85" height="1.4" fill="url(#q15)" transform="translate(7.6)"/><rect x="82.6" y="342.67" width="85" height="1.4" fill="url(#q15)" transform="translate(9.4)"/><rect x="83.4" y="344.00" width="85" height="1.4" fill="url(#q15)" transform="translate(8.6)"/><rect x="88.9" y="345.33" width="85" height="1.4" fill="url(#q15)" transform="translate(3.1)"/><rect x="80.9" y="346.67" width="85" height="1.4" fill="url(#q14)" transform="translate(11.1)"/><rect x="81.3" y="348.00" width="85" height="1.4" fill="url(#q14)" transform="translate(10.7)"/><rect x="91.0" y="349.33" width="85" height="1.4" fill="url(#q13)" transform="translate(1.0)"/><rect x="85.8" y="350.67" width="85" height="1.4" fill="url(#q12)" transform="translate(6.2)"/><rect x="91.5" y="352.00" width="85" height="1.4" fill="url(#q15)" transform="translate(0.5)"/><rect x="92.0" y="353.33" width="85" height="1.4" fill="url(#q14)" transform="translate(0.0)"/><rect x="81.3" y="354.67" width="85" height="1.4" fill="url(#q14)" transform="translate(10.7)"/><rect x="90.7" y="356.00" width="85" height="1.4" fill="url(#q13)" transform="translate(1.3)"/><rect x="87.5" y="357.33" width="85" height="1.4" fill="url(#q13)" transform="translate(4.5)"/><rect x="91.8" y="358.67" width="85" height="1.4" fill="url(#q13)" transform="translate(0.2)"/><rect x="90.9" y="360.00" width="85" height="1.4" fill="url(#q13)" transform="translate(1.1)"/><rect x="88.5" y="361.33" width="85" height="1.4" fill="url(#q13)" transform="translate(3.5)"/><rect x="90.8" y="362.67" width="85" height="1.4" fill="url(#q9)" transform="translate(1.2)"/><rect x="86.6" y="364.00" width="85" height="1.4" fill="url(#q9)" transform="translate(5.4)"/><rect x="90.7" y="365.33" width="85" height="1.4" fill="url(#q9)" transform="translate(1.3)"/><rect x="87.8" y="366.67" width="85" height="1.4" fill="url(#q9)" transform="translate(4.2)"/><rect x="91.9" y="368.00" width="85" height="1.4" fill="url(#q9)" transform="translate(0.1)"/><rect x="87.6" y="369.33" width="85" height="1.4" fill="url(#q8)" transform="translate(4.4)"/><rect x="90.0" y="370.67" width="85" height="1.4" fill="url(#q8)" transform="translate(2.0)"/><rect x="87.9" y="372.00" width="85" height="1.4" fill="url(#q8)" transform="translate(4.1)"/><rect x="89.0" y="373.33" width="85" height="1.4" fill="url(#q7)" transform="translate(3.0)"/><rect x="89.4" y="374.67" width="85" height="1.4" fill="url(#q5)" transform="translate(2.6)"/><rect x="90.3" y="376.00" width="85" height="1.4" fill="url(#q5)" transform="translate(1.7)"/><rect x="91.4" y="377.33" width="85" height="1.4" fill="url(#q6)" transform="translate(0.6)"/><rect x="91.8" y="378.67" width="85" height="1.4" fill="url(#q6)" transform="translate(0.2)"/><rect x="91.7" y="380.00" width="85" height="1.4" fill="url(#q6)" transform="translate(0.3)"/><rect x="90.8" y="381.33" width="85" height="1.4" fill="url(#q6)" transform="translate(1.2)"/><rect x="89.7" y="382.67" width="85" height="1.4" fill="url(#q6)" transform="translate(2.3)"/><rect x="90.6" y="384.00" width="85" height="1.4" fill="url(#q4)" transform="translate(1.4)"/><rect x="89.4" y="385.33" width="85" height="1.4" fill="url(#q3)" transform="translate(2.6)"/><rect x="91.7" y="386.67" width="85" height="1.4" fill="url(#q3)" transform="translate(0.3)"/><rect x="89.6" y="388.00" width="85" height="1.4" fill="url(#q3)" transform="translate(2.4)"/><rect x="90.2" y="389.33" width="85" height="1.4" fill="url(#q3)" transform="translate(1.8)"/><rect x="88.4" y="390.67" width="85" height="1.4" fill="url(#q6)" transform="translate(3.6)"/><rect x="88.7" y="392.00" width="85" height="1.4" fill="url(#q8)" transform="translate(3.3)"/><rect x="89.7" y="393.33" width="85" height="1.4" fill="url(#q11)" transform="translate(2.3)"/><rect x="86.0" y="394.67" width="85" height="1.4" fill="url(#q11)" transform="translate(6.0)"/><rect x="85.1" y="396.00" width="85" height="1.4" fill="url(#q12)" transform="translate(6.9)"/><rect x="90.0" y="397.33" width="85" height="1.4" fill="url(#q12)" transform="translate(2.0)"/><rect x="85.2" y="398.67" width="85" height="1.4" fill="url(#q12)" transform="translate(6.8)"/><rect x="86.3" y="400.00" width="85" height="1.4" fill="url(#q12)" transform="translate(5.7)"/><rect x="86.0" y="401.33" width="85" height="1.4" fill="url(#q12)" transform="translate(6.0)"/><rect x="85.5" y="402.67" width="85" height="1.4" fill="url(#q12)" transform="translate(6.5)"/><rect x="84.0" y="404.00" width="85" height="1.4" fill="url(#q12)" transform="translate(8.0)"/><rect x="89.7" y="405.33" width="85" height="1.4" fill="url(#q13)" transform="translate(2.3)"/><rect x="82.8" y="406.67" width="85" height="1.4" fill="url(#q14)" transform="translate(9.2)"/><rect x="83.5" y="408.00" width="85" height="1.4" fill="url(#q13)" transform="translate(8.5)"/><rect x="89.1" y="409.33" width="85" height="1.4" fill="url(#q15)" transform="translate(2.9)"/><rect x="89.9" y="410.67" width="85" height="1.4" fill="url(#q15)" transform="translate(2.1)"/><rect x="89.8" y="412.00" width="85" height="1.4" fill="url(#q15)" transform="translate(2.2)"/><rect x="83.4" y="413.33" width="85" height="1.4" fill="url(#q14)" transform="translate(8.6)"/><rect x="82.2" y="414.67" width="85" height="1.4" fill="url(#q14)" transform="translate(9.8)"/><rect x="86.3" y="416.00" width="85" height="1.4" fill="url(#q13)" transform="translate(5.7)"/><rect x="91.9" y="417.33" width="85" height="1.4" fill="url(#q13)" transform="translate(0.1)"/><rect x="85.7" y="418.67" width="85" height="1.4" fill="url(#q13)" transform="translate(6.3)"/><rect x="83.7" y="420.00" width="85" height="1.4" fill="url(#q12)" transform="translate(8.3)"/><rect x="88.4" y="421.33" width="85" height="1.4" fill="url(#q11)" transform="translate(3.6)"/><rect x="87.3" y="422.67" width="85" height="1.4" fill="url(#q11)" transform="translate(4.7)"/><rect x="89.8" y="424.00" width="85" height="1.4" fill="url(#q9)" transform="translate(2.2)"/><rect x="88.1" y="425.33" width="85" height="1.4" fill="url(#q9)" transform="translate(3.9)"/><rect x="85.8" y="426.67" width="85" height="1.4" fill="url(#q10)" transform="translate(6.2)"/><rect x="88.8" y="428.00" width="85" height="1.4" fill="url(#q10)" transform="translate(3.2)"/><rect x="91.0" y="429.33" width="85" height="1.4" fill="url(#q10)" transform="translate(1.0)"/><rect x="91.8" y="430.67" width="85" height="1.4" fill="url(#q11)" transform="translate(0.2)"/><rect x="89.2" y="432.00" width="85" height="1.4" fill="url(#q11)" transform="translate(2.8)"/><rect x="89.6" y="433.33" width="85" height="1.4" fill="url(#q12)" transform="translate(2.4)"/><rect x="87.5" y="434.67" width="85" height="1.4" fill="url(#q12)" transform="translate(4.5)"/><rect x="87.6" y="436.00" width="85" height="1.4" fill="url(#q12)" transform="translate(4.4)"/><rect x="83.6" y="437.33" width="85" height="1.4" fill="url(#q13)" transform="translate(8.4)"/><rect x="84.2" y="438.67" width="85" height="1.4" fill="url(#q14)" transform="translate(7.8)"/><rect x="86.0" y="440.00" width="85" height="1.4" fill="url(#q14)" transform="translate(6.0)"/><rect x="85.2" y="441.33" width="85" height="1.4" fill="url(#q15)" transform="translate(6.8)"/><rect x="81.0" y="442.67" width="85" height="1.4" fill="url(#q15)" transform="translate(11.0)"/><rect x="87.1" y="444.00" width="85" height="1.4" fill="url(#q15)" transform="translate(4.9)"/><rect x="91.5" y="445.33" width="85" height="1.4" fill="url(#q15)" transform="translate(0.5)"/><rect x="84.1" y="446.67" width="85" height="1.4" fill="url(#q15)" transform="translate(7.9)"/><rect x="88.3" y="448.00" width="85" height="1.4" fill="url(#q17)" transform="translate(3.7)"/><rect x="82.1" y="449.33" width="85" height="1.4" fill="url(#q18)" transform="translate(9.9)"/><rect x="85.0" y="450.67" width="85" height="1.4" fill="url(#q17)" transform="translate(7.0)"/><rect x="90.8" y="452.00" width="85" height="1.4" fill="url(#q17)" transform="translate(1.2)"/><rect x="88.4" y="453.33" width="85" height="1.4" fill="url(#q16)" transform="translate(3.6)"/><rect x="84.0" y="454.67" width="85" height="1.4" fill="url(#q15)" transform="translate(8.0)"/><rect x="90.3" y="456.00" width="85" height="1.4" fill="url(#q14)" transform="translate(1.7)"/><rect x="82.7" y="457.33" width="85" height="1.4" fill="url(#q14)" transform="translate(9.3)"/><rect x="88.1" y="458.67" width="85" height="1.4" fill="url(#q8)" transform="translate(3.9)"/><rect x="89.5" y="460.00" width="85" height="1.4" fill="url(#q8)" transform="translate(2.5)"/><rect x="87.1" y="461.33" width="85" height="1.4" fill="url(#q8)" transform="translate(4.9)"/><rect x="89.3" y="462.67" width="85" height="1.4" fill="url(#q8)" transform="translate(2.7)"/><rect x="90.7" y="464.00" width="85" height="1.4" fill="url(#q8)" transform="translate(1.3)"/><rect x="91.2" y="465.33" width="85" height="1.4" fill="url(#q8)" transform="translate(0.8)"/><rect x="89.9" y="466.67" width="85" height="1.4" fill="url(#q8)" transform="translate(2.1)"/><rect x="89.2" y="468.00" width="85" height="1.4" fill="url(#q8)" transform="translate(2.8)"/><rect x="87.3" y="469.33" width="85" height="1.4" fill="url(#q14)" transform="translate(4.7)"/><rect x="83.4" y="470.67" width="85" height="1.4" fill="url(#q14)" transform="translate(8.6)"/><rect x="84.4" y="472.00" width="85" height="1.4" fill="url(#q14)" transform="translate(7.6)"/><rect x="84.4" y="473.33" width="85" height="1.4" fill="url(#q14)" transform="translate(7.6)"/><rect x="87.2" y="474.67" width="85" height="1.4" fill="url(#q14)" transform="translate(4.8)"/><rect x="82.5" y="476.00" width="85" height="1.4" fill="url(#q14)" transform="translate(9.5)"/><rect x="81.7" y="477.33" width="85" height="1.4" fill="url(#q14)" transform="translate(10.3)"/><rect x="81.9" y="478.67" width="85" height="1.4" fill="url(#q14)" transform="translate(10.1)"/><rect x="87.4" y="480.00" width="85" height="1.4" fill="url(#q9)" transform="translate(4.6)"/><rect x="87.4" y="481.33" width="85" height="1.4" fill="url(#q9)" transform="translate(4.6)"/><rect x="88.6" y="482.67" width="85" height="1.4" fill="url(#q9)" transform="translate(3.4)"/><rect x="90.3" y="484.00" width="85" height="1.4" fill="url(#q9)" transform="translate(1.7)"/><rect x="86.7" y="485.33" width="85" height="1.4" fill="url(#q9)" transform="translate(5.3)"/><rect x="89.1" y="486.67" width="85" height="1.4" fill="url(#q10)" transform="translate(2.9)"/><rect x="87.4" y="488.00" width="85" height="1.4" fill="url(#q9)" transform="translate(4.6)"/><rect x="91.0" y="489.33" width="85" height="1.4" fill="url(#q9)" transform="translate(1.0)"/><rect x="89.6" y="490.67" width="85" height="1.4" fill="url(#q13)" transform="translate(2.4)"/><rect x="85.5" y="492.00" width="85" height="1.4" fill="url(#q13)" transform="translate(6.5)"/><rect x="82.0" y="493.33" width="85" height="1.4" fill="url(#q14)" transform="translate(10.0)"/><rect x="82.2" y="494.67" width="85" height="1.4" fill="url(#q14)" transform="translate(9.8)"/><rect x="85.7" y="496.00" width="85" height="1.4" fill="url(#q14)" transform="translate(6.3)"/><rect x="89.2" y="497.33" width="85" height="1.4" fill="url(#q14)" transform="translate(2.8)"/><rect x="84.4" y="498.67" width="85" height="1.4" fill="url(#q14)" transform="translate(7.6)"/><rect x="90.7" y="500.00" width="85" height="1.4" fill="url(#q14)" transform="translate(1.3)"/><rect x="90.4" y="501.33" width="85" height="1.4" fill="url(#q15)" transform="translate(1.6)"/><rect x="79.5" y="502.67" width="85" height="1.4" fill="url(#q15)" transform="translate(12.5)"/><rect x="87.5" y="504.00" width="85" height="1.4" fill="url(#q15)" transform="translate(4.5)"/><rect x="79.5" y="505.33" width="85" height="1.4" fill="url(#q15)" transform="translate(12.5)"/><rect x="90.2" y="506.67" width="85" height="1.4" fill="url(#q15)" transform="translate(1.8)"/><rect x="86.2" y="508.00" width="85" height="1.4" fill="url(#q15)" transform="translate(5.8)"/><rect x="82.4" y="509.33" width="85" height="1.4" fill="url(#q15)" transform="translate(9.6)"/><rect x="91.0" y="510.67" width="85" height="1.4" fill="url(#q15)" transform="translate(1.0)"/><rect x="75.9" y="512.00" width="85" height="1.4" fill="url(#q17)" transform="translate(16.1)"/><rect x="83.7" y="513.33" width="85" height="1.4" fill="url(#q16)" transform="translate(8.3)"/><rect x="83.5" y="514.67" width="85" height="1.4" fill="url(#q17)" transform="translate(8.5)"/><rect x="85.4" y="516.00" width="85" height="1.4" fill="url(#q17)" transform="translate(6.6)"/><rect x="85.4" y="517.33" width="85" height="1.4" fill="url(#q17)" transform="translate(6.6)"/><rect x="80.1" y="518.67" width="85" height="1.4" fill="url(#q17)" transform="translate(11.9)"/><rect x="86.6" y="520.00" width="85" height="1.4" fill="url(#q17)" transform="translate(5.4)"/><rect x="81.1" y="521.33" width="85" height="1.4" fill="url(#q17)" transform="translate(10.9)"/><rect x="91.2" y="522.67" width="85" height="1.4" fill="url(#q15)" transform="translate(0.8)"/><rect x="80.7" y="524.00" width="85" height="1.4" fill="url(#q15)" transform="translate(11.3)"/><rect x="80.9" y="525.33" width="85" height="1.4" fill="url(#q15)" transform="translate(11.1)"/><rect x="85.6" y="526.67" width="85" height="1.4" fill="url(#q15)" transform="translate(6.4)"/><rect x="81.7" y="528.00" width="85" height="1.4" fill="url(#q16)" transform="translate(10.3)"/><rect x="84.9" y="529.33" width="85" height="1.4" fill="url(#q15)" transform="translate(7.1)"/><rect x="86.4" y="530.67" width="85" height="1.4" fill="url(#q15)" transform="translate(5.6)"/><rect x="84.0" y="532.00" width="85" height="1.4" fill="url(#q15)" transform="translate(8.0)"/><rect x="91.7" y="533.33" width="85" height="1.4" fill="url(#q17)" transform="translate(0.3)"/><rect x="78.5" y="534.67" width="85" height="1.4" fill="url(#q17)" transform="translate(13.5)"/><rect x="80.2" y="536.00" width="85" height="1.4" fill="url(#q17)" transform="translate(11.8)"/><rect x="76.1" y="537.33" width="85" height="1.4" fill="url(#q17)" transform="translate(15.9)"/><rect x="84.7" y="538.67" width="85" height="1.4" fill="url(#q17)" transform="translate(7.3)"/><rect x="80.8" y="540.00" width="85" height="1.4" fill="url(#q17)" transform="translate(11.2)"/><rect x="84.9" y="541.33" width="85" height="1.4" fill="url(#q17)" transform="translate(7.1)"/><rect x="85.6" y="542.67" width="85" height="1.4" fill="url(#q17)" transform="translate(6.4)"/><rect x="86.9" y="544.00" width="85" height="1.4" fill="url(#q11)" transform="translate(5.1)"/><rect x="86.5" y="545.33" width="85" height="1.4" fill="url(#q10)" transform="translate(5.5)"/><rect x="85.1" y="546.67" width="85" height="1.4" fill="url(#q11)" transform="translate(6.9)"/><rect x="86.9" y="548.00" width="85" height="1.4" fill="url(#q11)" transform="translate(5.1)"/><rect x="89.2" y="549.33" width="85" height="1.4" fill="url(#q11)" transform="translate(2.8)"/><rect x="91.6" y="550.67" width="85" height="1.4" fill="url(#q7)" transform="translate(0.4)"/><rect x="89.0" y="552.00" width="85" height="1.4" fill="url(#q4)" transform="translate(3.0)"/><rect x="89.9" y="553.33" width="85" height="1.4" fill="url(#q1)" transform="translate(2.1)"/><rect x="91.6" y="554.67" width="85" height="1.4" fill="url(#q0)" transform="translate(0.4)"/><rect x="90.6" y="556.00" width="85" height="1.4" fill="url(#q0)" transform="translate(1.4)"/><rect x="90.6" y="557.33" width="85" height="1.4" fill="url(#q0)" transform="translate(1.4)"/><rect x="90.4" y="558.67" width="85" height="1.4" fill="url(#q0)" transform="translate(1.6)"/><rect x="90.1" y="560.00" width="85" height="1.4" fill="url(#q0)" transform="translate(1.9)"/><rect x="90.5" y="561.33" width="85" height="1.4" fill="url(#q0)" transform="translate(1.5)"/><rect x="90.4" y="562.67" width="85" height="1.4" fill="url(#q0)" transform="translate(1.6)"/><rect x="90.0" y="564.00" width="85" height="1.4" fill="url(#q0)" transform="translate(2.0)"/><rect x="90.2" y="565.33" width="85" height="1.4" fill="url(#q0)" transform="translate(1.8)"/><rect x="90.2" y="566.67" width="85" height="1.4" fill="url(#q0)" transform="translate(1.8)"/><rect x="90.6" y="568.00" width="85" height="1.4" fill="url(#q0)" transform="translate(1.4)"/><rect x="90.6" y="569.33" width="85" height="1.4" fill="url(#q2)" transform="translate(1.4)"/><rect x="91.9" y="570.67" width="85" height="1.4" fill="url(#q4)" transform="translate(0.1)"/><rect x="91.8" y="572.00" width="85" height="1.4" fill="url(#q7)" transform="translate(0.2)"/><rect x="87.3" y="573.33" width="85" height="1.4" fill="url(#q8)" transform="translate(4.7)"/><rect x="88.4" y="574.67" width="85" height="1.4" fill="url(#q8)" transform="translate(3.6)"/><rect x="87.9" y="576.00" width="85" height="1.4" fill="url(#q10)" transform="translate(4.1)"/><rect x="89.3" y="577.33" width="85" height="1.4" fill="url(#q11)" transform="translate(2.7)"/><rect x="85.7" y="578.67" width="85" height="1.4" fill="url(#q11)" transform="translate(6.3)"/><rect x="89.6" y="580.00" width="85" height="1.4" fill="url(#q11)" transform="translate(2.4)"/><rect x="90.5" y="581.33" width="85" height="1.4" fill="url(#q11)" transform="translate(1.5)"/><rect x="86.1" y="582.67" width="85" height="1.4" fill="url(#q12)" transform="translate(5.9)"/><rect x="89.7" y="584.00" width="85" height="1.4" fill="url(#q11)" transform="translate(2.3)"/><rect x="91.8" y="585.33" width="85" height="1.4" fill="url(#q10)" transform="translate(0.2)"/><rect x="90.4" y="586.67" width="85" height="1.4" fill="url(#q8)" transform="translate(1.6)"/><rect x="89.8" y="588.00" width="85" height="1.4" fill="url(#q7)" transform="translate(2.2)"/><rect x="87.9" y="625.33" width="85" height="1.4" fill="url(#q10)" transform="translate(4.1)"/><rect x="89.3" y="626.67" width="85" height="1.4" fill="url(#q9)" transform="translate(2.7)"/><rect x="89.4" y="628.00" width="85" height="1.4" fill="url(#q8)" transform="translate(2.6)"/><rect x="90.4" y="629.33" width="85" height="1.4" fill="url(#q3)" transform="translate(1.6)"/><rect x="91.2" y="630.67" width="85" height="1.4" fill="url(#q3)" transform="translate(0.8)"/><rect x="91.9" y="632.00" width="85" height="1.4" fill="url(#q3)" transform="translate(0.1)"/><rect x="89.9" y="633.33" width="85" height="1.4" fill="url(#q3)" transform="translate(2.1)"/><rect x="89.6" y="634.67" width="85" height="1.4" fill="url(#q3)" transform="translate(2.4)"/><rect x="90.3" y="636.00" width="85" height="1.4" fill="url(#q3)" transform="translate(1.7)"/><rect x="90.2" y="637.33" width="85" height="1.4" fill="url(#q3)" transform="translate(1.8)"/><rect x="90.2" y="638.67" width="85" height="1.4" fill="url(#q3)" transform="translate(1.8)"/></g><rect x="-2.1" y="589.33" width="177" height="1.4" fill="url(#q7)" transform="translate(2.1)"/><rect x="-1.7" y="590.67" width="177" height="1.4" fill="url(#q7)" transform="translate(1.7)"/><rect x="-1.8" y="592.00" width="177" height="1.4" fill="url(#q7)" transform="translate(1.8)"/><rect x="-1.4" y="593.33" width="177" height="1.4" fill="url(#q7)" transform="translate(1.4)"/><rect x="-1.6" y="594.67" width="177" height="1.4" fill="url(#q7)" transform="translate(1.6)"/><rect x="-1.7" y="596.00" width="177" height="1.4" fill="url(#q6)" transform="translate(1.7)"/><rect x="-0.6" y="597.33" width="177" height="1.4" fill="url(#q12)" transform="translate(0.6)"/><rect x="-2.6" y="598.67" width="177" height="1.4" fill="url(#q11)" transform="translate(2.6)"/><rect x="-5.5" y="600.00" width="177" height="1.4" fill="url(#q12)" transform="translate(5.5)"/><rect x="-7.1" y="601.33" width="177" height="1.4" fill="url(#q12)" transform="translate(7.1)"/><rect x="-7.6" y="602.67" width="177" height="1.4" fill="url(#q12)" transform="translate(7.6)"/><rect x="-0.4" y="604.00" width="177" height="1.4" fill="url(#q12)" transform="translate(0.4)"/><rect x="-1.1" y="605.33" width="177" height="1.4" fill="url(#q12)" transform="translate(1.1)"/><rect x="-1.5" y="606.67" width="177" height="1.4" fill="url(#q12)" transform="translate(1.5)"/><rect x="-1.4" y="608.00" width="177" height="1.4" fill="url(#q10)" transform="translate(1.4)"/><rect x="-1.9" y="609.33" width="177" height="1.4" fill="url(#q9)" transform="translate(1.9)"/><rect x="-4.1" y="610.67" width="177" height="1.4" fill="url(#q9)" transform="translate(4.1)"/><rect x="-4.2" y="612.00" width="177" height="1.4" fill="url(#q10)" transform="translate(4.2)"/><rect x="-2.1" y="613.33" width="177" height="1.4" fill="url(#q9)" transform="translate(2.1)"/><rect x="-3.4" y="614.67" width="177" height="1.4" fill="url(#q10)" transform="translate(3.4)"/><rect x="-0.9" y="616.00" width="177" height="1.4" fill="url(#q10)" transform="translate(0.9)"/><rect x="-5.6" y="617.33" width="177" height="1.4" fill="url(#q10)" transform="translate(5.6)"/><rect x="-5.3" y="618.67" width="177" height="1.4" fill="url(#q11)" transform="translate(5.3)"/><rect x="-6.3" y="620.00" width="177" height="1.4" fill="url(#q12)" transform="translate(6.3)"/><rect x="-7.7" y="621.33" width="177" height="1.4" fill="url(#q12)" transform="translate(7.7)"/><rect x="-0.4" y="622.67" width="177" height="1.4" fill="url(#q12)" transform="translate(0.4)"/><rect x="-1.0" y="624.00" width="177" height="1.4" fill="url(#q11)" transform="translate(1.0)"/><rect x="0" y="589" width="78" height="36" filter="url(#sq1)"/><rect x="170" y="0" width="7" height="66" filter="url(#nz1)"/><rect x="0" y="100" width="112" height="2.6" fill="url(#g1_0)"/><rect x="0" y="100" width="112" height="2.6" filter="url(#sp1)"/><rect x="0" y="103.7" width="114" height="2.5" fill="url(#g1_1)"/><rect x="0" y="103.7" width="114" height="2.5" filter="url(#sp1)"/><rect x="0" y="174.9" width="114" height="5.4" fill="url(#g1_2)"/><rect x="0" y="174.9" width="114" height="5.4" filter="url(#sp1)"/><rect x="0" y="182" width="112" height="5.4" fill="url(#g1_3)"/><rect x="0" y="182" width="112" height="5.4" filter="url(#sp1)"/><rect x="0" y="189.7" width="116" height="4.3" fill="url(#g1_4)"/><rect x="0" y="189.7" width="116" height="4.3" filter="url(#sq1)"/><rect x="0" y="373.7" width="112" height="8" fill="url(#g1_5)"/><rect x="0" y="373.7" width="112" height="8" filter="url(#sq1)"/><rect x="0" y="383.9" width="110" height="5.7" fill="url(#g1_6)"/><rect x="0" y="383.9" width="110" height="5.7" filter="url(#sq1)"/><rect x="0" y="568.1" width="30" height="2" fill="url(#g1_7)"/><rect x="0" y="568.1" width="30" height="2" filter="url(#sq1)"/><rect x="95" y="228.2" width="83" height="12.8" fill="url(#b1_0)"/><rect x="0" y="4" width="177" height="1" fill="#fff"/><rect x="0" y="65" width="177" height="5" fill="#fff"/><rect x="0" y="81.9" width="177" height="0.9" fill="#fff"/><rect x="0" y="91.2" width="177" height="8.8" fill="#fff"/><rect x="0" y="140.9" width="177" height="0.9" fill="#fff"/><rect x="0" y="152.8" width="177" height="8.2" fill="#fff"/><rect x="0" y="162" width="177" height="4" fill="#fff"/><rect x="0" y="170.7" width="177" height="4.2" fill="#fff"/><rect x="0" y="180.3" width="177" height="0.7" fill="#fff"/><rect x="0" y="188.5" width="177" height="1.2" fill="#fff"/><rect x="0" y="193.8" width="177" height="1.2" fill="#fff"/><rect x="0" y="208.8" width="177" height="0.9" fill="#fff"/><rect x="0" y="229.8" width="177" height="1" fill="#fff"/><rect x="0" y="241.9" width="177" height="3.8" fill="#fff"/><rect x="0" y="250" width="177" height="0.9" fill="#fff"/><rect x="0" y="261.9" width="177" height="1.1" fill="#fff"/><rect x="0" y="265.1" width="177" height="0.8" fill="#fff"/><rect x="0" y="284.1" width="177" height="1" fill="#fff"/><rect x="0" y="303.5" width="177" height="0.9" fill="#fff"/><rect x="0" y="306" width="177" height="0.9" fill="#fff"/><rect x="0" y="324.9" width="177" height="1" fill="#fff"/><rect x="0" y="381.6" width="177" height="2.4" fill="#fff"/><rect x="0" y="409" width="177" height="1.9" fill="#fff"/><rect x="0" y="423" width="177" height="1.1" fill="#fff"/><rect x="0" y="464" width="177" height="1" fill="#fff"/><rect x="0" y="476.9" width="177" height="0.9" fill="#fff"/><rect x="0" y="488.9" width="177" height="1.1" fill="#fff"/><rect x="0" y="510.4" width="177" height="1" fill="#fff"/><rect x="0" y="517.8" width="177" height="1.1" fill="#fff"/><rect x="0" y="523" width="177" height="0.8" fill="#fff"/><rect x="0" y="542" width="177" height="1.1" fill="#fff"/><rect x="0" y="545.1" width="177" height="0.8" fill="#fff"/><rect x="0" y="547" width="177" height="0.8" fill="#fff"/><rect x="0" y="552" width="177" height="6" fill="#fff"/><rect x="0" y="559" width="177" height="1" fill="#fff"/><rect x="0" y="563.1" width="177" height="1.1" fill="#fff"/><rect x="0" y="567" width="177" height="1.1" fill="#fff"/><rect x="0" y="584" width="177" height="1" fill="#fff"/><rect x="0" y="600.2" width="177" height="0.9" fill="#fff"/><rect x="0" y="624.8" width="177" height="2.5" fill="#fff"/><rect x="0" y="636.9" width="177" height="3.1" fill="#fff"/><rect x="0" y="22" width="177" height="1" fill="#000"/><rect x="0" y="90.2" width="177" height="1" fill="#000"/><rect x="0" y="102.6" width="177" height="1.1" fill="#000"/><rect x="0" y="118" width="177" height="1" fill="#000"/><rect x="0" y="120.9" width="177" height="0.9" fill="#000"/><rect x="0" y="123.9" width="177" height="0.9" fill="#000"/><rect x="0" y="139.8" width="177" height="0.9" fill="#000"/><rect x="0" y="161" width="177" height="1" fill="#000"/><rect x="0" y="169.5" width="177" height="1.2" fill="#000"/><rect x="0" y="181" width="177" height="1" fill="#000"/><rect x="0" y="187.4" width="177" height="1" fill="#000"/><rect x="0" y="195.9" width="177" height="1.9" fill="#000"/><rect x="0" y="223.9" width="177" height="0.9" fill="#000"/><rect x="0" y="241" width="177" height="0.9" fill="#000"/><rect x="0" y="248.2" width="177" height="1.8" fill="#000"/><rect x="0" y="252.2" width="177" height="9.7" fill="#000"/><rect x="0" y="263" width="177" height="1.1" fill="#000"/><rect x="0" y="289.8" width="177" height="0.9" fill="#000"/><rect x="0" y="301.8" width="177" height="1" fill="#000"/><rect x="0" y="317" width="177" height="0.9" fill="#000"/><rect x="0" y="322" width="177" height="0.9" fill="#000"/><rect x="0" y="342" width="177" height="0.9" fill="#000"/><rect x="0" y="353.7" width="177" height="0.9" fill="#000"/><rect x="0" y="372.8" width="177" height="0.9" fill="#000"/><rect x="0" y="452.9" width="177" height="0.9" fill="#000"/><rect x="0" y="492" width="177" height="1" fill="#000"/><rect x="0" y="494" width="177" height="0.9" fill="#000"/><rect x="0" y="497" width="177" height="1" fill="#000"/><rect x="0" y="504" width="177" height="0.9" fill="#000"/><rect x="0" y="513" width="177" height="1" fill="#000"/><rect x="0" y="517" width="177" height="0.8" fill="#000"/><rect x="0" y="527" width="177" height="1" fill="#000"/><rect x="0" y="531.3" width="177" height="1" fill="#000"/><rect x="0" y="537.8" width="177" height="1" fill="#000"/><rect x="0" y="551" width="177" height="1" fill="#000"/><rect x="0" y="570.1" width="177" height="1.6" fill="#000"/><rect x="0" y="588.2" width="177" height="0.9" fill="#000"/><rect x="0" y="605.9" width="177" height="0.9" fill="#000"/><rect x="0" y="627.7" width="177" height="1" fill="#000"/><line x1="0" x2="177" y1="168.7" y2="168.7" stroke="#000" stroke-width="1.4" stroke-dasharray="1.5 1.5"/></svg>
<div class="ax" style="left:344px;top:80px;width:177px;height:641px;"></div>
<div class="t yl" style="left:299px;width:40px;text-align:right;top:713.7px;font-size:12.6px;letter-spacing:0.5px;">0</div>
<div class="tk" style="left:345px;top:587px;width:4px;height:1px;"></div>
<div class="tk" style="left:516px;top:587px;width:4px;height:1px;"></div>
<div class="t yl" style="left:299px;width:40px;text-align:right;top:580.4px;font-size:12.6px;letter-spacing:0.5px;">5</div>
<div class="tk" style="left:345px;top:453px;width:4px;height:1px;"></div>
<div class="tk" style="left:516px;top:453px;width:4px;height:1px;"></div>
<div class="t yl" style="left:299px;width:40px;text-align:right;top:447.0px;font-size:12.6px;letter-spacing:0.5px;">10</div>
<div class="tk" style="left:345px;top:320px;width:4px;height:1px;"></div>
<div class="tk" style="left:516px;top:320px;width:4px;height:1px;"></div>
<div class="t yl" style="left:299px;width:40px;text-align:right;top:313.7px;font-size:12.6px;letter-spacing:0.5px;">15</div>
<div class="tk" style="left:345px;top:187px;width:4px;height:1px;"></div>
<div class="tk" style="left:516px;top:187px;width:4px;height:1px;"></div>
<div class="t yl" style="left:299px;width:40px;text-align:right;top:180.4px;font-size:12.6px;letter-spacing:0.5px;">20</div>
<div class="t xl" style="left:325.4px;width:40px;text-align:center;top:725.5px;font-size:12.6px;letter-spacing:0.5px;">320</div>
<div class="tk" style="left:386px;top:81px;width:1px;height:4px;"></div>
<div class="tk" style="left:386px;top:716px;width:1px;height:4px;"></div>
<div class="t xl" style="left:366.6px;width:40px;text-align:center;top:725.5px;font-size:12.6px;letter-spacing:0.5px;">335</div>
<div class="tk" style="left:427px;top:81px;width:1px;height:4px;"></div>
<div class="tk" style="left:427px;top:716px;width:1px;height:4px;"></div>
<div class="t xl" style="left:407.9px;width:40px;text-align:center;top:725.5px;font-size:12.6px;letter-spacing:0.5px;">350</div>
<div class="tk" style="left:468px;top:81px;width:1px;height:4px;"></div>
<div class="tk" style="left:468px;top:716px;width:1px;height:4px;"></div>
<div class="t xl" style="left:449.1px;width:40px;text-align:center;top:725.5px;font-size:12.6px;letter-spacing:0.5px;">365</div>
<div class="tk" style="left:509px;top:81px;width:1px;height:4px;"></div>
<div class="tk" style="left:509px;top:716px;width:1px;height:4px;"></div>
<div class="t xl" style="left:490.4px;width:40px;text-align:center;top:725.5px;font-size:12.6px;letter-spacing:0.5px;">380</div>
<div class="t ttl" style="left:495.0px;width:300px;text-align:center;top:59.6px;font-size:16px;letter-spacing:0.39px;">XY, V1*V16=EA02*EA06</div>
<svg class="pan" style="left:556px;top:80px" width="178" height="641" viewBox="0 0 178 641" shape-rendering="crispEdges"><defs><linearGradient id="mg2" gradientUnits="userSpaceOnUse" x1="86" y1="0" x2="108" y2="0"><stop offset="0" stop-color="#000"/><stop offset="1" stop-color="#fff"/></linearGradient><mask id="mk2" maskUnits="userSpaceOnUse" x="0" y="0" width="178" height="641"><rect x="0" y="0" width="178" height="641" fill="url(#mg2)"/></mask><linearGradient id="b2_0" gradientUnits="userSpaceOnUse" x1="91.24" y1="234.6" x2="138.24" y2="234.6" spreadMethod="repeat" gradientTransform="translate(0 234.6) skewX(-65.6) translate(0 -234.6)"><stop offset="0.000" stop-color="#000080"/><stop offset="0.062" stop-color="#0000c8"/><stop offset="0.125" stop-color="#0000ff"/><stop offset="0.188" stop-color="#0040ff"/><stop offset="0.250" stop-color="#0080ff"/><stop offset="0.312" stop-color="#00bfff"/><stop offset="0.375" stop-color="#15ffe2"/><stop offset="0.438" stop-color="#48ffaf"/><stop offset="0.500" stop-color="#7bff7b"/><stop offset="0.562" stop-color="#afff48"/><stop offset="0.625" stop-color="#e2ff15"/><stop offset="0.688" stop-color="#ffd200"/><stop offset="0.750" stop-color="#ff9700"/><stop offset="0.812" stop-color="#ff5c00"/><stop offset="0.875" stop-color="#ff2100"/><stop offset="0.938" stop-color="#c80000"/><stop offset="1.000" stop-color="#800000"/></linearGradient></defs><rect width="178" height="641" filter="url(#nz2)"/><g mask="url(#mk2)"><rect x="82.9" y="0.00" width="94" height="1.4" fill="url(#q3)" transform="translate(1.1)"/><rect x="82.3" y="1.33" width="94" height="1.4" fill="url(#q4)" transform="translate(1.7)"/><rect x="83.7" y="2.67" width="94" height="1.4" fill="url(#q4)" transform="translate(0.3)"/><rect x="82.7" y="4.00" width="94" height="1.4" fill="url(#q4)" transform="translate(1.3)"/><rect x="81.3" y="5.33" width="94" height="1.4" fill="url(#q4)" transform="translate(2.7)"/><rect x="82.6" y="6.67" width="94" height="1.4" fill="url(#q4)" transform="translate(1.4)"/><rect x="81.6" y="8.00" width="94" height="1.4" fill="url(#q4)" transform="translate(2.4)"/><rect x="83.8" y="9.33" width="94" height="1.4" fill="url(#q4)" transform="translate(0.2)"/><rect x="82.7" y="10.67" width="94" height="1.4" fill="url(#q4)" transform="translate(1.3)"/><rect x="81.4" y="12.00" width="94" height="1.4" fill="url(#q3)" transform="translate(2.6)"/><rect x="81.9" y="13.33" width="94" height="1.4" fill="url(#q4)" transform="translate(2.1)"/><rect x="81.5" y="14.67" width="94" height="1.4" fill="url(#q4)" transform="translate(2.5)"/><rect x="83.6" y="16.00" width="94" height="1.4" fill="url(#q3)" transform="translate(0.4)"/><rect x="82.7" y="17.33" width="94" height="1.4" fill="url(#q3)" transform="translate(1.3)"/><rect x="81.9" y="18.67" width="94" height="1.4" fill="url(#q3)" transform="translate(2.1)"/><rect x="83.8" y="20.00" width="94" height="1.4" fill="url(#q3)" transform="translate(0.2)"/><rect x="83.0" y="21.33" width="94" height="1.4" fill="url(#q3)" transform="translate(1.0)"/><rect x="82.7" y="22.67" width="94" height="1.4" fill="url(#q3)" transform="translate(1.3)"/><rect x="83.1" y="24.00" width="94" height="1.4" fill="url(#q3)" transform="translate(0.9)"/><rect x="83.1" y="25.33" width="94" height="1.4" fill="url(#q3)" transform="translate(0.9)"/><rect x="83.1" y="26.67" width="94" height="1.4" fill="url(#q3)" transform="translate(0.9)"/><rect x="81.2" y="28.00" width="94" height="1.4" fill="url(#q4)" transform="translate(2.8)"/><rect x="83.7" y="29.33" width="94" height="1.4" fill="url(#q3)" transform="translate(0.3)"/><rect x="83.7" y="30.67" width="94" height="1.4" fill="url(#q3)" transform="translate(0.3)"/><rect x="83.6" y="32.00" width="94" height="1.4" fill="url(#q3)" transform="translate(0.4)"/><rect x="81.2" y="33.33" width="94" height="1.4" fill="url(#q4)" transform="translate(2.8)"/><rect x="83.7" y="34.67" width="94" height="1.4" fill="url(#q3)" transform="translate(0.3)"/><rect x="83.6" y="36.00" width="94" height="1.4" fill="url(#q3)" transform="translate(0.4)"/><rect x="83.2" y="37.33" width="94" height="1.4" fill="url(#q3)" transform="translate(0.8)"/><rect x="82.7" y="38.67" width="94" height="1.4" fill="url(#q3)" transform="translate(1.3)"/><rect x="82.6" y="40.00" width="94" height="1.4" fill="url(#q4)" transform="translate(1.4)"/><rect x="82.2" y="41.33" width="94" height="1.4" fill="url(#q3)" transform="translate(1.8)"/><rect x="81.8" y="42.67" width="94" height="1.4" fill="url(#q3)" transform="translate(2.2)"/><rect x="81.3" y="44.00" width="94" height="1.4" fill="url(#q3)" transform="translate(2.7)"/><rect x="83.8" y="45.33" width="94" height="1.4" fill="url(#q3)" transform="translate(0.2)"/><rect x="83.8" y="46.67" width="94" height="1.4" fill="url(#q3)" transform="translate(0.2)"/><rect x="81.2" y="48.00" width="94" height="1.4" fill="url(#q3)" transform="translate(2.8)"/><rect x="83.7" y="49.33" width="94" height="1.4" fill="url(#q3)" transform="translate(0.3)"/><rect x="83.9" y="50.67" width="94" height="1.4" fill="url(#q3)" transform="translate(0.1)"/><rect x="83.6" y="52.00" width="94" height="1.4" fill="url(#q3)" transform="translate(0.4)"/><rect x="83.1" y="53.33" width="94" height="1.4" fill="url(#q3)" transform="translate(0.9)"/><rect x="82.9" y="54.67" width="94" height="1.4" fill="url(#q3)" transform="translate(1.1)"/><rect x="82.4" y="56.00" width="94" height="1.4" fill="url(#q3)" transform="translate(1.6)"/><rect x="82.0" y="57.33" width="94" height="1.4" fill="url(#q3)" transform="translate(2.0)"/><rect x="81.7" y="58.67" width="94" height="1.4" fill="url(#q3)" transform="translate(2.3)"/><rect x="81.8" y="60.00" width="94" height="1.4" fill="url(#q3)" transform="translate(2.2)"/><rect x="81.5" y="61.33" width="94" height="1.4" fill="url(#q3)" transform="translate(2.5)"/><rect x="81.4" y="62.67" width="94" height="1.4" fill="url(#q3)" transform="translate(2.6)"/><rect x="83.7" y="64.00" width="94" height="1.4" fill="url(#q3)" transform="translate(0.3)"/><rect x="81.3" y="65.33" width="94" height="1.4" fill="url(#q4)" transform="translate(2.7)"/><rect x="82.8" y="66.67" width="94" height="1.4" fill="url(#q5)" transform="translate(1.2)"/><rect x="82.6" y="68.00" width="94" height="1.4" fill="url(#q8)" transform="translate(1.4)"/><rect x="80.6" y="69.33" width="94" height="1.4" fill="url(#q13)" transform="translate(3.4)"/><rect x="82.1" y="70.67" width="94" height="1.4" fill="url(#q15)" transform="translate(1.9)"/><rect x="75.2" y="72.00" width="94" height="1.4" fill="url(#q14)" transform="translate(8.8)"/><rect x="73.5" y="73.33" width="94" height="1.4" fill="url(#q15)" transform="translate(10.5)"/><rect x="79.6" y="74.67" width="94" height="1.4" fill="url(#q16)" transform="translate(4.4)"/><rect x="67.6" y="76.00" width="94" height="1.4" fill="url(#q17)" transform="translate(16.4)"/><rect x="79.9" y="77.33" width="94" height="1.4" fill="url(#q17)" transform="translate(4.1)"/><rect x="80.5" y="78.67" width="94" height="1.4" fill="url(#q17)" transform="translate(3.5)"/><rect x="83.2" y="80.00" width="94" height="1.4" fill="url(#q17)" transform="translate(0.8)"/><rect x="83.5" y="81.33" width="94" height="1.4" fill="url(#q16)" transform="translate(0.5)"/><rect x="76.6" y="82.67" width="94" height="1.4" fill="url(#q16)" transform="translate(7.4)"/><rect x="74.7" y="84.00" width="94" height="1.4" fill="url(#q15)" transform="translate(9.3)"/><rect x="76.8" y="85.33" width="94" height="1.4" fill="url(#q14)" transform="translate(7.2)"/><rect x="82.7" y="86.67" width="94" height="1.4" fill="url(#q14)" transform="translate(1.3)"/><rect x="74.3" y="88.00" width="94" height="1.4" fill="url(#q13)" transform="translate(9.7)"/><rect x="80.4" y="89.33" width="94" height="1.4" fill="url(#q13)" transform="translate(3.6)"/><rect x="82.9" y="90.67" width="94" height="1.4" fill="url(#q12)" transform="translate(1.1)"/><rect x="82.8" y="92.00" width="94" height="1.4" fill="url(#q12)" transform="translate(1.2)"/><rect x="81.9" y="93.33" width="94" height="1.4" fill="url(#q11)" transform="translate(2.1)"/><rect x="80.2" y="94.67" width="94" height="1.4" fill="url(#q10)" transform="translate(3.8)"/><rect x="77.1" y="96.00" width="94" height="1.4" fill="url(#q12)" transform="translate(6.9)"/><rect x="83.7" y="97.33" width="94" height="1.4" fill="url(#q11)" transform="translate(0.3)"/><rect x="84.0" y="98.67" width="94" height="1.4" fill="url(#q9)" transform="translate(0.0)"/><rect x="80.3" y="100.00" width="94" height="1.4" fill="url(#q8)" transform="translate(3.7)"/><rect x="82.7" y="101.33" width="94" height="1.4" fill="url(#q8)" transform="translate(1.3)"/><rect x="82.9" y="102.67" width="94" height="1.4" fill="url(#q8)" transform="translate(1.1)"/><rect x="84.0" y="104.00" width="94" height="1.4" fill="url(#q8)" transform="translate(0.0)"/><rect x="80.7" y="105.33" width="94" height="1.4" fill="url(#q8)" transform="translate(3.3)"/><rect x="80.4" y="106.67" width="94" height="1.4" fill="url(#q8)" transform="translate(3.6)"/><rect x="80.4" y="108.00" width="94" height="1.4" fill="url(#q8)" transform="translate(3.6)"/><rect x="82.9" y="109.33" width="94" height="1.4" fill="url(#q7)" transform="translate(1.1)"/><rect x="82.3" y="110.67" width="94" height="1.4" fill="url(#q7)" transform="translate(1.7)"/><rect x="82.4" y="112.00" width="94" height="1.4" fill="url(#q7)" transform="translate(1.6)"/><rect x="79.9" y="113.33" width="94" height="1.4" fill="url(#q8)" transform="translate(4.1)"/><rect x="82.3" y="114.67" width="94" height="1.4" fill="url(#q7)" transform="translate(1.7)"/><rect x="82.2" y="116.00" width="94" height="1.4" fill="url(#q7)" transform="translate(1.8)"/><rect x="82.4" y="117.33" width="94" height="1.4" fill="url(#q7)" transform="translate(1.6)"/><rect x="82.8" y="118.67" width="94" height="1.4" fill="url(#q7)" transform="translate(1.2)"/><rect x="81.4" y="120.00" width="94" height="1.4" fill="url(#q6)" transform="translate(2.6)"/><rect x="82.4" y="121.33" width="94" height="1.4" fill="url(#q7)" transform="translate(1.6)"/><rect x="82.7" y="122.67" width="94" height="1.4" fill="url(#q7)" transform="translate(1.3)"/><rect x="82.7" y="124.00" width="94" height="1.4" fill="url(#q7)" transform="translate(1.3)"/><rect x="83.7" y="125.33" width="94" height="1.4" fill="url(#q6)" transform="translate(0.3)"/><rect x="82.3" y="126.67" width="94" height="1.4" fill="url(#q6)" transform="translate(1.7)"/><rect x="83.5" y="128.00" width="94" height="1.4" fill="url(#q7)" transform="translate(0.5)"/><rect x="81.3" y="129.33" width="94" height="1.4" fill="url(#q6)" transform="translate(2.7)"/><rect x="80.7" y="130.67" width="94" height="1.4" fill="url(#q6)" transform="translate(3.3)"/><rect x="84.0" y="132.00" width="94" height="1.4" fill="url(#q6)" transform="translate(0.0)"/><rect x="83.0" y="133.33" width="94" height="1.4" fill="url(#q7)" transform="translate(1.0)"/><rect x="82.9" y="134.67" width="94" height="1.4" fill="url(#q7)" transform="translate(1.1)"/><rect x="82.5" y="136.00" width="94" height="1.4" fill="url(#q7)" transform="translate(1.5)"/><rect x="82.7" y="137.33" width="94" height="1.4" fill="url(#q7)" transform="translate(1.3)"/><rect x="83.0" y="138.67" width="94" height="1.4" fill="url(#q6)" transform="translate(1.0)"/><rect x="81.3" y="140.00" width="94" height="1.4" fill="url(#q7)" transform="translate(2.7)"/><rect x="82.0" y="141.33" width="94" height="1.4" fill="url(#q7)" transform="translate(2.0)"/><rect x="82.2" y="142.67" width="94" height="1.4" fill="url(#q7)" transform="translate(1.8)"/><rect x="83.9" y="144.00" width="94" height="1.4" fill="url(#q7)" transform="translate(0.1)"/><rect x="80.1" y="145.33" width="94" height="1.4" fill="url(#q7)" transform="translate(3.9)"/><rect x="80.6" y="146.67" width="94" height="1.4" fill="url(#q7)" transform="translate(3.4)"/><rect x="83.4" y="148.00" width="94" height="1.4" fill="url(#q7)" transform="translate(0.6)"/><rect x="81.1" y="149.33" width="94" height="1.4" fill="url(#q7)" transform="translate(2.9)"/><rect x="81.8" y="150.67" width="94" height="1.4" fill="url(#q7)" transform="translate(2.2)"/><rect x="80.9" y="152.00" width="94" height="1.4" fill="url(#q7)" transform="translate(3.1)"/><rect x="81.9" y="153.33" width="94" height="1.4" fill="url(#q7)" transform="translate(2.1)"/><rect x="83.2" y="154.67" width="94" height="1.4" fill="url(#q7)" transform="translate(0.8)"/><rect x="82.4" y="156.00" width="94" height="1.4" fill="url(#q6)" transform="translate(1.6)"/><rect x="81.3" y="157.33" width="94" height="1.4" fill="url(#q6)" transform="translate(2.7)"/><rect x="80.8" y="158.67" width="94" height="1.4" fill="url(#q6)" transform="translate(3.2)"/><rect x="81.1" y="160.00" width="94" height="1.4" fill="url(#q5)" transform="translate(2.9)"/><rect x="81.6" y="161.33" width="94" height="1.4" fill="url(#q5)" transform="translate(2.4)"/><rect x="82.4" y="162.67" width="94" height="1.4" fill="url(#q5)" transform="translate(1.6)"/><rect x="81.5" y="164.00" width="94" height="1.4" fill="url(#q4)" transform="translate(2.5)"/><rect x="81.5" y="165.33" width="94" height="1.4" fill="url(#q3)" transform="translate(2.5)"/><rect x="82.2" y="166.67" width="94" height="1.4" fill="url(#q3)" transform="translate(1.8)"/><rect x="82.2" y="168.00" width="94" height="1.4" fill="url(#q3)" transform="translate(1.8)"/><rect x="83.0" y="169.33" width="94" height="1.4" fill="url(#q3)" transform="translate(1.0)"/><rect x="83.7" y="170.67" width="94" height="1.4" fill="url(#q1)" transform="translate(0.3)"/><rect x="83.4" y="172.00" width="94" height="1.4" fill="url(#q1)" transform="translate(0.6)"/><rect x="83.3" y="173.33" width="94" height="1.4" fill="url(#q1)" transform="translate(0.7)"/><rect x="83.4" y="174.67" width="94" height="1.4" fill="url(#q1)" transform="translate(0.6)"/><rect x="83.2" y="176.00" width="94" height="1.4" fill="url(#q0)" transform="translate(0.8)"/><rect x="83.2" y="177.33" width="94" height="1.4" fill="url(#q1)" transform="translate(0.8)"/><rect x="83.1" y="178.67" width="94" height="1.4" fill="url(#q0)" transform="translate(0.9)"/><rect x="83.2" y="180.00" width="94" height="1.4" fill="url(#q0)" transform="translate(0.8)"/><rect x="83.9" y="181.33" width="94" height="1.4" fill="url(#q1)" transform="translate(0.1)"/><rect x="83.9" y="182.67" width="94" height="1.4" fill="url(#q1)" transform="translate(0.1)"/><rect x="83.6" y="184.00" width="94" height="1.4" fill="url(#q0)" transform="translate(0.4)"/><rect x="82.4" y="185.33" width="94" height="1.4" fill="url(#q1)" transform="translate(1.6)"/><rect x="82.6" y="186.67" width="94" height="1.4" fill="url(#q1)" transform="translate(1.4)"/><rect x="82.2" y="188.00" width="94" height="1.4" fill="url(#q3)" transform="translate(1.8)"/><rect x="82.6" y="189.33" width="94" height="1.4" fill="url(#q4)" transform="translate(1.4)"/><rect x="81.6" y="190.67" width="94" height="1.4" fill="url(#q5)" transform="translate(2.4)"/><rect x="83.0" y="192.00" width="94" height="1.4" fill="url(#q4)" transform="translate(1.0)"/><rect x="81.0" y="193.33" width="94" height="1.4" fill="url(#q5)" transform="translate(3.0)"/><rect x="83.1" y="194.67" width="94" height="1.4" fill="url(#q7)" transform="translate(0.9)"/><rect x="81.3" y="196.00" width="94" height="1.4" fill="url(#q7)" transform="translate(2.7)"/><rect x="83.1" y="197.33" width="94" height="1.4" fill="url(#q9)" transform="translate(0.9)"/><rect x="81.4" y="198.67" width="94" height="1.4" fill="url(#q11)" transform="translate(2.6)"/><rect x="79.1" y="200.00" width="94" height="1.4" fill="url(#q11)" transform="translate(4.9)"/><rect x="76.7" y="201.33" width="94" height="1.4" fill="url(#q12)" transform="translate(7.3)"/><rect x="83.2" y="202.67" width="94" height="1.4" fill="url(#q13)" transform="translate(0.8)"/><rect x="76.1" y="204.00" width="94" height="1.4" fill="url(#q13)" transform="translate(7.9)"/><rect x="83.6" y="205.33" width="94" height="1.4" fill="url(#q14)" transform="translate(0.4)"/><rect x="78.0" y="206.67" width="94" height="1.4" fill="url(#q14)" transform="translate(6.0)"/><rect x="77.7" y="208.00" width="94" height="1.4" fill="url(#q15)" transform="translate(6.3)"/><rect x="76.8" y="209.33" width="94" height="1.4" fill="url(#q15)" transform="translate(7.2)"/><rect x="74.9" y="210.67" width="94" height="1.4" fill="url(#q16)" transform="translate(9.1)"/><rect x="69.7" y="212.00" width="94" height="1.4" fill="url(#q16)" transform="translate(14.3)"/><rect x="76.6" y="213.33" width="94" height="1.4" fill="url(#q14)" transform="translate(7.4)"/><rect x="75.8" y="214.67" width="94" height="1.4" fill="url(#q12)" transform="translate(8.2)"/><rect x="79.3" y="216.00" width="94" height="1.4" fill="url(#q12)" transform="translate(4.7)"/><rect x="80.6" y="217.33" width="94" height="1.4" fill="url(#q11)" transform="translate(3.4)"/><rect x="82.9" y="218.67" width="94" height="1.4" fill="url(#q11)" transform="translate(1.1)"/><rect x="76.9" y="220.00" width="94" height="1.4" fill="url(#q11)" transform="translate(7.1)"/><rect x="79.5" y="221.33" width="94" height="1.4" fill="url(#q11)" transform="translate(4.5)"/><rect x="83.3" y="222.67" width="94" height="1.4" fill="url(#q11)" transform="translate(0.7)"/><rect x="80.8" y="224.00" width="94" height="1.4" fill="url(#q15)" transform="translate(3.2)"/><rect x="73.5" y="225.33" width="94" height="1.4" fill="url(#q15)" transform="translate(10.5)"/><rect x="83.7" y="226.67" width="94" height="1.4" fill="url(#q16)" transform="translate(0.3)"/><rect x="70.5" y="228.00" width="94" height="1.4" fill="url(#q17)" transform="translate(13.5)"/><rect x="70.5" y="229.33" width="94" height="1.4" fill="url(#q20)" transform="translate(13.5)"/><rect x="40.0" y="230.67" width="94" height="1.4" fill="url(#q23)" transform="translate(44.0)"/><rect x="69.0" y="232.00" width="94" height="1.4" fill="url(#q24)" transform="translate(15.0)"/><rect x="65.8" y="233.33" width="94" height="1.4" fill="url(#q24)" transform="translate(18.2)"/><rect x="59.0" y="234.67" width="94" height="1.4" fill="url(#q24)" transform="translate(25.0)"/><rect x="73.8" y="236.00" width="94" height="1.4" fill="url(#q24)" transform="translate(10.2)"/><rect x="42.5" y="237.33" width="94" height="1.4" fill="url(#q24)" transform="translate(41.5)"/><rect x="50.7" y="238.67" width="94" height="1.4" fill="url(#q24)" transform="translate(33.3)"/><rect x="73.2" y="240.00" width="94" height="1.4" fill="url(#q24)" transform="translate(10.8)"/><rect x="71.2" y="241.33" width="94" height="1.4" fill="url(#q16)" transform="translate(12.8)"/><rect x="75.0" y="242.67" width="94" height="1.4" fill="url(#q13)" transform="translate(9.0)"/><rect x="82.1" y="244.00" width="94" height="1.4" fill="url(#q10)" transform="translate(1.9)"/><rect x="82.8" y="245.33" width="94" height="1.4" fill="url(#q5)" transform="translate(1.2)"/><rect x="82.0" y="246.67" width="94" height="1.4" fill="url(#q4)" transform="translate(2.0)"/><rect x="81.7" y="248.00" width="94" height="1.4" fill="url(#q4)" transform="translate(2.3)"/><rect x="83.2" y="249.33" width="94" height="1.4" fill="url(#q3)" transform="translate(0.8)"/><rect x="83.2" y="250.67" width="94" height="1.4" fill="url(#q3)" transform="translate(0.8)"/><rect x="82.7" y="252.00" width="94" height="1.4" fill="url(#q5)" transform="translate(1.3)"/><rect x="81.9" y="253.33" width="94" height="1.4" fill="url(#q5)" transform="translate(2.1)"/><rect x="80.6" y="254.67" width="94" height="1.4" fill="url(#q5)" transform="translate(3.4)"/><rect x="82.6" y="256.00" width="94" height="1.4" fill="url(#q3)" transform="translate(1.4)"/><rect x="82.2" y="257.33" width="94" height="1.4" fill="url(#q3)" transform="translate(1.8)"/><rect x="82.5" y="258.67" width="94" height="1.4" fill="url(#q4)" transform="translate(1.5)"/><rect x="82.4" y="260.00" width="94" height="1.4" fill="url(#q5)" transform="translate(1.6)"/><rect x="81.8" y="261.33" width="94" height="1.4" fill="url(#q6)" transform="translate(2.2)"/><rect x="80.9" y="262.67" width="94" height="1.4" fill="url(#q6)" transform="translate(3.1)"/><rect x="83.7" y="264.00" width="94" height="1.4" fill="url(#q7)" transform="translate(0.3)"/><rect x="82.7" y="265.33" width="94" height="1.4" fill="url(#q7)" transform="translate(1.3)"/><rect x="81.6" y="266.67" width="94" height="1.4" fill="url(#q12)" transform="translate(2.4)"/><rect x="80.3" y="268.00" width="94" height="1.4" fill="url(#q12)" transform="translate(3.7)"/><rect x="80.4" y="269.33" width="94" height="1.4" fill="url(#q12)" transform="translate(3.6)"/><rect x="80.7" y="270.67" width="94" height="1.4" fill="url(#q12)" transform="translate(3.3)"/><rect x="82.7" y="272.00" width="94" height="1.4" fill="url(#q13)" transform="translate(1.3)"/><rect x="78.1" y="273.33" width="94" height="1.4" fill="url(#q13)" transform="translate(5.9)"/><rect x="78.1" y="274.67" width="94" height="1.4" fill="url(#q12)" transform="translate(5.9)"/><rect x="82.7" y="276.00" width="94" height="1.4" fill="url(#q13)" transform="translate(1.3)"/><rect x="81.5" y="277.33" width="94" height="1.4" fill="url(#q6)" transform="translate(2.5)"/><rect x="80.9" y="278.67" width="94" height="1.4" fill="url(#q6)" transform="translate(3.1)"/><rect x="83.5" y="280.00" width="94" height="1.4" fill="url(#q6)" transform="translate(0.5)"/><rect x="81.5" y="281.33" width="94" height="1.4" fill="url(#q6)" transform="translate(2.5)"/><rect x="83.7" y="282.67" width="94" height="1.4" fill="url(#q6)" transform="translate(0.3)"/><rect x="83.6" y="284.00" width="94" height="1.4" fill="url(#q6)" transform="translate(0.4)"/><rect x="84.0" y="285.33" width="94" height="1.4" fill="url(#q6)" transform="translate(0.0)"/><rect x="83.3" y="286.67" width="94" height="1.4" fill="url(#q7)" transform="translate(0.7)"/><rect x="81.6" y="288.00" width="94" height="1.4" fill="url(#q9)" transform="translate(2.4)"/><rect x="81.7" y="289.33" width="94" height="1.4" fill="url(#q9)" transform="translate(2.3)"/><rect x="79.7" y="290.67" width="94" height="1.4" fill="url(#q8)" transform="translate(4.3)"/><rect x="82.3" y="292.00" width="94" height="1.4" fill="url(#q8)" transform="translate(1.7)"/><rect x="81.5" y="293.33" width="94" height="1.4" fill="url(#q9)" transform="translate(2.5)"/><rect x="79.7" y="294.67" width="94" height="1.4" fill="url(#q9)" transform="translate(4.3)"/><rect x="83.9" y="296.00" width="94" height="1.4" fill="url(#q8)" transform="translate(0.1)"/><rect x="83.4" y="297.33" width="94" height="1.4" fill="url(#q9)" transform="translate(0.6)"/><rect x="81.8" y="298.67" width="94" height="1.4" fill="url(#q8)" transform="translate(2.2)"/><rect x="80.3" y="300.00" width="94" height="1.4" fill="url(#q7)" transform="translate(3.7)"/><rect x="80.9" y="301.33" width="94" height="1.4" fill="url(#q8)" transform="translate(3.1)"/><rect x="81.1" y="302.67" width="94" height="1.4" fill="url(#q8)" transform="translate(2.9)"/><rect x="81.3" y="304.00" width="94" height="1.4" fill="url(#q8)" transform="translate(2.7)"/><rect x="79.7" y="305.33" width="94" height="1.4" fill="url(#q8)" transform="translate(4.3)"/><rect x="79.8" y="306.67" width="94" height="1.4" fill="url(#q8)" transform="translate(4.2)"/><rect x="79.9" y="308.00" width="94" height="1.4" fill="url(#q8)" transform="translate(4.1)"/><rect x="82.9" y="309.33" width="94" height="1.4" fill="url(#q12)" transform="translate(1.1)"/><rect x="76.6" y="310.67" width="94" height="1.4" fill="url(#q13)" transform="translate(7.4)"/><rect x="80.2" y="312.00" width="94" height="1.4" fill="url(#q13)" transform="translate(3.8)"/><rect x="76.1" y="313.33" width="94" height="1.4" fill="url(#q13)" transform="translate(7.9)"/><rect x="82.1" y="314.67" width="94" height="1.4" fill="url(#q13)" transform="translate(1.9)"/><rect x="80.5" y="316.00" width="94" height="1.4" fill="url(#q13)" transform="translate(3.5)"/><rect x="76.7" y="317.33" width="94" height="1.4" fill="url(#q14)" transform="translate(7.3)"/><rect x="80.0" y="318.67" width="94" height="1.4" fill="url(#q13)" transform="translate(4.0)"/><rect x="79.8" y="320.00" width="94" height="1.4" fill="url(#q9)" transform="translate(4.2)"/><rect x="80.1" y="321.33" width="94" height="1.4" fill="url(#q10)" transform="translate(3.9)"/><rect x="82.2" y="322.67" width="94" height="1.4" fill="url(#q10)" transform="translate(1.8)"/><rect x="78.6" y="324.00" width="94" height="1.4" fill="url(#q11)" transform="translate(5.4)"/><rect x="79.6" y="325.33" width="94" height="1.4" fill="url(#q11)" transform="translate(4.4)"/><rect x="81.7" y="326.67" width="94" height="1.4" fill="url(#q12)" transform="translate(2.3)"/><rect x="82.7" y="328.00" width="94" height="1.4" fill="url(#q12)" transform="translate(1.3)"/><rect x="76.2" y="329.33" width="94" height="1.4" fill="url(#q12)" transform="translate(7.8)"/><rect x="81.7" y="330.67" width="94" height="1.4" fill="url(#q15)" transform="translate(2.3)"/><rect x="77.7" y="332.00" width="94" height="1.4" fill="url(#q15)" transform="translate(6.3)"/><rect x="74.1" y="333.33" width="94" height="1.4" fill="url(#q15)" transform="translate(9.9)"/><rect x="82.0" y="334.67" width="94" height="1.4" fill="url(#q15)" transform="translate(2.0)"/><rect x="78.6" y="336.00" width="94" height="1.4" fill="url(#q15)" transform="translate(5.4)"/><rect x="76.3" y="337.33" width="94" height="1.4" fill="url(#q15)" transform="translate(7.7)"/><rect x="81.1" y="338.67" width="94" height="1.4" fill="url(#q15)" transform="translate(2.9)"/><rect x="72.2" y="340.00" width="94" height="1.4" fill="url(#q16)" transform="translate(11.8)"/><rect x="72.6" y="341.33" width="94" height="1.4" fill="url(#q15)" transform="translate(11.4)"/><rect x="80.0" y="342.67" width="94" height="1.4" fill="url(#q15)" transform="translate(4.0)"/><rect x="80.8" y="344.00" width="94" height="1.4" fill="url(#q15)" transform="translate(3.2)"/><rect x="75.3" y="345.33" width="94" height="1.4" fill="url(#q15)" transform="translate(8.7)"/><rect x="77.7" y="346.67" width="94" height="1.4" fill="url(#q14)" transform="translate(6.3)"/><rect x="78.4" y="348.00" width="94" height="1.4" fill="url(#q13)" transform="translate(5.6)"/><rect x="77.5" y="349.33" width="94" height="1.4" fill="url(#q12)" transform="translate(6.5)"/><rect x="76.1" y="350.67" width="94" height="1.4" fill="url(#q12)" transform="translate(7.9)"/><rect x="82.9" y="352.00" width="94" height="1.4" fill="url(#q13)" transform="translate(1.1)"/><rect x="76.4" y="353.33" width="94" height="1.4" fill="url(#q12)" transform="translate(7.6)"/><rect x="78.2" y="354.67" width="94" height="1.4" fill="url(#q12)" transform="translate(5.8)"/><rect x="80.8" y="356.00" width="94" height="1.4" fill="url(#q12)" transform="translate(3.2)"/><rect x="82.2" y="357.33" width="94" height="1.4" fill="url(#q12)" transform="translate(1.8)"/><rect x="81.6" y="358.67" width="94" height="1.4" fill="url(#q11)" transform="translate(2.4)"/><rect x="83.4" y="360.00" width="94" height="1.4" fill="url(#q11)" transform="translate(0.6)"/><rect x="77.6" y="361.33" width="94" height="1.4" fill="url(#q11)" transform="translate(6.4)"/><rect x="82.4" y="362.67" width="94" height="1.4" fill="url(#q12)" transform="translate(1.6)"/><rect x="81.8" y="364.00" width="94" height="1.4" fill="url(#q13)" transform="translate(2.2)"/><rect x="81.9" y="365.33" width="94" height="1.4" fill="url(#q12)" transform="translate(2.1)"/><rect x="83.6" y="366.67" width="94" height="1.4" fill="url(#q12)" transform="translate(0.4)"/><rect x="81.7" y="368.00" width="94" height="1.4" fill="url(#q11)" transform="translate(2.3)"/><rect x="82.3" y="369.33" width="94" height="1.4" fill="url(#q11)" transform="translate(1.7)"/><rect x="81.9" y="370.67" width="94" height="1.4" fill="url(#q11)" transform="translate(2.1)"/><rect x="79.4" y="372.00" width="94" height="1.4" fill="url(#q10)" transform="translate(4.6)"/><rect x="82.2" y="373.33" width="94" height="1.4" fill="url(#q8)" transform="translate(1.8)"/><rect x="80.0" y="374.67" width="94" height="1.4" fill="url(#q7)" transform="translate(4.0)"/><rect x="83.8" y="376.00" width="94" height="1.4" fill="url(#q7)" transform="translate(0.2)"/><rect x="83.1" y="377.33" width="94" height="1.4" fill="url(#q7)" transform="translate(0.9)"/><rect x="83.9" y="378.67" width="94" height="1.4" fill="url(#q7)" transform="translate(0.1)"/><rect x="82.4" y="380.00" width="94" height="1.4" fill="url(#q8)" transform="translate(1.6)"/><rect x="82.1" y="381.33" width="94" height="1.4" fill="url(#q8)" transform="translate(1.9)"/><rect x="80.3" y="382.67" width="94" height="1.4" fill="url(#q7)" transform="translate(3.7)"/><rect x="78.8" y="384.00" width="94" height="1.4" fill="url(#q9)" transform="translate(5.2)"/><rect x="79.7" y="385.33" width="94" height="1.4" fill="url(#q9)" transform="translate(4.3)"/><rect x="79.9" y="386.67" width="94" height="1.4" fill="url(#q9)" transform="translate(4.1)"/><rect x="80.8" y="388.00" width="94" height="1.4" fill="url(#q9)" transform="translate(3.2)"/><rect x="82.6" y="389.33" width="94" height="1.4" fill="url(#q9)" transform="translate(1.4)"/><rect x="81.9" y="390.67" width="94" height="1.4" fill="url(#q10)" transform="translate(2.1)"/><rect x="82.6" y="392.00" width="94" height="1.4" fill="url(#q13)" transform="translate(1.4)"/><rect x="81.0" y="393.33" width="94" height="1.4" fill="url(#q15)" transform="translate(3.0)"/><rect x="77.1" y="394.67" width="94" height="1.4" fill="url(#q13)" transform="translate(6.9)"/><rect x="74.9" y="396.00" width="94" height="1.4" fill="url(#q13)" transform="translate(9.1)"/><rect x="76.4" y="397.33" width="94" height="1.4" fill="url(#q14)" transform="translate(7.6)"/><rect x="80.7" y="398.67" width="94" height="1.4" fill="url(#q14)" transform="translate(3.3)"/><rect x="74.5" y="400.00" width="94" height="1.4" fill="url(#q14)" transform="translate(9.5)"/><rect x="78.5" y="401.33" width="94" height="1.4" fill="url(#q14)" transform="translate(5.5)"/><rect x="78.9" y="402.67" width="94" height="1.4" fill="url(#q14)" transform="translate(5.1)"/><rect x="81.0" y="404.00" width="94" height="1.4" fill="url(#q14)" transform="translate(3.0)"/><rect x="78.3" y="405.33" width="94" height="1.4" fill="url(#q12)" transform="translate(5.7)"/><rect x="81.8" y="406.67" width="94" height="1.4" fill="url(#q12)" transform="translate(2.2)"/><rect x="77.6" y="408.00" width="94" height="1.4" fill="url(#q13)" transform="translate(6.4)"/><rect x="75.3" y="409.33" width="94" height="1.4" fill="url(#q13)" transform="translate(8.7)"/><rect x="76.8" y="410.67" width="94" height="1.4" fill="url(#q14)" transform="translate(7.2)"/><rect x="74.0" y="412.00" width="94" height="1.4" fill="url(#q14)" transform="translate(10.0)"/><rect x="78.0" y="413.33" width="94" height="1.4" fill="url(#q14)" transform="translate(6.0)"/><rect x="77.7" y="414.67" width="94" height="1.4" fill="url(#q13)" transform="translate(6.3)"/><rect x="78.1" y="416.00" width="94" height="1.4" fill="url(#q15)" transform="translate(5.9)"/><rect x="74.4" y="417.33" width="94" height="1.4" fill="url(#q14)" transform="translate(9.6)"/><rect x="81.9" y="418.67" width="94" height="1.4" fill="url(#q14)" transform="translate(2.1)"/><rect x="78.0" y="420.00" width="94" height="1.4" fill="url(#q13)" transform="translate(6.0)"/><rect x="82.2" y="421.33" width="94" height="1.4" fill="url(#q13)" transform="translate(1.8)"/><rect x="76.7" y="422.67" width="94" height="1.4" fill="url(#q13)" transform="translate(7.3)"/><rect x="81.9" y="424.00" width="94" height="1.4" fill="url(#q11)" transform="translate(2.1)"/><rect x="81.8" y="425.33" width="94" height="1.4" fill="url(#q11)" transform="translate(2.2)"/><rect x="77.2" y="426.67" width="94" height="1.4" fill="url(#q12)" transform="translate(6.8)"/><rect x="83.7" y="428.00" width="94" height="1.4" fill="url(#q11)" transform="translate(0.3)"/><rect x="77.1" y="429.33" width="94" height="1.4" fill="url(#q12)" transform="translate(6.9)"/><rect x="76.0" y="430.67" width="94" height="1.4" fill="url(#q12)" transform="translate(8.0)"/><rect x="82.6" y="432.00" width="94" height="1.4" fill="url(#q12)" transform="translate(1.4)"/><rect x="83.6" y="433.33" width="94" height="1.4" fill="url(#q13)" transform="translate(0.4)"/><rect x="83.2" y="434.67" width="94" height="1.4" fill="url(#q13)" transform="translate(0.8)"/><rect x="80.0" y="436.00" width="94" height="1.4" fill="url(#q13)" transform="translate(4.0)"/><rect x="80.9" y="437.33" width="94" height="1.4" fill="url(#q11)" transform="translate(3.1)"/><rect x="76.8" y="438.67" width="94" height="1.4" fill="url(#q12)" transform="translate(7.2)"/><rect x="80.4" y="440.00" width="94" height="1.4" fill="url(#q12)" transform="translate(3.6)"/><rect x="82.7" y="441.33" width="94" height="1.4" fill="url(#q13)" transform="translate(1.3)"/><rect x="76.6" y="442.67" width="94" height="1.4" fill="url(#q13)" transform="translate(7.4)"/><rect x="74.2" y="444.00" width="94" height="1.4" fill="url(#q14)" transform="translate(9.8)"/><rect x="73.0" y="445.33" width="94" height="1.4" fill="url(#q14)" transform="translate(11.0)"/><rect x="76.6" y="446.67" width="94" height="1.4" fill="url(#q13)" transform="translate(7.4)"/><rect x="74.6" y="448.00" width="94" height="1.4" fill="url(#q14)" transform="translate(9.4)"/><rect x="76.3" y="449.33" width="94" height="1.4" fill="url(#q14)" transform="translate(7.7)"/><rect x="76.6" y="450.67" width="94" height="1.4" fill="url(#q14)" transform="translate(7.4)"/><rect x="81.3" y="452.00" width="94" height="1.4" fill="url(#q14)" transform="translate(2.7)"/><rect x="83.3" y="453.33" width="94" height="1.4" fill="url(#q13)" transform="translate(0.7)"/><rect x="82.0" y="454.67" width="94" height="1.4" fill="url(#q12)" transform="translate(2.0)"/><rect x="79.2" y="456.00" width="94" height="1.4" fill="url(#q11)" transform="translate(4.8)"/><rect x="83.9" y="457.33" width="94" height="1.4" fill="url(#q11)" transform="translate(0.1)"/><rect x="78.0" y="458.67" width="94" height="1.4" fill="url(#q14)" transform="translate(6.0)"/><rect x="76.5" y="460.00" width="94" height="1.4" fill="url(#q14)" transform="translate(7.5)"/><rect x="82.7" y="461.33" width="94" height="1.4" fill="url(#q14)" transform="translate(1.3)"/><rect x="82.2" y="462.67" width="94" height="1.4" fill="url(#q13)" transform="translate(1.8)"/><rect x="82.8" y="464.00" width="94" height="1.4" fill="url(#q14)" transform="translate(1.2)"/><rect x="75.8" y="465.33" width="94" height="1.4" fill="url(#q13)" transform="translate(8.2)"/><rect x="75.9" y="466.67" width="94" height="1.4" fill="url(#q13)" transform="translate(8.1)"/><rect x="76.8" y="468.00" width="94" height="1.4" fill="url(#q13)" transform="translate(7.2)"/><rect x="82.6" y="469.33" width="94" height="1.4" fill="url(#q10)" transform="translate(1.4)"/><rect x="78.6" y="470.67" width="94" height="1.4" fill="url(#q9)" transform="translate(5.4)"/><rect x="79.7" y="472.00" width="94" height="1.4" fill="url(#q9)" transform="translate(4.3)"/><rect x="78.2" y="473.33" width="94" height="1.4" fill="url(#q10)" transform="translate(5.8)"/><rect x="77.8" y="474.67" width="94" height="1.4" fill="url(#q10)" transform="translate(6.2)"/><rect x="78.9" y="476.00" width="94" height="1.4" fill="url(#q9)" transform="translate(5.1)"/><rect x="83.2" y="477.33" width="94" height="1.4" fill="url(#q9)" transform="translate(0.8)"/><rect x="79.4" y="478.67" width="94" height="1.4" fill="url(#q10)" transform="translate(4.6)"/><rect x="78.9" y="480.00" width="94" height="1.4" fill="url(#q11)" transform="translate(5.1)"/><rect x="83.3" y="481.33" width="94" height="1.4" fill="url(#q11)" transform="translate(0.7)"/><rect x="82.4" y="482.67" width="94" height="1.4" fill="url(#q11)" transform="translate(1.6)"/><rect x="82.2" y="484.00" width="94" height="1.4" fill="url(#q11)" transform="translate(1.8)"/><rect x="81.4" y="485.33" width="94" height="1.4" fill="url(#q11)" transform="translate(2.6)"/><rect x="81.5" y="486.67" width="94" height="1.4" fill="url(#q11)" transform="translate(2.5)"/><rect x="82.7" y="488.00" width="94" height="1.4" fill="url(#q11)" transform="translate(1.3)"/><rect x="82.7" y="489.33" width="94" height="1.4" fill="url(#q11)" transform="translate(1.3)"/><rect x="79.8" y="490.67" width="94" height="1.4" fill="url(#q9)" transform="translate(4.2)"/><rect x="81.9" y="492.00" width="94" height="1.4" fill="url(#q9)" transform="translate(2.1)"/><rect x="78.4" y="493.33" width="94" height="1.4" fill="url(#q9)" transform="translate(5.6)"/><rect x="80.6" y="494.67" width="94" height="1.4" fill="url(#q10)" transform="translate(3.4)"/><rect x="83.0" y="496.00" width="94" height="1.4" fill="url(#q10)" transform="translate(1.0)"/><rect x="81.0" y="497.33" width="94" height="1.4" fill="url(#q10)" transform="translate(3.0)"/><rect x="79.5" y="498.67" width="94" height="1.4" fill="url(#q10)" transform="translate(4.5)"/><rect x="81.2" y="500.00" width="94" height="1.4" fill="url(#q9)" transform="translate(2.8)"/><rect x="81.4" y="501.33" width="94" height="1.4" fill="url(#q11)" transform="translate(2.6)"/><rect x="81.2" y="502.67" width="94" height="1.4" fill="url(#q11)" transform="translate(2.8)"/><rect x="80.6" y="504.00" width="94" height="1.4" fill="url(#q10)" transform="translate(3.4)"/><rect x="83.5" y="505.33" width="94" height="1.4" fill="url(#q11)" transform="translate(0.5)"/><rect x="77.7" y="506.67" width="94" height="1.4" fill="url(#q11)" transform="translate(6.3)"/><rect x="82.6" y="508.00" width="94" height="1.4" fill="url(#q10)" transform="translate(1.4)"/><rect x="78.5" y="509.33" width="94" height="1.4" fill="url(#q11)" transform="translate(5.5)"/><rect x="82.8" y="510.67" width="94" height="1.4" fill="url(#q10)" transform="translate(1.2)"/><rect x="76.7" y="512.00" width="94" height="1.4" fill="url(#q12)" transform="translate(7.3)"/><rect x="83.8" y="513.33" width="94" height="1.4" fill="url(#q12)" transform="translate(0.2)"/><rect x="79.6" y="514.67" width="94" height="1.4" fill="url(#q12)" transform="translate(4.4)"/><rect x="79.2" y="516.00" width="94" height="1.4" fill="url(#q12)" transform="translate(4.8)"/><rect x="77.7" y="517.33" width="94" height="1.4" fill="url(#q11)" transform="translate(6.3)"/><rect x="76.8" y="518.67" width="94" height="1.4" fill="url(#q12)" transform="translate(7.2)"/><rect x="82.3" y="520.00" width="94" height="1.4" fill="url(#q12)" transform="translate(1.7)"/><rect x="77.7" y="521.33" width="94" height="1.4" fill="url(#q12)" transform="translate(6.3)"/><rect x="70.4" y="522.67" width="94" height="1.4" fill="url(#q16)" transform="translate(13.6)"/><rect x="71.0" y="524.00" width="94" height="1.4" fill="url(#q16)" transform="translate(13.0)"/><rect x="72.1" y="525.33" width="94" height="1.4" fill="url(#q16)" transform="translate(11.9)"/><rect x="68.5" y="526.67" width="94" height="1.4" fill="url(#q17)" transform="translate(15.5)"/><rect x="70.0" y="528.00" width="94" height="1.4" fill="url(#q16)" transform="translate(14.0)"/><rect x="68.7" y="529.33" width="94" height="1.4" fill="url(#q17)" transform="translate(15.3)"/><rect x="67.2" y="530.67" width="94" height="1.4" fill="url(#q17)" transform="translate(16.8)"/><rect x="76.3" y="532.00" width="94" height="1.4" fill="url(#q17)" transform="translate(7.7)"/><rect x="69.8" y="533.33" width="94" height="1.4" fill="url(#q17)" transform="translate(14.2)"/><rect x="80.9" y="534.67" width="94" height="1.4" fill="url(#q17)" transform="translate(3.1)"/><rect x="75.0" y="536.00" width="94" height="1.4" fill="url(#q17)" transform="translate(9.0)"/><rect x="79.0" y="537.33" width="94" height="1.4" fill="url(#q17)" transform="translate(5.0)"/><rect x="68.1" y="538.67" width="94" height="1.4" fill="url(#q18)" transform="translate(15.9)"/><rect x="70.3" y="540.00" width="94" height="1.4" fill="url(#q17)" transform="translate(13.7)"/><rect x="75.4" y="541.33" width="94" height="1.4" fill="url(#q17)" transform="translate(8.6)"/><rect x="71.7" y="542.67" width="94" height="1.4" fill="url(#q17)" transform="translate(12.3)"/><rect x="83.7" y="544.00" width="94" height="1.4" fill="url(#q14)" transform="translate(0.3)"/><rect x="82.5" y="545.33" width="94" height="1.4" fill="url(#q14)" transform="translate(1.5)"/><rect x="80.8" y="546.67" width="94" height="1.4" fill="url(#q14)" transform="translate(3.2)"/><rect x="75.1" y="548.00" width="94" height="1.4" fill="url(#q14)" transform="translate(8.9)"/><rect x="78.4" y="549.33" width="94" height="1.4" fill="url(#q15)" transform="translate(5.6)"/><rect x="77.6" y="550.67" width="94" height="1.4" fill="url(#q11)" transform="translate(6.4)"/><rect x="83.6" y="552.00" width="94" height="1.4" fill="url(#q8)" transform="translate(0.4)"/><rect x="82.6" y="553.33" width="94" height="1.4" fill="url(#q7)" transform="translate(1.4)"/><rect x="81.5" y="554.67" width="94" height="1.4" fill="url(#q7)" transform="translate(2.5)"/><rect x="82.0" y="556.00" width="94" height="1.4" fill="url(#q6)" transform="translate(2.0)"/><rect x="81.2" y="557.33" width="94" height="1.4" fill="url(#q4)" transform="translate(2.8)"/><rect x="81.6" y="558.67" width="94" height="1.4" fill="url(#q4)" transform="translate(2.4)"/><rect x="81.9" y="560.00" width="94" height="1.4" fill="url(#q4)" transform="translate(2.1)"/><rect x="82.1" y="561.33" width="94" height="1.4" fill="url(#q4)" transform="translate(1.9)"/><rect x="83.9" y="562.67" width="94" height="1.4" fill="url(#q5)" transform="translate(0.1)"/><rect x="80.8" y="564.00" width="94" height="1.4" fill="url(#q5)" transform="translate(3.2)"/><rect x="83.0" y="565.33" width="94" height="1.4" fill="url(#q0)" transform="translate(1.0)"/><rect x="83.2" y="566.67" width="94" height="1.4" fill="url(#q0)" transform="translate(0.8)"/><rect x="82.9" y="568.00" width="94" height="1.4" fill="url(#q0)" transform="translate(1.1)"/><rect x="83.2" y="569.33" width="94" height="1.4" fill="url(#q0)" transform="translate(0.8)"/><rect x="82.8" y="570.67" width="94" height="1.4" fill="url(#q3)" transform="translate(1.2)"/><rect x="80.9" y="572.00" width="94" height="1.4" fill="url(#q6)" transform="translate(3.1)"/><rect x="82.0" y="573.33" width="94" height="1.4" fill="url(#q6)" transform="translate(2.0)"/><rect x="83.7" y="574.67" width="94" height="1.4" fill="url(#q6)" transform="translate(0.3)"/><rect x="81.7" y="576.00" width="94" height="1.4" fill="url(#q10)" transform="translate(2.3)"/><rect x="78.3" y="577.33" width="94" height="1.4" fill="url(#q11)" transform="translate(5.7)"/><rect x="77.5" y="578.67" width="94" height="1.4" fill="url(#q11)" transform="translate(6.5)"/><rect x="78.8" y="580.00" width="94" height="1.4" fill="url(#q12)" transform="translate(5.2)"/><rect x="78.3" y="581.33" width="94" height="1.4" fill="url(#q11)" transform="translate(5.7)"/><rect x="79.0" y="582.67" width="94" height="1.4" fill="url(#q12)" transform="translate(5.0)"/><rect x="83.8" y="584.00" width="94" height="1.4" fill="url(#q11)" transform="translate(0.2)"/><rect x="82.6" y="585.33" width="94" height="1.4" fill="url(#q11)" transform="translate(1.4)"/><rect x="82.2" y="586.67" width="94" height="1.4" fill="url(#q12)" transform="translate(1.8)"/><rect x="77.8" y="588.00" width="94" height="1.4" fill="url(#q11)" transform="translate(6.2)"/><rect x="80.2" y="625.33" width="94" height="1.4" fill="url(#q9)" transform="translate(3.8)"/><rect x="82.8" y="626.67" width="94" height="1.4" fill="url(#q8)" transform="translate(1.2)"/><rect x="82.2" y="628.00" width="94" height="1.4" fill="url(#q8)" transform="translate(1.8)"/><rect x="81.5" y="629.33" width="94" height="1.4" fill="url(#q7)" transform="translate(2.5)"/><rect x="81.0" y="630.67" width="94" height="1.4" fill="url(#q7)" transform="translate(3.0)"/><rect x="81.3" y="632.00" width="94" height="1.4" fill="url(#q7)" transform="translate(2.7)"/><rect x="83.1" y="633.33" width="94" height="1.4" fill="url(#q7)" transform="translate(0.9)"/><rect x="81.3" y="634.67" width="94" height="1.4" fill="url(#q7)" transform="translate(2.7)"/><rect x="82.6" y="636.00" width="94" height="1.4" fill="url(#q7)" transform="translate(1.4)"/><rect x="81.3" y="637.33" width="94" height="1.4" fill="url(#q7)" transform="translate(2.7)"/><rect x="83.9" y="638.67" width="94" height="1.4" fill="url(#q7)" transform="translate(0.1)"/></g><rect x="-1.6" y="589.33" width="178" height="1.4" fill="url(#q11)" transform="translate(1.6)"/><rect x="-4.1" y="590.67" width="178" height="1.4" fill="url(#q11)" transform="translate(4.1)"/><rect x="-6.7" y="592.00" width="178" height="1.4" fill="url(#q11)" transform="translate(6.7)"/><rect x="-2.8" y="593.33" width="178" height="1.4" fill="url(#q11)" transform="translate(2.8)"/><rect x="-5.4" y="594.67" width="178" height="1.4" fill="url(#q11)" transform="translate(5.4)"/><rect x="-0.8" y="596.00" width="178" height="1.4" fill="url(#q11)" transform="translate(0.8)"/><rect x="-1.6" y="597.33" width="178" height="1.4" fill="url(#q7)" transform="translate(1.6)"/><rect x="-1.5" y="598.67" width="178" height="1.4" fill="url(#q6)" transform="translate(1.5)"/><rect x="-1.9" y="600.00" width="178" height="1.4" fill="url(#q6)" transform="translate(1.9)"/><rect x="-2.3" y="601.33" width="178" height="1.4" fill="url(#q7)" transform="translate(2.3)"/><rect x="-1.0" y="602.67" width="178" height="1.4" fill="url(#q6)" transform="translate(1.0)"/><rect x="-0.9" y="604.00" width="178" height="1.4" fill="url(#q6)" transform="translate(0.9)"/><rect x="-3.3" y="605.33" width="178" height="1.4" fill="url(#q7)" transform="translate(3.3)"/><rect x="-1.2" y="606.67" width="178" height="1.4" fill="url(#q6)" transform="translate(1.2)"/><rect x="-5.3" y="608.00" width="178" height="1.4" fill="url(#q9)" transform="translate(5.3)"/><rect x="-4.2" y="609.33" width="178" height="1.4" fill="url(#q9)" transform="translate(4.2)"/><rect x="-1.6" y="610.67" width="178" height="1.4" fill="url(#q10)" transform="translate(1.6)"/><rect x="-2.5" y="612.00" width="178" height="1.4" fill="url(#q9)" transform="translate(2.5)"/><rect x="-0.6" y="613.33" width="178" height="1.4" fill="url(#q10)" transform="translate(0.6)"/><rect x="-0.9" y="614.67" width="178" height="1.4" fill="url(#q9)" transform="translate(0.9)"/><rect x="-2.3" y="616.00" width="178" height="1.4" fill="url(#q10)" transform="translate(2.3)"/><rect x="-2.6" y="617.33" width="178" height="1.4" fill="url(#q9)" transform="translate(2.6)"/><rect x="-6.3" y="618.67" width="178" height="1.4" fill="url(#q10)" transform="translate(6.3)"/><rect x="-0.7" y="620.00" width="178" height="1.4" fill="url(#q10)" transform="translate(0.7)"/><rect x="-2.5" y="621.33" width="178" height="1.4" fill="url(#q11)" transform="translate(2.5)"/><rect x="-5.0" y="622.67" width="178" height="1.4" fill="url(#q11)" transform="translate(5.0)"/><rect x="-1.8" y="624.00" width="178" height="1.4" fill="url(#q10)" transform="translate(1.8)"/><rect x="0" y="589" width="70" height="36" filter="url(#sq2)"/><rect x="171" y="0" width="7" height="66" filter="url(#nz2)"/><rect x="95" y="228.2" width="83" height="12.8" fill="url(#b2_0)"/><rect x="0" y="4" width="178" height="1" fill="#fff"/><rect x="0" y="65" width="178" height="5" fill="#fff"/><rect x="0" y="81.9" width="178" height="0.9" fill="#fff"/><rect x="0" y="91.2" width="178" height="8.8" fill="#fff"/><rect x="0" y="140.9" width="178" height="0.9" fill="#fff"/><rect x="0" y="152.8" width="178" height="8.2" fill="#fff"/><rect x="0" y="162" width="178" height="4" fill="#fff"/><rect x="0" y="170.7" width="178" height="4.2" fill="#fff"/><rect x="0" y="180.3" width="178" height="0.7" fill="#fff"/><rect x="0" y="188.5" width="178" height="1.2" fill="#fff"/><rect x="0" y="193.8" width="178" height="1.2" fill="#fff"/><rect x="0" y="208.8" width="178" height="0.9" fill="#fff"/><rect x="0" y="229.8" width="178" height="1" fill="#fff"/><rect x="0" y="241.9" width="178" height="3.8" fill="#fff"/><rect x="0" y="250" width="178" height="0.9" fill="#fff"/><rect x="0" y="261.9" width="178" height="1.1" fill="#fff"/><rect x="0" y="265.1" width="178" height="0.8" fill="#fff"/><rect x="0" y="284.1" width="178" height="1" fill="#fff"/><rect x="0" y="303.5" width="178" height="0.9" fill="#fff"/><rect x="0" y="306" width="178" height="0.9" fill="#fff"/><rect x="0" y="324.9" width="178" height="1" fill="#fff"/><rect x="0" y="381.6" width="178" height="2.4" fill="#fff"/><rect x="0" y="409" width="178" height="1.9" fill="#fff"/><rect x="0" y="423" width="178" height="1.1" fill="#fff"/><rect x="0" y="464" width="178" height="1" fill="#fff"/><rect x="0" y="476.9" width="178" height="0.9" fill="#fff"/><rect x="0" y="488.9" width="178" height="1.1" fill="#fff"/><rect x="0" y="510.4" width="178" height="1" fill="#fff"/><rect x="0" y="517.8" width="178" height="1.1" fill="#fff"/><rect x="0" y="523" width="178" height="0.8" fill="#fff"/><rect x="0" y="542" width="178" height="1.1" fill="#fff"/><rect x="0" y="545.1" width="178" height="0.8" fill="#fff"/><rect x="0" y="547" width="178" height="0.8" fill="#fff"/><rect x="0" y="552" width="178" height="6" fill="#fff"/><rect x="0" y="559" width="178" height="1" fill="#fff"/><rect x="0" y="563.1" width="178" height="1.1" fill="#fff"/><rect x="0" y="567" width="178" height="1.1" fill="#fff"/><rect x="0" y="584" width="178" height="1" fill="#fff"/><rect x="0" y="600.2" width="178" height="0.9" fill="#fff"/><rect x="0" y="624.8" width="178" height="2.5" fill="#fff"/><rect x="0" y="636.9" width="178" height="3.1" fill="#fff"/><rect x="0" y="22" width="178" height="1" fill="#000"/><rect x="0" y="90.2" width="178" height="1" fill="#000"/><rect x="0" y="102.6" width="178" height="1.1" fill="#000"/><rect x="0" y="118" width="178" height="1" fill="#000"/><rect x="0" y="120.9" width="178" height="0.9" fill="#000"/><rect x="0" y="123.9" width="178" height="0.9" fill="#000"/><rect x="0" y="139.8" width="178" height="0.9" fill="#000"/><rect x="0" y="161" width="178" height="1" fill="#000"/><rect x="0" y="169.5" width="178" height="1.2" fill="#000"/><rect x="0" y="181" width="178" height="1" fill="#000"/><rect x="0" y="187.4" width="178" height="1" fill="#000"/><rect x="0" y="195.9" width="178" height="1.9" fill="#000"/><rect x="0" y="223.9" width="178" height="0.9" fill="#000"/><rect x="0" y="241" width="178" height="0.9" fill="#000"/><rect x="0" y="248.2" width="178" height="1.8" fill="#000"/><rect x="0" y="252.2" width="178" height="9.7" fill="#000"/><rect x="0" y="263" width="178" height="1.1" fill="#000"/><rect x="0" y="289.8" width="178" height="0.9" fill="#000"/><rect x="0" y="301.8" width="178" height="1" fill="#000"/><rect x="0" y="317" width="178" height="0.9" fill="#000"/><rect x="0" y="322" width="178" height="0.9" fill="#000"/><rect x="0" y="342" width="178" height="0.9" fill="#000"/><rect x="0" y="353.7" width="178" height="0.9" fill="#000"/><rect x="0" y="372.8" width="178" height="0.9" fill="#000"/><rect x="0" y="452.9" width="178" height="0.9" fill="#000"/><rect x="0" y="492" width="178" height="1" fill="#000"/><rect x="0" y="494" width="178" height="0.9" fill="#000"/><rect x="0" y="497" width="178" height="1" fill="#000"/><rect x="0" y="504" width="178" height="0.9" fill="#000"/><rect x="0" y="513" width="178" height="1" fill="#000"/><rect x="0" y="517" width="178" height="0.8" fill="#000"/><rect x="0" y="527" width="178" height="1" fill="#000"/><rect x="0" y="531.3" width="178" height="1" fill="#000"/><rect x="0" y="537.8" width="178" height="1" fill="#000"/><rect x="0" y="551" width="178" height="1" fill="#000"/><rect x="0" y="570.1" width="178" height="1.6" fill="#000"/><rect x="0" y="588.2" width="178" height="0.9" fill="#000"/><rect x="0" y="605.9" width="178" height="0.9" fill="#000"/><rect x="0" y="627.7" width="178" height="1" fill="#000"/><line x1="0" x2="178" y1="168.7" y2="168.7" stroke="#000" stroke-width="1.4" stroke-dasharray="1.5 1.5"/></svg>
<div class="ax" style="left:556px;top:80px;width:178px;height:641px;"></div>
<div class="t yl" style="left:511px;width:40px;text-align:right;top:713.7px;font-size:12.6px;letter-spacing:0.5px;">0</div>
<div class="tk" style="left:557px;top:587px;width:4px;height:1px;"></div>
<div class="tk" style="left:729px;top:587px;width:4px;height:1px;"></div>
<div class="t yl" style="left:511px;width:40px;text-align:right;top:580.4px;font-size:12.6px;letter-spacing:0.5px;">5</div>
<div class="tk" style="left:557px;top:453px;width:4px;height:1px;"></div>
<div class="tk" style="left:729px;top:453px;width:4px;height:1px;"></div>
<div class="t yl" style="left:511px;width:40px;text-align:right;top:447.0px;font-size:12.6px;letter-spacing:0.5px;">10</div>
<div class="tk" style="left:557px;top:320px;width:4px;height:1px;"></div>
<div class="tk" style="left:729px;top:320px;width:4px;height:1px;"></div>
<div class="t yl" style="left:511px;width:40px;text-align:right;top:313.7px;font-size:12.6px;letter-spacing:0.5px;">15</div>
<div class="tk" style="left:557px;top:187px;width:4px;height:1px;"></div>
<div class="tk" style="left:729px;top:187px;width:4px;height:1px;"></div>
<div class="t yl" style="left:511px;width:40px;text-align:right;top:180.4px;font-size:12.6px;letter-spacing:0.5px;">20</div>
<div class="t xl" style="left:537.4px;width:40px;text-align:center;top:725.5px;font-size:12.6px;letter-spacing:0.5px;">320</div>
<div class="tk" style="left:598px;top:81px;width:1px;height:4px;"></div>
<div class="tk" style="left:598px;top:716px;width:1px;height:4px;"></div>
<div class="t xl" style="left:578.9px;width:40px;text-align:center;top:725.5px;font-size:12.6px;letter-spacing:0.5px;">335</div>
<div class="tk" style="left:639px;top:81px;width:1px;height:4px;"></div>
<div class="tk" style="left:639px;top:716px;width:1px;height:4px;"></div>
<div class="t xl" style="left:620.4px;width:40px;text-align:center;top:725.5px;font-size:12.6px;letter-spacing:0.5px;">350</div>
<div class="tk" style="left:681px;top:81px;width:1px;height:4px;"></div>
<div class="tk" style="left:681px;top:716px;width:1px;height:4px;"></div>
<div class="t xl" style="left:661.9px;width:40px;text-align:center;top:725.5px;font-size:12.6px;letter-spacing:0.5px;">365</div>
<div class="tk" style="left:722px;top:81px;width:1px;height:4px;"></div>
<div class="tk" style="left:722px;top:716px;width:1px;height:4px;"></div>
<div class="t xl" style="left:703.3px;width:40px;text-align:center;top:725.5px;font-size:12.6px;letter-spacing:0.5px;">380</div>
<div class="t ttl" style="left:707.0px;width:300px;text-align:center;top:59.6px;font-size:16px;letter-spacing:0.39px;">YX, V1*V16=EA02*EA06</div>
<svg class="pan" style="left:768px;top:80px" width="178" height="641" viewBox="0 0 178 641" shape-rendering="crispEdges"><defs><linearGradient id="mg3" gradientUnits="userSpaceOnUse" x1="94" y1="0" x2="116" y2="0"><stop offset="0" stop-color="#000"/><stop offset="1" stop-color="#fff"/></linearGradient><mask id="mk3" maskUnits="userSpaceOnUse" x="0" y="0" width="178" height="641"><rect x="0" y="0" width="178" height="641" fill="url(#mg3)"/></mask><linearGradient id="b3_0" gradientUnits="userSpaceOnUse" x1="43.16" y1="234.6" x2="125.16" y2="234.6" spreadMethod="repeat" gradientTransform="translate(0 234.6) skewX(-50.2) translate(0 -234.6)"><stop offset="0.000" stop-color="#000080"/><stop offset="0.062" stop-color="#0000c8"/><stop offset="0.125" stop-color="#0000ff"/><stop offset="0.188" stop-color="#0040ff"/><stop offset="0.250" stop-color="#0080ff"/><stop offset="0.312" stop-color="#00bfff"/><stop offset="0.375" stop-color="#15ffe2"/><stop offset="0.438" stop-color="#48ffaf"/><stop offset="0.500" stop-color="#7bff7b"/><stop offset="0.562" stop-color="#afff48"/><stop offset="0.625" stop-color="#e2ff15"/><stop offset="0.688" stop-color="#ffd200"/><stop offset="0.750" stop-color="#ff9700"/><stop offset="0.812" stop-color="#ff5c00"/><stop offset="0.875" stop-color="#ff2100"/><stop offset="0.938" stop-color="#c80000"/><stop offset="1.000" stop-color="#800000"/></linearGradient></defs><rect width="178" height="641" filter="url(#nz3)"/><g mask="url(#mk3)"><rect x="90.9" y="0.00" width="86" height="1.4" fill="url(#q4)" transform="translate(1.1)"/><rect x="89.6" y="1.33" width="86" height="1.4" fill="url(#q4)" transform="translate(2.4)"/><rect x="91.4" y="2.67" width="86" height="1.4" fill="url(#q4)" transform="translate(0.6)"/><rect x="89.6" y="4.00" width="86" height="1.4" fill="url(#q4)" transform="translate(2.4)"/><rect x="91.2" y="5.33" width="86" height="1.4" fill="url(#q4)" transform="translate(0.8)"/><rect x="90.4" y="6.67" width="86" height="1.4" fill="url(#q4)" transform="translate(1.6)"/><rect x="92.0" y="8.00" width="86" height="1.4" fill="url(#q4)" transform="translate(0.0)"/><rect x="91.1" y="9.33" width="86" height="1.4" fill="url(#q4)" transform="translate(0.9)"/><rect x="89.5" y="10.67" width="86" height="1.4" fill="url(#q4)" transform="translate(2.5)"/><rect x="90.2" y="12.00" width="86" height="1.4" fill="url(#q3)" transform="translate(1.8)"/><rect x="91.7" y="13.33" width="86" height="1.4" fill="url(#q3)" transform="translate(0.3)"/><rect x="91.1" y="14.67" width="86" height="1.4" fill="url(#q3)" transform="translate(0.9)"/><rect x="91.7" y="16.00" width="86" height="1.4" fill="url(#q4)" transform="translate(0.3)"/><rect x="90.8" y="17.33" width="86" height="1.4" fill="url(#q4)" transform="translate(1.2)"/><rect x="90.7" y="18.67" width="86" height="1.4" fill="url(#q3)" transform="translate(1.3)"/><rect x="89.9" y="20.00" width="86" height="1.4" fill="url(#q3)" transform="translate(2.1)"/><rect x="90.7" y="21.33" width="86" height="1.4" fill="url(#q4)" transform="translate(1.3)"/><rect x="89.6" y="22.67" width="86" height="1.4" fill="url(#q3)" transform="translate(2.4)"/><rect x="89.7" y="24.00" width="86" height="1.4" fill="url(#q3)" transform="translate(2.3)"/><rect x="91.6" y="25.33" width="86" height="1.4" fill="url(#q4)" transform="translate(0.4)"/><rect x="91.7" y="26.67" width="86" height="1.4" fill="url(#q4)" transform="translate(0.3)"/><rect x="89.9" y="28.00" width="86" height="1.4" fill="url(#q3)" transform="translate(2.1)"/><rect x="89.7" y="29.33" width="86" height="1.4" fill="url(#q3)" transform="translate(2.3)"/><rect x="90.9" y="30.67" width="86" height="1.4" fill="url(#q4)" transform="translate(1.1)"/><rect x="89.3" y="32.00" width="86" height="1.4" fill="url(#q3)" transform="translate(2.7)"/><rect x="90.6" y="33.33" width="86" height="1.4" fill="url(#q4)" transform="translate(1.4)"/><rect x="91.9" y="34.67" width="86" height="1.4" fill="url(#q3)" transform="translate(0.1)"/><rect x="91.4" y="36.00" width="86" height="1.4" fill="url(#q3)" transform="translate(0.6)"/><rect x="91.6" y="37.33" width="86" height="1.4" fill="url(#q3)" transform="translate(0.4)"/><rect x="91.2" y="38.67" width="86" height="1.4" fill="url(#q3)" transform="translate(0.8)"/><rect x="90.9" y="40.00" width="86" height="1.4" fill="url(#q3)" transform="translate(1.1)"/><rect x="90.7" y="41.33" width="86" height="1.4" fill="url(#q3)" transform="translate(1.3)"/><rect x="91.6" y="42.67" width="86" height="1.4" fill="url(#q3)" transform="translate(0.4)"/><rect x="89.3" y="44.00" width="86" height="1.4" fill="url(#q3)" transform="translate(2.7)"/><rect x="90.0" y="45.33" width="86" height="1.4" fill="url(#q3)" transform="translate(2.0)"/><rect x="89.9" y="46.67" width="86" height="1.4" fill="url(#q3)" transform="translate(2.1)"/><rect x="89.8" y="48.00" width="86" height="1.4" fill="url(#q3)" transform="translate(2.2)"/><rect x="90.3" y="49.33" width="86" height="1.4" fill="url(#q3)" transform="translate(1.7)"/><rect x="90.5" y="50.67" width="86" height="1.4" fill="url(#q3)" transform="translate(1.5)"/><rect x="89.6" y="52.00" width="86" height="1.4" fill="url(#q3)" transform="translate(2.4)"/><rect x="89.5" y="53.33" width="86" height="1.4" fill="url(#q3)" transform="translate(2.5)"/><rect x="89.2" y="54.67" width="86" height="1.4" fill="url(#q3)" transform="translate(2.8)"/><rect x="91.3" y="56.00" width="86" height="1.4" fill="url(#q4)" transform="translate(0.7)"/><rect x="89.8" y="57.33" width="86" height="1.4" fill="url(#q3)" transform="translate(2.2)"/><rect x="90.1" y="58.67" width="86" height="1.4" fill="url(#q3)" transform="translate(1.9)"/><rect x="90.3" y="60.00" width="86" height="1.4" fill="url(#q3)" transform="translate(1.7)"/><rect x="90.2" y="61.33" width="86" height="1.4" fill="url(#q3)" transform="translate(1.8)"/><rect x="90.1" y="62.67" width="86" height="1.4" fill="url(#q3)" transform="translate(1.9)"/><rect x="90.2" y="64.00" width="86" height="1.4" fill="url(#q3)" transform="translate(1.8)"/><rect x="90.8" y="65.33" width="86" height="1.4" fill="url(#q5)" transform="translate(1.2)"/><rect x="88.7" y="66.67" width="86" height="1.4" fill="url(#q5)" transform="translate(3.3)"/><rect x="87.7" y="68.00" width="86" height="1.4" fill="url(#q8)" transform="translate(4.3)"/><rect x="82.9" y="69.33" width="86" height="1.4" fill="url(#q13)" transform="translate(9.1)"/><rect x="82.5" y="70.67" width="86" height="1.4" fill="url(#q14)" transform="translate(9.5)"/><rect x="81.3" y="72.00" width="86" height="1.4" fill="url(#q14)" transform="translate(10.7)"/><rect x="81.7" y="73.33" width="86" height="1.4" fill="url(#q14)" transform="translate(10.3)"/><rect x="78.3" y="74.67" width="86" height="1.4" fill="url(#q16)" transform="translate(13.7)"/><rect x="78.3" y="76.00" width="86" height="1.4" fill="url(#q16)" transform="translate(13.7)"/><rect x="87.5" y="77.33" width="86" height="1.4" fill="url(#q17)" transform="translate(4.5)"/><rect x="85.8" y="78.67" width="86" height="1.4" fill="url(#q16)" transform="translate(6.2)"/><rect x="79.3" y="80.00" width="86" height="1.4" fill="url(#q17)" transform="translate(12.7)"/><rect x="90.8" y="81.33" width="86" height="1.4" fill="url(#q16)" transform="translate(1.2)"/><rect x="90.7" y="82.67" width="86" height="1.4" fill="url(#q16)" transform="translate(1.3)"/><rect x="81.5" y="84.00" width="86" height="1.4" fill="url(#q15)" transform="translate(10.5)"/><rect x="88.2" y="85.33" width="86" height="1.4" fill="url(#q11)" transform="translate(3.8)"/><rect x="88.8" y="86.67" width="86" height="1.4" fill="url(#q10)" transform="translate(3.2)"/><rect x="91.1" y="88.00" width="86" height="1.4" fill="url(#q10)" transform="translate(0.9)"/><rect x="86.5" y="89.33" width="86" height="1.4" fill="url(#q9)" transform="translate(5.5)"/><rect x="90.2" y="90.67" width="86" height="1.4" fill="url(#q8)" transform="translate(1.8)"/><rect x="89.2" y="92.00" width="86" height="1.4" fill="url(#q8)" transform="translate(2.8)"/><rect x="90.0" y="93.33" width="86" height="1.4" fill="url(#q7)" transform="translate(2.0)"/><rect x="90.0" y="94.67" width="86" height="1.4" fill="url(#q6)" transform="translate(2.0)"/><rect x="86.2" y="96.00" width="86" height="1.4" fill="url(#q12)" transform="translate(5.8)"/><rect x="89.6" y="97.33" width="86" height="1.4" fill="url(#q11)" transform="translate(2.4)"/><rect x="90.1" y="98.67" width="86" height="1.4" fill="url(#q8)" transform="translate(1.9)"/><rect x="88.9" y="100.00" width="86" height="1.4" fill="url(#q8)" transform="translate(3.1)"/><rect x="88.9" y="101.33" width="86" height="1.4" fill="url(#q8)" transform="translate(3.1)"/><rect x="88.2" y="102.67" width="86" height="1.4" fill="url(#q8)" transform="translate(3.8)"/><rect x="87.7" y="104.00" width="86" height="1.4" fill="url(#q8)" transform="translate(4.3)"/><rect x="91.9" y="105.33" width="86" height="1.4" fill="url(#q8)" transform="translate(0.1)"/><rect x="89.9" y="106.67" width="86" height="1.4" fill="url(#q8)" transform="translate(2.1)"/><rect x="88.2" y="108.00" width="86" height="1.4" fill="url(#q7)" transform="translate(3.8)"/><rect x="87.2" y="109.33" width="86" height="1.4" fill="url(#q8)" transform="translate(4.8)"/><rect x="88.1" y="110.67" width="86" height="1.4" fill="url(#q8)" transform="translate(3.9)"/><rect x="90.9" y="112.00" width="86" height="1.4" fill="url(#q7)" transform="translate(1.1)"/><rect x="89.1" y="113.33" width="86" height="1.4" fill="url(#q7)" transform="translate(2.9)"/><rect x="88.5" y="114.67" width="86" height="1.4" fill="url(#q7)" transform="translate(3.5)"/><rect x="89.9" y="116.00" width="86" height="1.4" fill="url(#q7)" transform="translate(2.1)"/><rect x="91.2" y="117.33" width="86" height="1.4" fill="url(#q7)" transform="translate(0.8)"/><rect x="91.8" y="118.67" width="86" height="1.4" fill="url(#q7)" transform="translate(0.2)"/><rect x="89.9" y="120.00" width="86" height="1.4" fill="url(#q7)" transform="translate(2.1)"/><rect x="88.4" y="121.33" width="86" height="1.4" fill="url(#q7)" transform="translate(3.6)"/><rect x="91.8" y="122.67" width="86" height="1.4" fill="url(#q7)" transform="translate(0.2)"/><rect x="90.5" y="124.00" width="86" height="1.4" fill="url(#q6)" transform="translate(1.5)"/><rect x="89.3" y="125.33" width="86" height="1.4" fill="url(#q6)" transform="translate(2.7)"/><rect x="88.8" y="126.67" width="86" height="1.4" fill="url(#q6)" transform="translate(3.2)"/><rect x="89.1" y="128.00" width="86" height="1.4" fill="url(#q6)" transform="translate(2.9)"/><rect x="89.1" y="129.33" width="86" height="1.4" fill="url(#q7)" transform="translate(2.9)"/><rect x="90.5" y="130.67" width="86" height="1.4" fill="url(#q6)" transform="translate(1.5)"/><rect x="91.7" y="132.00" width="86" height="1.4" fill="url(#q6)" transform="translate(0.3)"/><rect x="91.8" y="133.33" width="86" height="1.4" fill="url(#q6)" transform="translate(0.2)"/><rect x="88.6" y="134.67" width="86" height="1.4" fill="url(#q6)" transform="translate(3.4)"/><rect x="88.5" y="136.00" width="86" height="1.4" fill="url(#q7)" transform="translate(3.5)"/><rect x="88.6" y="137.33" width="86" height="1.4" fill="url(#q7)" transform="translate(3.4)"/><rect x="91.9" y="138.67" width="86" height="1.4" fill="url(#q7)" transform="translate(0.1)"/><rect x="91.7" y="140.00" width="86" height="1.4" fill="url(#q7)" transform="translate(0.3)"/><rect x="91.0" y="141.33" width="86" height="1.4" fill="url(#q7)" transform="translate(1.0)"/><rect x="89.3" y="142.67" width="86" height="1.4" fill="url(#q7)" transform="translate(2.7)"/><rect x="88.8" y="144.00" width="86" height="1.4" fill="url(#q7)" transform="translate(3.2)"/><rect x="91.7" y="145.33" width="86" height="1.4" fill="url(#q7)" transform="translate(0.3)"/><rect x="89.7" y="146.67" width="86" height="1.4" fill="url(#q7)" transform="translate(2.3)"/><rect x="88.0" y="148.00" width="86" height="1.4" fill="url(#q7)" transform="translate(4.0)"/><rect x="91.4" y="149.33" width="86" height="1.4" fill="url(#q7)" transform="translate(0.6)"/><rect x="91.4" y="150.67" width="86" height="1.4" fill="url(#q7)" transform="translate(0.6)"/><rect x="89.3" y="152.00" width="86" height="1.4" fill="url(#q7)" transform="translate(2.7)"/><rect x="88.5" y="153.33" width="86" height="1.4" fill="url(#q7)" transform="translate(3.5)"/><rect x="88.3" y="154.67" width="86" height="1.4" fill="url(#q7)" transform="translate(3.7)"/><rect x="90.2" y="156.00" width="86" height="1.4" fill="url(#q6)" transform="translate(1.8)"/><rect x="90.4" y="157.33" width="86" height="1.4" fill="url(#q6)" transform="translate(1.6)"/><rect x="90.3" y="158.67" width="86" height="1.4" fill="url(#q5)" transform="translate(1.7)"/><rect x="90.8" y="160.00" width="86" height="1.4" fill="url(#q5)" transform="translate(1.2)"/><rect x="91.9" y="161.33" width="86" height="1.4" fill="url(#q4)" transform="translate(0.1)"/><rect x="91.9" y="162.67" width="86" height="1.4" fill="url(#q4)" transform="translate(0.1)"/><rect x="91.7" y="164.00" width="86" height="1.4" fill="url(#q4)" transform="translate(0.3)"/><rect x="89.3" y="165.33" width="86" height="1.4" fill="url(#q3)" transform="translate(2.7)"/><rect x="89.2" y="166.67" width="86" height="1.4" fill="url(#q3)" transform="translate(2.8)"/><rect x="89.6" y="168.00" width="86" height="1.4" fill="url(#q3)" transform="translate(2.4)"/><rect x="90.4" y="169.33" width="86" height="1.4" fill="url(#q2)" transform="translate(1.6)"/><rect x="90.1" y="170.67" width="86" height="1.4" fill="url(#q2)" transform="translate(1.9)"/><rect x="90.6" y="172.00" width="86" height="1.4" fill="url(#q2)" transform="translate(1.4)"/><rect x="91.6" y="173.33" width="86" height="1.4" fill="url(#q1)" transform="translate(0.4)"/><rect x="90.7" y="174.67" width="86" height="1.4" fill="url(#q0)" transform="translate(1.3)"/><rect x="91.7" y="176.00" width="86" height="1.4" fill="url(#q0)" transform="translate(0.3)"/><rect x="92.0" y="177.33" width="86" height="1.4" fill="url(#q0)" transform="translate(0.0)"/><rect x="90.4" y="178.67" width="86" height="1.4" fill="url(#q0)" transform="translate(1.6)"/><rect x="91.5" y="180.00" width="86" height="1.4" fill="url(#q1)" transform="translate(0.5)"/><rect x="89.8" y="181.33" width="86" height="1.4" fill="url(#q1)" transform="translate(2.2)"/><rect x="91.8" y="182.67" width="86" height="1.4" fill="url(#q1)" transform="translate(0.2)"/><rect x="91.4" y="184.00" width="86" height="1.4" fill="url(#q1)" transform="translate(0.6)"/><rect x="90.2" y="185.33" width="86" height="1.4" fill="url(#q0)" transform="translate(1.8)"/><rect x="91.5" y="186.67" width="86" height="1.4" fill="url(#q1)" transform="translate(0.5)"/><rect x="89.7" y="188.00" width="86" height="1.4" fill="url(#q3)" transform="translate(2.3)"/><rect x="90.9" y="189.33" width="86" height="1.4" fill="url(#q4)" transform="translate(1.1)"/><rect x="89.2" y="190.67" width="86" height="1.4" fill="url(#q5)" transform="translate(2.8)"/><rect x="90.1" y="192.00" width="86" height="1.4" fill="url(#q4)" transform="translate(1.9)"/><rect x="91.6" y="193.33" width="86" height="1.4" fill="url(#q5)" transform="translate(0.4)"/><rect x="91.1" y="194.67" width="86" height="1.4" fill="url(#q7)" transform="translate(0.9)"/><rect x="90.2" y="196.00" width="86" height="1.4" fill="url(#q10)" transform="translate(1.8)"/><rect x="88.3" y="197.33" width="86" height="1.4" fill="url(#q12)" transform="translate(3.7)"/><rect x="84.7" y="198.67" width="86" height="1.4" fill="url(#q13)" transform="translate(7.3)"/><rect x="85.1" y="200.00" width="86" height="1.4" fill="url(#q14)" transform="translate(6.9)"/><rect x="82.5" y="201.33" width="86" height="1.4" fill="url(#q14)" transform="translate(9.5)"/><rect x="86.9" y="202.67" width="86" height="1.4" fill="url(#q15)" transform="translate(5.1)"/><rect x="82.0" y="204.00" width="86" height="1.4" fill="url(#q15)" transform="translate(10.0)"/><rect x="91.7" y="205.33" width="86" height="1.4" fill="url(#q15)" transform="translate(0.3)"/><rect x="79.6" y="206.67" width="86" height="1.4" fill="url(#q16)" transform="translate(12.4)"/><rect x="89.4" y="208.00" width="86" height="1.4" fill="url(#q17)" transform="translate(2.6)"/><rect x="78.3" y="209.33" width="86" height="1.4" fill="url(#q17)" transform="translate(13.7)"/><rect x="79.3" y="210.67" width="86" height="1.4" fill="url(#q18)" transform="translate(12.7)"/><rect x="82.5" y="212.00" width="86" height="1.4" fill="url(#q18)" transform="translate(9.5)"/><rect x="89.4" y="213.33" width="86" height="1.4" fill="url(#q14)" transform="translate(2.6)"/><rect x="88.1" y="214.67" width="86" height="1.4" fill="url(#q13)" transform="translate(3.9)"/><rect x="88.8" y="216.00" width="86" height="1.4" fill="url(#q13)" transform="translate(3.2)"/><rect x="89.5" y="217.33" width="86" height="1.4" fill="url(#q12)" transform="translate(2.5)"/><rect x="87.5" y="218.67" width="86" height="1.4" fill="url(#q11)" transform="translate(4.5)"/><rect x="88.5" y="220.00" width="86" height="1.4" fill="url(#q11)" transform="translate(3.5)"/><rect x="87.8" y="221.33" width="86" height="1.4" fill="url(#q11)" transform="translate(4.2)"/><rect x="90.0" y="222.67" width="86" height="1.4" fill="url(#q12)" transform="translate(2.0)"/><rect x="89.8" y="224.00" width="86" height="1.4" fill="url(#q16)" transform="translate(2.2)"/><rect x="84.2" y="225.33" width="86" height="1.4" fill="url(#q15)" transform="translate(7.8)"/><rect x="85.3" y="226.67" width="86" height="1.4" fill="url(#q16)" transform="translate(6.7)"/><rect x="89.7" y="228.00" width="86" height="1.4" fill="url(#q17)" transform="translate(2.3)"/><rect x="85.5" y="229.33" width="86" height="1.4" fill="url(#q20)" transform="translate(6.5)"/><rect x="46.3" y="230.67" width="86" height="1.4" fill="url(#q24)" transform="translate(45.7)"/><rect x="54.2" y="232.00" width="86" height="1.4" fill="url(#q24)" transform="translate(37.8)"/><rect x="50.3" y="233.33" width="86" height="1.4" fill="url(#q24)" transform="translate(41.7)"/><rect x="67.1" y="234.67" width="86" height="1.4" fill="url(#q24)" transform="translate(24.9)"/><rect x="78.9" y="236.00" width="86" height="1.4" fill="url(#q24)" transform="translate(13.1)"/><rect x="52.2" y="237.33" width="86" height="1.4" fill="url(#q24)" transform="translate(39.8)"/><rect x="83.4" y="238.67" width="86" height="1.4" fill="url(#q24)" transform="translate(8.6)"/><rect x="56.6" y="240.00" width="86" height="1.4" fill="url(#q24)" transform="translate(35.4)"/><rect x="85.7" y="241.33" width="86" height="1.4" fill="url(#q17)" transform="translate(6.3)"/><rect x="88.5" y="242.67" width="86" height="1.4" fill="url(#q12)" transform="translate(3.5)"/><rect x="90.2" y="244.00" width="86" height="1.4" fill="url(#q9)" transform="translate(1.8)"/><rect x="91.7" y="245.33" width="86" height="1.4" fill="url(#q3)" transform="translate(0.3)"/><rect x="90.6" y="246.67" width="86" height="1.4" fill="url(#q1)" transform="translate(1.4)"/><rect x="91.7" y="248.00" width="86" height="1.4" fill="url(#q2)" transform="translate(0.3)"/><rect x="91.6" y="249.33" width="86" height="1.4" fill="url(#q2)" transform="translate(0.4)"/><rect x="91.9" y="250.67" width="86" height="1.4" fill="url(#q2)" transform="translate(0.1)"/><rect x="89.8" y="252.00" width="86" height="1.4" fill="url(#q2)" transform="translate(2.2)"/><rect x="90.3" y="253.33" width="86" height="1.4" fill="url(#q2)" transform="translate(1.7)"/><rect x="90.0" y="254.67" width="86" height="1.4" fill="url(#q3)" transform="translate(2.0)"/><rect x="86.4" y="256.00" width="86" height="1.4" fill="url(#q11)" transform="translate(5.6)"/><rect x="91.9" y="257.33" width="86" height="1.4" fill="url(#q12)" transform="translate(0.1)"/><rect x="91.3" y="258.67" width="86" height="1.4" fill="url(#q11)" transform="translate(0.7)"/><rect x="84.8" y="260.00" width="86" height="1.4" fill="url(#q13)" transform="translate(7.2)"/><rect x="91.6" y="261.33" width="86" height="1.4" fill="url(#q13)" transform="translate(0.4)"/><rect x="88.2" y="262.67" width="86" height="1.4" fill="url(#q13)" transform="translate(3.8)"/><rect x="85.6" y="264.00" width="86" height="1.4" fill="url(#q14)" transform="translate(6.4)"/><rect x="83.9" y="265.33" width="86" height="1.4" fill="url(#q15)" transform="translate(8.1)"/><rect x="90.8" y="266.67" width="86" height="1.4" fill="url(#q4)" transform="translate(1.2)"/><rect x="90.6" y="268.00" width="86" height="1.4" fill="url(#q4)" transform="translate(1.4)"/><rect x="90.6" y="269.33" width="86" height="1.4" fill="url(#q4)" transform="translate(1.4)"/><rect x="89.0" y="270.67" width="86" height="1.4" fill="url(#q5)" transform="translate(3.0)"/><rect x="88.6" y="272.00" width="86" height="1.4" fill="url(#q5)" transform="translate(3.4)"/><rect x="89.0" y="273.33" width="86" height="1.4" fill="url(#q5)" transform="translate(3.0)"/><rect x="89.6" y="274.67" width="86" height="1.4" fill="url(#q4)" transform="translate(2.4)"/><rect x="90.1" y="276.00" width="86" height="1.4" fill="url(#q4)" transform="translate(1.9)"/><rect x="91.0" y="277.33" width="86" height="1.4" fill="url(#q13)" transform="translate(1.0)"/><rect x="83.2" y="278.67" width="86" height="1.4" fill="url(#q13)" transform="translate(8.8)"/><rect x="85.0" y="280.00" width="86" height="1.4" fill="url(#q13)" transform="translate(7.0)"/><rect x="84.7" y="281.33" width="86" height="1.4" fill="url(#q13)" transform="translate(7.3)"/><rect x="89.1" y="282.67" width="86" height="1.4" fill="url(#q13)" transform="translate(2.9)"/><rect x="89.1" y="284.00" width="86" height="1.4" fill="url(#q14)" transform="translate(2.9)"/><rect x="86.8" y="285.33" width="86" height="1.4" fill="url(#q13)" transform="translate(5.2)"/><rect x="90.5" y="286.67" width="86" height="1.4" fill="url(#q13)" transform="translate(1.5)"/><rect x="91.1" y="288.00" width="86" height="1.4" fill="url(#q8)" transform="translate(0.9)"/><rect x="88.9" y="289.33" width="86" height="1.4" fill="url(#q7)" transform="translate(3.1)"/><rect x="89.3" y="290.67" width="86" height="1.4" fill="url(#q8)" transform="translate(2.7)"/><rect x="90.6" y="292.00" width="86" height="1.4" fill="url(#q8)" transform="translate(1.4)"/><rect x="90.8" y="293.33" width="86" height="1.4" fill="url(#q8)" transform="translate(1.2)"/><rect x="90.7" y="294.67" width="86" height="1.4" fill="url(#q8)" transform="translate(1.3)"/><rect x="91.8" y="296.00" width="86" height="1.4" fill="url(#q8)" transform="translate(0.2)"/><rect x="88.6" y="297.33" width="86" height="1.4" fill="url(#q7)" transform="translate(3.4)"/><rect x="91.6" y="298.67" width="86" height="1.4" fill="url(#q8)" transform="translate(0.4)"/><rect x="88.7" y="300.00" width="86" height="1.4" fill="url(#q9)" transform="translate(3.3)"/><rect x="87.4" y="301.33" width="86" height="1.4" fill="url(#q8)" transform="translate(4.6)"/><rect x="91.9" y="302.67" width="86" height="1.4" fill="url(#q8)" transform="translate(0.1)"/><rect x="91.1" y="304.00" width="86" height="1.4" fill="url(#q8)" transform="translate(0.9)"/><rect x="89.1" y="305.33" width="86" height="1.4" fill="url(#q8)" transform="translate(2.9)"/><rect x="89.1" y="306.67" width="86" height="1.4" fill="url(#q8)" transform="translate(2.9)"/><rect x="90.7" y="308.00" width="86" height="1.4" fill="url(#q9)" transform="translate(1.3)"/><rect x="91.8" y="309.33" width="86" height="1.4" fill="url(#q10)" transform="translate(0.2)"/><rect x="90.9" y="310.67" width="86" height="1.4" fill="url(#q11)" transform="translate(1.1)"/><rect x="87.9" y="312.00" width="86" height="1.4" fill="url(#q11)" transform="translate(4.1)"/><rect x="85.4" y="313.33" width="86" height="1.4" fill="url(#q11)" transform="translate(6.6)"/><rect x="86.6" y="314.67" width="86" height="1.4" fill="url(#q11)" transform="translate(5.4)"/><rect x="88.4" y="316.00" width="86" height="1.4" fill="url(#q11)" transform="translate(3.6)"/><rect x="89.0" y="317.33" width="86" height="1.4" fill="url(#q11)" transform="translate(3.0)"/><rect x="90.6" y="318.67" width="86" height="1.4" fill="url(#q11)" transform="translate(1.4)"/><rect x="90.0" y="320.00" width="86" height="1.4" fill="url(#q14)" transform="translate(2.0)"/><rect x="87.9" y="321.33" width="86" height="1.4" fill="url(#q14)" transform="translate(4.1)"/><rect x="89.4" y="322.67" width="86" height="1.4" fill="url(#q14)" transform="translate(2.6)"/><rect x="81.4" y="324.00" width="86" height="1.4" fill="url(#q15)" transform="translate(10.6)"/><rect x="81.0" y="325.33" width="86" height="1.4" fill="url(#q15)" transform="translate(11.0)"/><rect x="90.0" y="326.67" width="86" height="1.4" fill="url(#q15)" transform="translate(2.0)"/><rect x="85.2" y="328.00" width="86" height="1.4" fill="url(#q15)" transform="translate(6.8)"/><rect x="84.5" y="329.33" width="86" height="1.4" fill="url(#q16)" transform="translate(7.5)"/><rect x="75.0" y="330.67" width="86" height="1.4" fill="url(#q17)" transform="translate(17.0)"/><rect x="82.2" y="332.00" width="86" height="1.4" fill="url(#q17)" transform="translate(9.8)"/><rect x="79.4" y="333.33" width="86" height="1.4" fill="url(#q17)" transform="translate(12.6)"/><rect x="78.9" y="334.67" width="86" height="1.4" fill="url(#q17)" transform="translate(13.1)"/><rect x="83.1" y="336.00" width="86" height="1.4" fill="url(#q17)" transform="translate(8.9)"/><rect x="87.2" y="337.33" width="86" height="1.4" fill="url(#q17)" transform="translate(4.8)"/><rect x="75.4" y="338.67" width="86" height="1.4" fill="url(#q17)" transform="translate(16.6)"/><rect x="83.9" y="340.00" width="86" height="1.4" fill="url(#q17)" transform="translate(8.1)"/><rect x="87.3" y="341.33" width="86" height="1.4" fill="url(#q16)" transform="translate(4.7)"/><rect x="84.8" y="342.67" width="86" height="1.4" fill="url(#q16)" transform="translate(7.2)"/><rect x="80.2" y="344.00" width="86" height="1.4" fill="url(#q16)" transform="translate(11.8)"/><rect x="87.9" y="345.33" width="86" height="1.4" fill="url(#q16)" transform="translate(4.1)"/><rect x="79.8" y="346.67" width="86" height="1.4" fill="url(#q15)" transform="translate(12.2)"/><rect x="86.4" y="348.00" width="86" height="1.4" fill="url(#q15)" transform="translate(5.6)"/><rect x="84.2" y="349.33" width="86" height="1.4" fill="url(#q14)" transform="translate(7.8)"/><rect x="82.4" y="350.67" width="86" height="1.4" fill="url(#q14)" transform="translate(9.6)"/><rect x="83.6" y="352.00" width="86" height="1.4" fill="url(#q14)" transform="translate(8.4)"/><rect x="87.3" y="353.33" width="86" height="1.4" fill="url(#q14)" transform="translate(4.7)"/><rect x="80.8" y="354.67" width="86" height="1.4" fill="url(#q14)" transform="translate(11.2)"/><rect x="84.2" y="356.00" width="86" height="1.4" fill="url(#q14)" transform="translate(7.8)"/><rect x="90.6" y="357.33" width="86" height="1.4" fill="url(#q13)" transform="translate(1.4)"/><rect x="85.9" y="358.67" width="86" height="1.4" fill="url(#q13)" transform="translate(6.1)"/><rect x="85.9" y="360.00" width="86" height="1.4" fill="url(#q13)" transform="translate(6.1)"/><rect x="88.5" y="361.33" width="86" height="1.4" fill="url(#q13)" transform="translate(3.5)"/><rect x="82.7" y="362.67" width="86" height="1.4" fill="url(#q15)" transform="translate(9.3)"/><rect x="87.7" y="364.00" width="86" height="1.4" fill="url(#q15)" transform="translate(4.3)"/><rect x="90.6" y="365.33" width="86" height="1.4" fill="url(#q15)" transform="translate(1.4)"/><rect x="82.4" y="366.67" width="86" height="1.4" fill="url(#q15)" transform="translate(9.6)"/><rect x="79.7" y="368.00" width="86" height="1.4" fill="url(#q15)" transform="translate(12.3)"/><rect x="86.5" y="369.33" width="86" height="1.4" fill="url(#q15)" transform="translate(5.5)"/><rect x="84.6" y="370.67" width="86" height="1.4" fill="url(#q14)" transform="translate(7.4)"/><rect x="87.9" y="372.00" width="86" height="1.4" fill="url(#q14)" transform="translate(4.1)"/><rect x="86.5" y="373.33" width="86" height="1.4" fill="url(#q9)" transform="translate(5.5)"/><rect x="89.9" y="374.67" width="86" height="1.4" fill="url(#q8)" transform="translate(2.1)"/><rect x="91.3" y="376.00" width="86" height="1.4" fill="url(#q9)" transform="translate(0.7)"/><rect x="91.6" y="377.33" width="86" height="1.4" fill="url(#q8)" transform="translate(0.4)"/><rect x="90.6" y="378.67" width="86" height="1.4" fill="url(#q8)" transform="translate(1.4)"/><rect x="90.8" y="380.00" width="86" height="1.4" fill="url(#q8)" transform="translate(1.2)"/><rect x="90.5" y="381.33" width="86" height="1.4" fill="url(#q8)" transform="translate(1.5)"/><rect x="91.5" y="382.67" width="86" height="1.4" fill="url(#q8)" transform="translate(0.5)"/><rect x="88.8" y="384.00" width="86" height="1.4" fill="url(#q5)" transform="translate(3.2)"/><rect x="89.2" y="385.33" width="86" height="1.4" fill="url(#q5)" transform="translate(2.8)"/><rect x="89.0" y="386.67" width="86" height="1.4" fill="url(#q6)" transform="translate(3.0)"/><rect x="88.7" y="388.00" width="86" height="1.4" fill="url(#q5)" transform="translate(3.3)"/><rect x="91.6" y="389.33" width="86" height="1.4" fill="url(#q5)" transform="translate(0.4)"/><rect x="89.8" y="390.67" width="86" height="1.4" fill="url(#q7)" transform="translate(2.2)"/><rect x="88.2" y="392.00" width="86" height="1.4" fill="url(#q9)" transform="translate(3.8)"/><rect x="91.6" y="393.33" width="86" height="1.4" fill="url(#q12)" transform="translate(0.4)"/><rect x="85.9" y="394.67" width="86" height="1.4" fill="url(#q14)" transform="translate(6.1)"/><rect x="82.4" y="396.00" width="86" height="1.4" fill="url(#q14)" transform="translate(9.6)"/><rect x="88.4" y="397.33" width="86" height="1.4" fill="url(#q14)" transform="translate(3.6)"/><rect x="87.6" y="398.67" width="86" height="1.4" fill="url(#q14)" transform="translate(4.4)"/><rect x="81.6" y="400.00" width="86" height="1.4" fill="url(#q14)" transform="translate(10.4)"/><rect x="81.3" y="401.33" width="86" height="1.4" fill="url(#q15)" transform="translate(10.7)"/><rect x="87.5" y="402.67" width="86" height="1.4" fill="url(#q15)" transform="translate(4.5)"/><rect x="82.4" y="404.00" width="86" height="1.4" fill="url(#q15)" transform="translate(9.6)"/><rect x="88.0" y="405.33" width="86" height="1.4" fill="url(#q16)" transform="translate(4.0)"/><rect x="85.3" y="406.67" width="86" height="1.4" fill="url(#q16)" transform="translate(6.7)"/><rect x="79.5" y="408.00" width="86" height="1.4" fill="url(#q17)" transform="translate(12.5)"/><rect x="90.2" y="409.33" width="86" height="1.4" fill="url(#q17)" transform="translate(1.8)"/><rect x="87.2" y="410.67" width="86" height="1.4" fill="url(#q18)" transform="translate(4.8)"/><rect x="78.0" y="412.00" width="86" height="1.4" fill="url(#q18)" transform="translate(14.0)"/><rect x="82.5" y="413.33" width="86" height="1.4" fill="url(#q17)" transform="translate(9.5)"/><rect x="85.5" y="414.67" width="86" height="1.4" fill="url(#q17)" transform="translate(6.5)"/><rect x="87.5" y="416.00" width="86" height="1.4" fill="url(#q16)" transform="translate(4.5)"/><rect x="87.3" y="417.33" width="86" height="1.4" fill="url(#q16)" transform="translate(4.7)"/><rect x="89.3" y="418.67" width="86" height="1.4" fill="url(#q16)" transform="translate(2.7)"/><rect x="87.0" y="420.00" width="86" height="1.4" fill="url(#q15)" transform="translate(5.0)"/><rect x="84.0" y="421.33" width="86" height="1.4" fill="url(#q15)" transform="translate(8.0)"/><rect x="85.0" y="422.67" width="86" height="1.4" fill="url(#q15)" transform="translate(7.0)"/><rect x="87.9" y="424.00" width="86" height="1.4" fill="url(#q13)" transform="translate(4.1)"/><rect x="86.9" y="425.33" width="86" height="1.4" fill="url(#q13)" transform="translate(5.1)"/><rect x="81.1" y="426.67" width="86" height="1.4" fill="url(#q14)" transform="translate(10.9)"/><rect x="81.2" y="428.00" width="86" height="1.4" fill="url(#q14)" transform="translate(10.8)"/><rect x="91.3" y="429.33" width="86" height="1.4" fill="url(#q14)" transform="translate(0.7)"/><rect x="90.7" y="430.67" width="86" height="1.4" fill="url(#q14)" transform="translate(1.3)"/><rect x="81.0" y="432.00" width="86" height="1.4" fill="url(#q15)" transform="translate(11.0)"/><rect x="86.2" y="433.33" width="86" height="1.4" fill="url(#q15)" transform="translate(5.8)"/><rect x="79.2" y="434.67" width="86" height="1.4" fill="url(#q15)" transform="translate(12.8)"/><rect x="89.1" y="436.00" width="86" height="1.4" fill="url(#q16)" transform="translate(2.9)"/><rect x="82.9" y="437.33" width="86" height="1.4" fill="url(#q14)" transform="translate(9.1)"/><rect x="82.9" y="438.67" width="86" height="1.4" fill="url(#q16)" transform="translate(9.1)"/><rect x="78.9" y="440.00" width="86" height="1.4" fill="url(#q16)" transform="translate(13.1)"/><rect x="79.0" y="441.33" width="86" height="1.4" fill="url(#q17)" transform="translate(13.0)"/><rect x="77.0" y="442.67" width="86" height="1.4" fill="url(#q17)" transform="translate(15.0)"/><rect x="86.8" y="444.00" width="86" height="1.4" fill="url(#q17)" transform="translate(5.2)"/><rect x="78.2" y="445.33" width="86" height="1.4" fill="url(#q17)" transform="translate(13.8)"/><rect x="91.6" y="446.67" width="86" height="1.4" fill="url(#q17)" transform="translate(0.4)"/><rect x="84.1" y="448.00" width="86" height="1.4" fill="url(#q14)" transform="translate(7.9)"/><rect x="90.0" y="449.33" width="86" height="1.4" fill="url(#q14)" transform="translate(2.0)"/><rect x="87.0" y="450.67" width="86" height="1.4" fill="url(#q15)" transform="translate(5.0)"/><rect x="89.2" y="452.00" width="86" height="1.4" fill="url(#q14)" transform="translate(2.8)"/><rect x="83.6" y="453.33" width="86" height="1.4" fill="url(#q13)" transform="translate(8.4)"/><rect x="84.9" y="454.67" width="86" height="1.4" fill="url(#q12)" transform="translate(7.1)"/><rect x="86.3" y="456.00" width="86" height="1.4" fill="url(#q11)" transform="translate(5.7)"/><rect x="90.0" y="457.33" width="86" height="1.4" fill="url(#q11)" transform="translate(2.0)"/><rect x="79.6" y="458.67" width="86" height="1.4" fill="url(#q15)" transform="translate(12.4)"/><rect x="92.0" y="460.00" width="86" height="1.4" fill="url(#q15)" transform="translate(0.0)"/><rect x="85.0" y="461.33" width="86" height="1.4" fill="url(#q15)" transform="translate(7.0)"/><rect x="84.5" y="462.67" width="86" height="1.4" fill="url(#q15)" transform="translate(7.5)"/><rect x="84.7" y="464.00" width="86" height="1.4" fill="url(#q15)" transform="translate(7.3)"/><rect x="86.5" y="465.33" width="86" height="1.4" fill="url(#q14)" transform="translate(5.5)"/><rect x="80.7" y="466.67" width="86" height="1.4" fill="url(#q15)" transform="translate(11.3)"/><rect x="82.5" y="468.00" width="86" height="1.4" fill="url(#q15)" transform="translate(9.5)"/><rect x="89.0" y="469.33" width="86" height="1.4" fill="url(#q11)" transform="translate(3.0)"/><rect x="89.2" y="470.67" width="86" height="1.4" fill="url(#q11)" transform="translate(2.8)"/><rect x="86.4" y="472.00" width="86" height="1.4" fill="url(#q10)" transform="translate(5.6)"/><rect x="91.2" y="473.33" width="86" height="1.4" fill="url(#q11)" transform="translate(0.8)"/><rect x="85.5" y="474.67" width="86" height="1.4" fill="url(#q11)" transform="translate(6.5)"/><rect x="88.4" y="476.00" width="86" height="1.4" fill="url(#q10)" transform="translate(3.6)"/><rect x="87.2" y="477.33" width="86" height="1.4" fill="url(#q10)" transform="translate(4.8)"/><rect x="90.9" y="478.67" width="86" height="1.4" fill="url(#q11)" transform="translate(1.1)"/><rect x="90.3" y="480.00" width="86" height="1.4" fill="url(#q14)" transform="translate(1.7)"/><rect x="86.7" y="481.33" width="86" height="1.4" fill="url(#q14)" transform="translate(5.3)"/><rect x="82.7" y="482.67" width="86" height="1.4" fill="url(#q14)" transform="translate(9.3)"/><rect x="83.2" y="484.00" width="86" height="1.4" fill="url(#q14)" transform="translate(8.8)"/><rect x="83.1" y="485.33" width="86" height="1.4" fill="url(#q14)" transform="translate(8.9)"/><rect x="81.4" y="486.67" width="86" height="1.4" fill="url(#q14)" transform="translate(10.6)"/><rect x="90.7" y="488.00" width="86" height="1.4" fill="url(#q14)" transform="translate(1.3)"/><rect x="90.2" y="489.33" width="86" height="1.4" fill="url(#q14)" transform="translate(1.8)"/><rect x="80.9" y="490.67" width="86" height="1.4" fill="url(#q14)" transform="translate(11.1)"/><rect x="90.7" y="492.00" width="86" height="1.4" fill="url(#q14)" transform="translate(1.3)"/><rect x="85.3" y="493.33" width="86" height="1.4" fill="url(#q15)" transform="translate(6.7)"/><rect x="87.2" y="494.67" width="86" height="1.4" fill="url(#q15)" transform="translate(4.8)"/><rect x="86.0" y="496.00" width="86" height="1.4" fill="url(#q16)" transform="translate(6.0)"/><rect x="88.9" y="497.33" width="86" height="1.4" fill="url(#q16)" transform="translate(3.1)"/><rect x="83.4" y="498.67" width="86" height="1.4" fill="url(#q15)" transform="translate(8.6)"/><rect x="88.0" y="500.00" width="86" height="1.4" fill="url(#q15)" transform="translate(4.0)"/><rect x="84.7" y="501.33" width="86" height="1.4" fill="url(#q12)" transform="translate(7.3)"/><rect x="84.7" y="502.67" width="86" height="1.4" fill="url(#q12)" transform="translate(7.3)"/><rect x="84.6" y="504.00" width="86" height="1.4" fill="url(#q12)" transform="translate(7.4)"/><rect x="83.8" y="505.33" width="86" height="1.4" fill="url(#q12)" transform="translate(8.2)"/><rect x="92.0" y="506.67" width="86" height="1.4" fill="url(#q12)" transform="translate(0.0)"/><rect x="90.7" y="508.00" width="86" height="1.4" fill="url(#q12)" transform="translate(1.3)"/><rect x="91.8" y="509.33" width="86" height="1.4" fill="url(#q12)" transform="translate(0.2)"/><rect x="91.6" y="510.67" width="86" height="1.4" fill="url(#q12)" transform="translate(0.4)"/><rect x="88.8" y="512.00" width="86" height="1.4" fill="url(#q16)" transform="translate(3.2)"/><rect x="87.6" y="513.33" width="86" height="1.4" fill="url(#q16)" transform="translate(4.4)"/><rect x="91.7" y="514.67" width="86" height="1.4" fill="url(#q15)" transform="translate(0.3)"/><rect x="83.2" y="516.00" width="86" height="1.4" fill="url(#q16)" transform="translate(8.8)"/><rect x="80.6" y="517.33" width="86" height="1.4" fill="url(#q16)" transform="translate(11.4)"/><rect x="82.8" y="518.67" width="86" height="1.4" fill="url(#q16)" transform="translate(9.2)"/><rect x="84.8" y="520.00" width="86" height="1.4" fill="url(#q16)" transform="translate(7.2)"/><rect x="89.6" y="521.33" width="86" height="1.4" fill="url(#q17)" transform="translate(2.4)"/><rect x="91.6" y="522.67" width="86" height="1.4" fill="url(#q12)" transform="translate(0.4)"/><rect x="91.8" y="524.00" width="86" height="1.4" fill="url(#q12)" transform="translate(0.2)"/><rect x="90.7" y="525.33" width="86" height="1.4" fill="url(#q12)" transform="translate(1.3)"/><rect x="90.6" y="526.67" width="86" height="1.4" fill="url(#q12)" transform="translate(1.4)"/><rect x="82.9" y="528.00" width="86" height="1.4" fill="url(#q13)" transform="translate(9.1)"/><rect x="86.6" y="529.33" width="86" height="1.4" fill="url(#q13)" transform="translate(5.4)"/><rect x="87.7" y="530.67" width="86" height="1.4" fill="url(#q13)" transform="translate(4.3)"/><rect x="83.2" y="532.00" width="86" height="1.4" fill="url(#q13)" transform="translate(8.8)"/><rect x="83.7" y="533.33" width="86" height="1.4" fill="url(#q14)" transform="translate(8.3)"/><rect x="82.8" y="534.67" width="86" height="1.4" fill="url(#q14)" transform="translate(9.2)"/><rect x="84.7" y="536.00" width="86" height="1.4" fill="url(#q15)" transform="translate(7.3)"/><rect x="86.2" y="537.33" width="86" height="1.4" fill="url(#q14)" transform="translate(5.8)"/><rect x="91.6" y="538.67" width="86" height="1.4" fill="url(#q15)" transform="translate(0.4)"/><rect x="87.9" y="540.00" width="86" height="1.4" fill="url(#q14)" transform="translate(4.1)"/><rect x="92.0" y="541.33" width="86" height="1.4" fill="url(#q14)" transform="translate(0.0)"/><rect x="91.7" y="542.67" width="86" height="1.4" fill="url(#q14)" transform="translate(0.3)"/><rect x="90.8" y="544.00" width="86" height="1.4" fill="url(#q11)" transform="translate(1.2)"/><rect x="90.9" y="545.33" width="86" height="1.4" fill="url(#q11)" transform="translate(1.1)"/><rect x="90.8" y="546.67" width="86" height="1.4" fill="url(#q11)" transform="translate(1.2)"/><rect x="91.7" y="548.00" width="86" height="1.4" fill="url(#q11)" transform="translate(0.3)"/><rect x="91.9" y="549.33" width="86" height="1.4" fill="url(#q11)" transform="translate(0.1)"/><rect x="88.2" y="550.67" width="86" height="1.4" fill="url(#q7)" transform="translate(3.8)"/><rect x="91.8" y="552.00" width="86" height="1.4" fill="url(#q4)" transform="translate(0.2)"/><rect x="91.8" y="553.33" width="86" height="1.4" fill="url(#q1)" transform="translate(0.2)"/><rect x="91.6" y="554.67" width="86" height="1.4" fill="url(#q1)" transform="translate(0.4)"/><rect x="90.6" y="556.00" width="86" height="1.4" fill="url(#q0)" transform="translate(1.4)"/><rect x="90.6" y="557.33" width="86" height="1.4" fill="url(#q0)" transform="translate(1.4)"/><rect x="90.8" y="558.67" width="86" height="1.4" fill="url(#q0)" transform="translate(1.2)"/><rect x="91.2" y="560.00" width="86" height="1.4" fill="url(#q0)" transform="translate(0.8)"/><rect x="91.7" y="561.33" width="86" height="1.4" fill="url(#q0)" transform="translate(0.3)"/><rect x="90.7" y="562.67" width="86" height="1.4" fill="url(#q0)" transform="translate(1.3)"/><rect x="91.5" y="564.00" width="86" height="1.4" fill="url(#q0)" transform="translate(0.5)"/><rect x="91.5" y="565.33" width="86" height="1.4" fill="url(#q1)" transform="translate(0.5)"/><rect x="91.2" y="566.67" width="86" height="1.4" fill="url(#q0)" transform="translate(0.8)"/><rect x="90.1" y="568.00" width="86" height="1.4" fill="url(#q2)" transform="translate(1.9)"/><rect x="90.7" y="569.33" width="86" height="1.4" fill="url(#q4)" transform="translate(1.3)"/><rect x="91.6" y="570.67" width="86" height="1.4" fill="url(#q6)" transform="translate(0.4)"/><rect x="87.3" y="572.00" width="86" height="1.4" fill="url(#q8)" transform="translate(4.7)"/><rect x="90.0" y="573.33" width="86" height="1.4" fill="url(#q9)" transform="translate(2.0)"/><rect x="90.8" y="574.67" width="86" height="1.4" fill="url(#q9)" transform="translate(1.2)"/><rect x="90.6" y="576.00" width="86" height="1.4" fill="url(#q10)" transform="translate(1.4)"/><rect x="89.8" y="577.33" width="86" height="1.4" fill="url(#q10)" transform="translate(2.2)"/><rect x="89.0" y="578.67" width="86" height="1.4" fill="url(#q10)" transform="translate(3.0)"/><rect x="89.0" y="580.00" width="86" height="1.4" fill="url(#q10)" transform="translate(3.0)"/><rect x="90.6" y="581.33" width="86" height="1.4" fill="url(#q10)" transform="translate(1.4)"/><rect x="85.8" y="582.67" width="86" height="1.4" fill="url(#q10)" transform="translate(6.2)"/><rect x="87.6" y="584.00" width="86" height="1.4" fill="url(#q10)" transform="translate(4.4)"/><rect x="91.5" y="585.33" width="86" height="1.4" fill="url(#q9)" transform="translate(0.5)"/><rect x="89.1" y="586.67" width="86" height="1.4" fill="url(#q9)" transform="translate(2.9)"/><rect x="90.6" y="588.00" width="86" height="1.4" fill="url(#q8)" transform="translate(1.4)"/><rect x="91.7" y="625.33" width="86" height="1.4" fill="url(#q7)" transform="translate(0.3)"/><rect x="91.8" y="626.67" width="86" height="1.4" fill="url(#q5)" transform="translate(0.2)"/><rect x="90.2" y="628.00" width="86" height="1.4" fill="url(#q5)" transform="translate(1.8)"/><rect x="90.1" y="629.33" width="86" height="1.4" fill="url(#q3)" transform="translate(1.9)"/><rect x="91.8" y="630.67" width="86" height="1.4" fill="url(#q4)" transform="translate(0.2)"/><rect x="90.1" y="632.00" width="86" height="1.4" fill="url(#q3)" transform="translate(1.9)"/><rect x="89.1" y="633.33" width="86" height="1.4" fill="url(#q4)" transform="translate(2.9)"/><rect x="90.4" y="634.67" width="86" height="1.4" fill="url(#q3)" transform="translate(1.6)"/><rect x="90.0" y="636.00" width="86" height="1.4" fill="url(#q3)" transform="translate(2.0)"/><rect x="89.7" y="637.33" width="86" height="1.4" fill="url(#q3)" transform="translate(2.3)"/><rect x="89.6" y="638.67" width="86" height="1.4" fill="url(#q3)" transform="translate(2.4)"/></g><rect x="-3.1" y="589.33" width="178" height="1.4" fill="url(#q7)" transform="translate(3.1)"/><rect x="-2.7" y="590.67" width="178" height="1.4" fill="url(#q8)" transform="translate(2.7)"/><rect x="-4.8" y="592.00" width="178" height="1.4" fill="url(#q8)" transform="translate(4.8)"/><rect x="-1.3" y="593.33" width="178" height="1.4" fill="url(#q7)" transform="translate(1.3)"/><rect x="-3.7" y="594.67" width="178" height="1.4" fill="url(#q7)" transform="translate(3.7)"/><rect x="-3.6" y="596.00" width="178" height="1.4" fill="url(#q7)" transform="translate(3.6)"/><rect x="-1.2" y="597.33" width="178" height="1.4" fill="url(#q8)" transform="translate(1.2)"/><rect x="-1.3" y="598.67" width="178" height="1.4" fill="url(#q8)" transform="translate(1.3)"/><rect x="-1.1" y="600.00" width="178" height="1.4" fill="url(#q7)" transform="translate(1.1)"/><rect x="-2.6" y="601.33" width="178" height="1.4" fill="url(#q7)" transform="translate(2.6)"/><rect x="-0.2" y="602.67" width="178" height="1.4" fill="url(#q7)" transform="translate(0.2)"/><rect x="-1.0" y="604.00" width="178" height="1.4" fill="url(#q7)" transform="translate(1.0)"/><rect x="-2.6" y="605.33" width="178" height="1.4" fill="url(#q8)" transform="translate(2.6)"/><rect x="-1.5" y="606.67" width="178" height="1.4" fill="url(#q7)" transform="translate(1.5)"/><rect x="-3.4" y="608.00" width="178" height="1.4" fill="url(#q11)" transform="translate(3.4)"/><rect x="-3.2" y="609.33" width="178" height="1.4" fill="url(#q11)" transform="translate(3.2)"/><rect x="-2.2" y="610.67" width="178" height="1.4" fill="url(#q11)" transform="translate(2.2)"/><rect x="-1.3" y="612.00" width="178" height="1.4" fill="url(#q11)" transform="translate(1.3)"/><rect x="-1.1" y="613.33" width="178" height="1.4" fill="url(#q12)" transform="translate(1.1)"/><rect x="-1.4" y="614.67" width="178" height="1.4" fill="url(#q12)" transform="translate(1.4)"/><rect x="-3.3" y="616.00" width="178" height="1.4" fill="url(#q12)" transform="translate(3.3)"/><rect x="-3.0" y="617.33" width="178" height="1.4" fill="url(#q12)" transform="translate(3.0)"/><rect x="-0.5" y="618.67" width="178" height="1.4" fill="url(#q8)" transform="translate(0.5)"/><rect x="-0.6" y="620.00" width="178" height="1.4" fill="url(#q8)" transform="translate(0.6)"/><rect x="-4.2" y="621.33" width="178" height="1.4" fill="url(#q8)" transform="translate(4.2)"/><rect x="-2.8" y="622.67" width="178" height="1.4" fill="url(#q8)" transform="translate(2.8)"/><rect x="-0.5" y="624.00" width="178" height="1.4" fill="url(#q8)" transform="translate(0.5)"/><rect x="0" y="589" width="78" height="36" filter="url(#sq3)"/><rect x="171" y="0" width="7" height="66" filter="url(#nz3)"/><rect x="94" y="228.2" width="84" height="12.8" fill="url(#b3_0)"/><rect x="0" y="4" width="178" height="1" fill="#fff"/><rect x="0" y="65" width="178" height="5" fill="#fff"/><rect x="0" y="81.9" width="178" height="0.9" fill="#fff"/><rect x="0" y="91.2" width="178" height="8.8" fill="#fff"/><rect x="0" y="140.9" width="178" height="0.9" fill="#fff"/><rect x="0" y="152.8" width="178" height="8.2" fill="#fff"/><rect x="0" y="162" width="178" height="4" fill="#fff"/><rect x="0" y="170.7" width="178" height="4.2" fill="#fff"/><rect x="0" y="180.3" width="178" height="0.7" fill="#fff"/><rect x="0" y="188.5" width="178" height="1.2" fill="#fff"/><rect x="0" y="193.8" width="178" height="1.2" fill="#fff"/><rect x="0" y="208.8" width="178" height="0.9" fill="#fff"/><rect x="0" y="229.8" width="178" height="1" fill="#fff"/><rect x="0" y="241.9" width="178" height="3.8" fill="#fff"/><rect x="0" y="250" width="178" height="0.9" fill="#fff"/><rect x="0" y="261.9" width="178" height="1.1" fill="#fff"/><rect x="0" y="265.1" width="178" height="0.8" fill="#fff"/><rect x="0" y="284.1" width="178" height="1" fill="#fff"/><rect x="0" y="303.5" width="178" height="0.9" fill="#fff"/><rect x="0" y="306" width="178" height="0.9" fill="#fff"/><rect x="0" y="324.9" width="178" height="1" fill="#fff"/><rect x="0" y="381.6" width="178" height="2.4" fill="#fff"/><rect x="0" y="409" width="178" height="1.9" fill="#fff"/><rect x="0" y="423" width="178" height="1.1" fill="#fff"/><rect x="0" y="464" width="178" height="1" fill="#fff"/><rect x="0" y="476.9" width="178" height="0.9" fill="#fff"/><rect x="0" y="488.9" width="178" height="1.1" fill="#fff"/><rect x="0" y="510.4" width="178" height="1" fill="#fff"/><rect x="0" y="517.8" width="178" height="1.1" fill="#fff"/><rect x="0" y="523" width="178" height="0.8" fill="#fff"/><rect x="0" y="542" width="178" height="1.1" fill="#fff"/><rect x="0" y="545.1" width="178" height="0.8" fill="#fff"/><rect x="0" y="547" width="178" height="0.8" fill="#fff"/><rect x="0" y="552" width="178" height="6" fill="#fff"/><rect x="0" y="559" width="178" height="1" fill="#fff"/><rect x="0" y="563.1" width="178" height="1.1" fill="#fff"/><rect x="0" y="567" width="178" height="1.1" fill="#fff"/><rect x="0" y="584" width="178" height="1" fill="#fff"/><rect x="0" y="600.2" width="178" height="0.9" fill="#fff"/><rect x="0" y="624.8" width="178" height="2.5" fill="#fff"/><rect x="0" y="636.9" width="178" height="3.1" fill="#fff"/><rect x="0" y="22" width="178" height="1" fill="#000"/><rect x="0" y="90.2" width="178" height="1" fill="#000"/><rect x="0" y="102.6" width="178" height="1.1" fill="#000"/><rect x="0" y="118" width="178" height="1" fill="#000"/><rect x="0" y="120.9" width="178" height="0.9" fill="#000"/><rect x="0" y="123.9" width="178" height="0.9" fill="#000"/><rect x="0" y="139.8" width="178" height="0.9" fill="#000"/><rect x="0" y="161" width="178" height="1" fill="#000"/><rect x="0" y="169.5" width="178" height="1.2" fill="#000"/><rect x="0" y="181" width="178" height="1" fill="#000"/><rect x="0" y="187.4" width="178" height="1" fill="#000"/><rect x="0" y="195.9" width="178" height="1.9" fill="#000"/><rect x="0" y="223.9" width="178" height="0.9" fill="#000"/><rect x="0" y="241" width="178" height="0.9" fill="#000"/><rect x="0" y="248.2" width="178" height="1.8" fill="#000"/><rect x="0" y="252.2" width="178" height="9.7" fill="#000"/><rect x="0" y="263" width="178" height="1.1" fill="#000"/><rect x="0" y="289.8" width="178" height="0.9" fill="#000"/><rect x="0" y="301.8" width="178" height="1" fill="#000"/><rect x="0" y="317" width="178" height="0.9" fill="#000"/><rect x="0" y="322" width="178" height="0.9" fill="#000"/><rect x="0" y="342" width="178" height="0.9" fill="#000"/><rect x="0" y="353.7" width="178" height="0.9" fill="#000"/><rect x="0" y="372.8" width="178" height="0.9" fill="#000"/><rect x="0" y="452.9" width="178" height="0.9" fill="#000"/><rect x="0" y="492" width="178" height="1" fill="#000"/><rect x="0" y="494" width="178" height="0.9" fill="#000"/><rect x="0" y="497" width="178" height="1" fill="#000"/><rect x="0" y="504" width="178" height="0.9" fill="#000"/><rect x="0" y="513" width="178" height="1" fill="#000"/><rect x="0" y="517" width="178" height="0.8" fill="#000"/><rect x="0" y="527" width="178" height="1" fill="#000"/><rect x="0" y="531.3" width="178" height="1" fill="#000"/><rect x="0" y="537.8" width="178" height="1" fill="#000"/><rect x="0" y="551" width="178" height="1" fill="#000"/><rect x="0" y="570.1" width="178" height="1.6" fill="#000"/><rect x="0" y="588.2" width="178" height="0.9" fill="#000"/><rect x="0" y="605.9" width="178" height="0.9" fill="#000"/><rect x="0" y="627.7" width="178" height="1" fill="#000"/><line x1="0" x2="178" y1="168.7" y2="168.7" stroke="#000" stroke-width="1.4" stroke-dasharray="1.5 1.5"/></svg>
<div class="ax" style="left:768px;top:80px;width:178px;height:641px;"></div>
<div class="t yl" style="left:723px;width:40px;text-align:right;top:713.7px;font-size:12.6px;letter-spacing:0.5px;">0</div>
<div class="tk" style="left:769px;top:587px;width:4px;height:1px;"></div>
<div class="tk" style="left:941px;top:587px;width:4px;height:1px;"></div>
<div class="t yl" style="left:723px;width:40px;text-align:right;top:580.4px;font-size:12.6px;letter-spacing:0.5px;">5</div>
<div class="tk" style="left:769px;top:453px;width:4px;height:1px;"></div>
<div class="tk" style="left:941px;top:453px;width:4px;height:1px;"></div>
<div class="t yl" style="left:723px;width:40px;text-align:right;top:447.0px;font-size:12.6px;letter-spacing:0.5px;">10</div>
<div class="tk" style="left:769px;top:320px;width:4px;height:1px;"></div>
<div class="tk" style="left:941px;top:320px;width:4px;height:1px;"></div>
<div class="t yl" style="left:723px;width:40px;text-align:right;top:313.7px;font-size:12.6px;letter-spacing:0.5px;">15</div>
<div class="tk" style="left:769px;top:187px;width:4px;height:1px;"></div>
<div class="tk" style="left:941px;top:187px;width:4px;height:1px;"></div>
<div class="t yl" style="left:723px;width:40px;text-align:right;top:180.4px;font-size:12.6px;letter-spacing:0.5px;">20</div>
<div class="t xl" style="left:749.4px;width:40px;text-align:center;top:725.5px;font-size:12.6px;letter-spacing:0.5px;">320</div>
<div class="tk" style="left:810px;top:81px;width:1px;height:4px;"></div>
<div class="tk" style="left:810px;top:716px;width:1px;height:4px;"></div>
<div class="t xl" style="left:790.9px;width:40px;text-align:center;top:725.5px;font-size:12.6px;letter-spacing:0.5px;">335</div>
<div class="tk" style="left:851px;top:81px;width:1px;height:4px;"></div>
<div class="tk" style="left:851px;top:716px;width:1px;height:4px;"></div>
<div class="t xl" style="left:832.4px;width:40px;text-align:center;top:725.5px;font-size:12.6px;letter-spacing:0.5px;">350</div>
<div class="tk" style="left:893px;top:81px;width:1px;height:4px;"></div>
<div class="tk" style="left:893px;top:716px;width:1px;height:4px;"></div>
<div class="t xl" style="left:873.9px;width:40px;text-align:center;top:725.5px;font-size:12.6px;letter-spacing:0.5px;">365</div>
<div class="tk" style="left:934px;top:81px;width:1px;height:4px;"></div>
<div class="tk" style="left:934px;top:716px;width:1px;height:4px;"></div>
<div class="t xl" style="left:915.3px;width:40px;text-align:center;top:725.5px;font-size:12.6px;letter-spacing:0.5px;">380</div>
<div class="t" id="xlab" style="left:384.2px;width:200px;text-align:center;top:742.8px;font-size:13.2px;letter-spacing:0.5px;">frequency (MHz)</div>
<div style="position:absolute;left:1019px;top:160px;width:16px;height:481px;background:linear-gradient(to bottom,#800000 0.0%,#9c0000 2.5%,#b90000 5.0%,#d60000 7.5%,#f30900 10.0%,#ff2100 12.5%,#ff3900 15.0%,#ff5000 17.5%,#ff6800 20.0%,#ff8000 22.5%,#ff9700 25.0%,#ffaf00 27.5%,#ffc600 30.0%,#ffde00 32.5%,#f7f600 35.0%,#e2ff15 37.5%,#ceff29 40.0%,#b9ff3e 42.5%,#a5ff52 45.0%,#90ff67 47.5%,#7bff7b 50.0%,#67ff90 52.5%,#52ffa5 55.0%,#3effb9 57.5%,#29ffce 60.0%,#15ffe2 62.5%,#00e5f7 65.0%,#00ccff 67.5%,#00b3ff 70.0%,#0099ff 72.5%,#0080ff 75.0%,#0066ff 77.5%,#004cff 80.0%,#0033ff 82.5%,#001aff 85.0%,#0000ff 87.5%,#0000f3 90.0%,#0000d6 92.5%,#0000b9 95.0%,#00009c 97.5%,#000080 100.0%);"></div>
<div class="ax" style="left:1019px;top:160px;width:16px;height:481px;"></div>
<div class="tk" style="left:1020px;top:200px;width:4px;height:1px;"></div>
<div class="tk" style="left:1030px;top:200px;width:4px;height:1px;"></div>
<div class="t cl" style="left:954px;width:60px;text-align:right;top:193.7px;font-size:12.6px;letter-spacing:0.5px;">150</div>
<div class="tk" style="left:1020px;top:267px;width:4px;height:1px;"></div>
<div class="tk" style="left:1030px;top:267px;width:4px;height:1px;"></div>
<div class="t cl" style="left:954px;width:60px;text-align:right;top:260.4px;font-size:12.6px;letter-spacing:0.5px;">100</div>
<div class="tk" style="left:1020px;top:333px;width:4px;height:1px;"></div>
<div class="tk" style="left:1030px;top:333px;width:4px;height:1px;"></div>
<div class="t cl" style="left:954px;width:60px;text-align:right;top:327.0px;font-size:12.6px;letter-spacing:0.5px;">50</div>
<div class="tk" style="left:1020px;top:400px;width:4px;height:1px;"></div>
<div class="tk" style="left:1030px;top:400px;width:4px;height:1px;"></div>
<div class="t cl" style="left:954px;width:60px;text-align:right;top:393.7px;font-size:12.6px;letter-spacing:0.5px;">0</div>
<div class="tk" style="left:1020px;top:467px;width:4px;height:1px;"></div>
<div class="tk" style="left:1030px;top:467px;width:4px;height:1px;"></div>
<div class="t cl" style="left:954px;width:60px;text-align:right;top:460.4px;font-size:12.6px;letter-spacing:0.5px;">−50</div>
<div class="tk" style="left:1020px;top:533px;width:4px;height:1px;"></div>
<div class="tk" style="left:1030px;top:533px;width:4px;height:1px;"></div>
<div class="t cl" style="left:954px;width:60px;text-align:right;top:527.0px;font-size:12.6px;letter-spacing:0.5px;">−100</div>
<div class="tk" style="left:1020px;top:600px;width:4px;height:1px;"></div>
<div class="tk" style="left:1030px;top:600px;width:4px;height:1px;"></div>
<div class="t cl" style="left:954px;width:60px;text-align:right;top:593.7px;font-size:12.6px;letter-spacing:0.5px;">−150</div>
<div class="tk" style="left:1022px;top:161px;width:1px;height:5px;"></div>
<div class="tk" style="left:1022px;top:635px;width:1px;height:5px;"></div>
<div class="tk" style="left:1025px;top:161px;width:1px;height:5px;"></div>
<div class="tk" style="left:1025px;top:635px;width:1px;height:5px;"></div>
<div class="tk" style="left:1028px;top:161px;width:1px;height:5px;"></div>
<div class="tk" style="left:1028px;top:635px;width:1px;height:5px;"></div>
<div class="tk" style="left:1031px;top:161px;width:1px;height:5px;"></div>
<div class="tk" style="left:1031px;top:635px;width:1px;height:5px;"></div>
<div class="tk" style="left:1018px;top:646px;width:1px;height:1px;background:#777;"></div>
<div class="tk" style="left:1021px;top:646px;width:1px;height:1px;background:#777;"></div>
<div class="tk" style="left:1024px;top:646px;width:1px;height:1px;background:#777;"></div>
<div class="tk" style="left:1027px;top:646px;width:1px;height:1px;background:#777;"></div>
<div class="tk" style="left:1030px;top:646px;width:1px;height:1px;background:#777;"></div>
<div class="tk" style="left:1034px;top:646px;width:1px;height:1px;background:#777;"></div>
</body></html>
